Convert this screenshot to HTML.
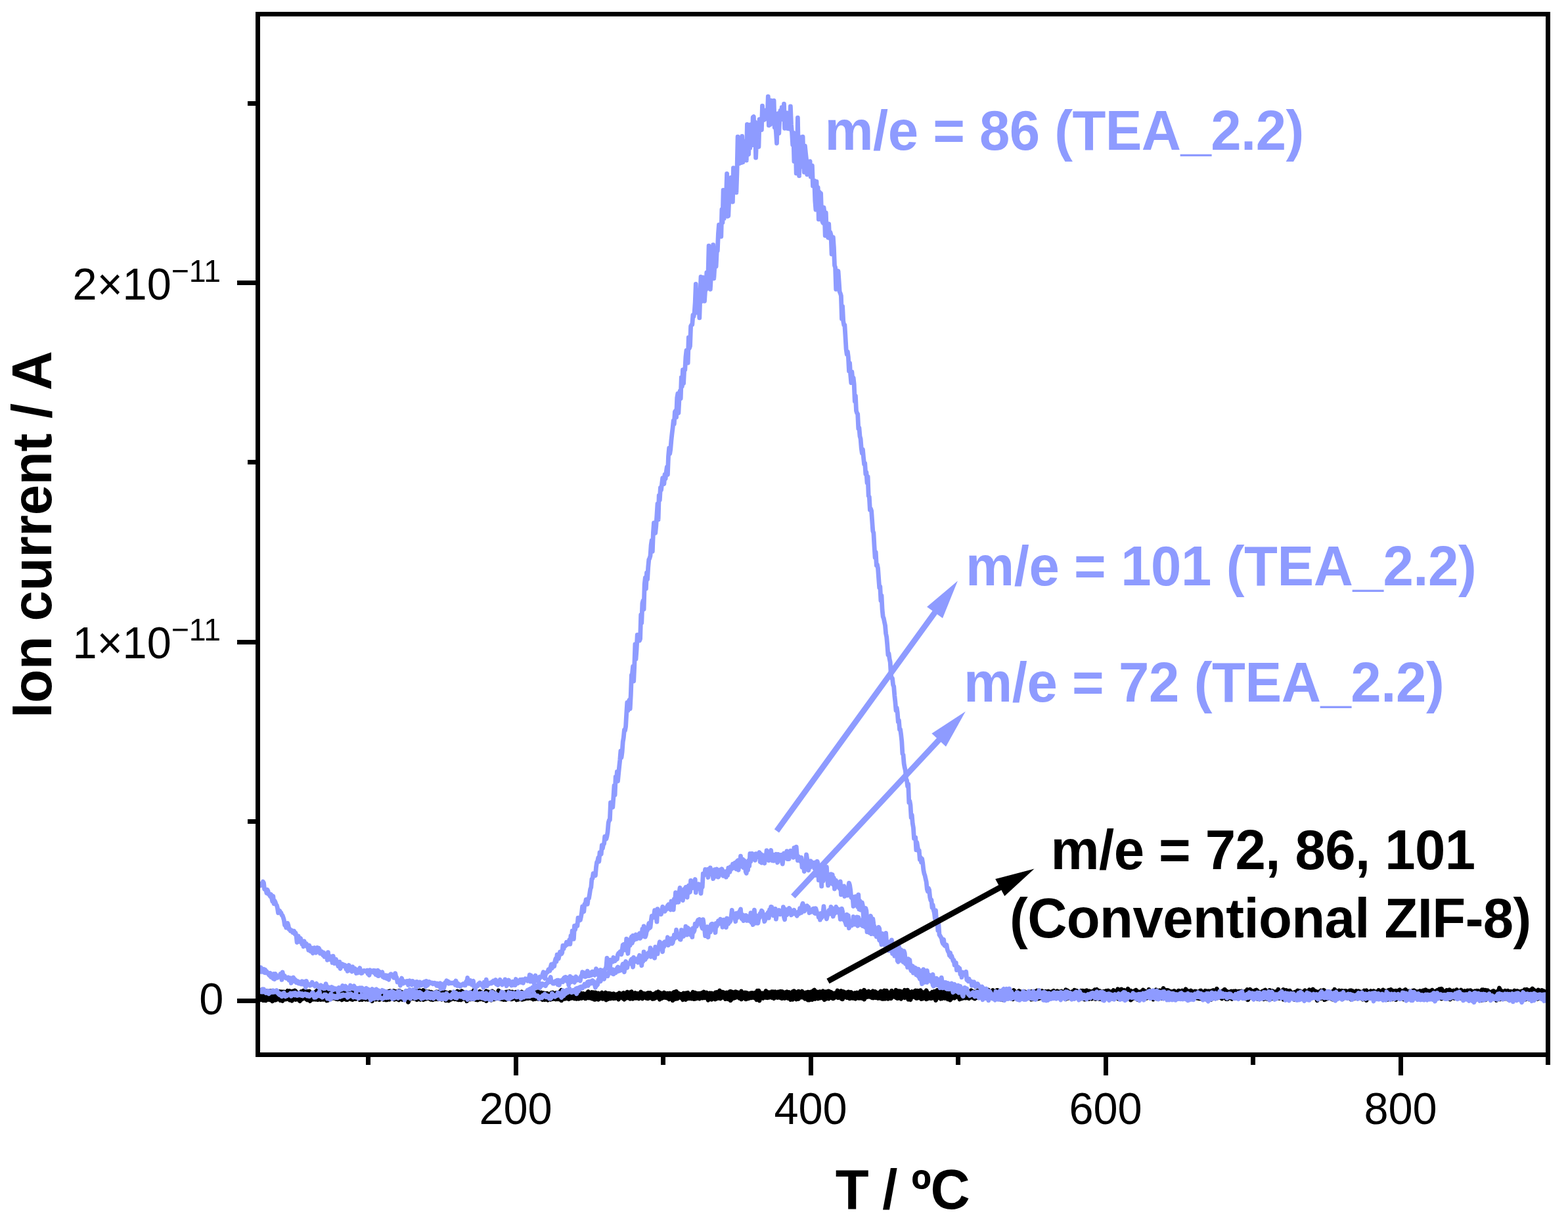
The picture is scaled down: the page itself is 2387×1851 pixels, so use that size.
<!DOCTYPE html><html><head><meta charset="utf-8"><title>Ion current vs T</title>
<style>html,body{margin:0;padding:0;background:#fff}svg{display:block}text{font-family:"Liberation Sans",sans-serif}.b{font-weight:bold;font-size:83.33px}.t{font-size:66.67px}.s{font-size:46.4px}</style></head><body>
<svg width="2387" height="1851" viewBox="0 0 2387 1851">
<rect x="0" y="0" width="2387" height="1851" fill="#fff"/>
<defs><clipPath id="cp"><rect x="396" y="25" width="1957" height="1577"/></clipPath></defs>
<g clip-path="url(#cp)">
<polyline points="396.0,1513.3 397.1,1510.0 398.2,1509.7 399.3,1506.3 400.4,1510.5 401.5,1510.0 402.6,1509.7 403.7,1511.0 404.8,1511.2 405.9,1508.8 407.0,1509.1 408.1,1509.8 409.2,1511.6 410.3,1511.4 411.4,1508.5 412.5,1508.8 413.6,1511.7 414.7,1513.1 415.8,1510.5 416.9,1509.5 418.0,1512.3 419.1,1510.1 420.2,1511.7 421.3,1513.1 422.4,1511.6 423.5,1510.7 424.6,1511.8 425.7,1509.6 426.8,1510.3 427.9,1509.7 429.0,1510.3 430.1,1509.8 431.2,1510.3 432.3,1510.0 433.4,1510.8 434.5,1510.7 435.6,1511.1 436.7,1512.9 437.8,1508.2 438.9,1512.7 440.0,1510.3 441.1,1508.7 442.2,1510.4 443.3,1510.8 444.4,1512.4 445.5,1509.0 446.6,1511.0 447.7,1510.9 448.8,1508.0 449.9,1508.8 451.0,1511.6 452.1,1511.8 453.2,1512.4 454.3,1511.5 455.4,1511.3 456.5,1510.9 457.6,1512.6 458.7,1509.4 459.8,1510.5 460.9,1511.3 462.0,1508.2 463.1,1512.8 464.2,1509.5 465.3,1510.6 466.4,1514.2 467.5,1509.4 468.6,1509.9 469.7,1513.2 470.8,1509.0 471.9,1510.1 473.0,1511.6 474.1,1511.5 475.2,1511.7 476.3,1511.4 477.4,1512.9 478.5,1512.4 479.6,1511.7 480.7,1509.7 481.8,1509.6 482.9,1507.7 484.0,1511.9 485.1,1507.9 486.2,1512.2 487.3,1513.8 488.4,1509.1 489.5,1509.7 490.6,1510.0 491.7,1512.1 492.8,1509.4 493.9,1510.6 495.0,1510.0 496.1,1510.4 497.2,1512.9 498.3,1509.3 499.4,1511.0 500.5,1511.3 501.6,1512.2 502.7,1508.8 503.8,1512.6 504.9,1511.6 506.0,1512.3 507.1,1511.0 508.2,1508.2 509.3,1509.8 510.4,1512.2 511.5,1510.9 512.6,1510.8 513.7,1513.8 514.8,1514.4 515.9,1510.8 517.0,1514.0 518.1,1507.7 519.2,1507.6 520.3,1512.3 521.4,1510.5 522.5,1511.8 523.6,1511.7 524.7,1510.8 525.8,1512.0 526.9,1511.2 528.0,1508.5 529.1,1511.3 530.2,1511.2 531.3,1513.9 532.4,1509.1 533.5,1511.0 534.6,1510.3 535.7,1510.7 536.8,1513.6 537.9,1511.6 539.0,1510.2 540.1,1511.2 541.2,1512.2 542.3,1509.4 543.4,1510.6 544.5,1513.5 545.6,1512.4 546.7,1510.9 547.8,1510.2 548.9,1510.8 550.0,1508.5 551.1,1512.5 552.2,1511.6 553.3,1511.2 554.4,1508.9 555.5,1509.9 556.6,1511.9 557.7,1511.4 558.8,1510.2 559.9,1511.8 561.0,1512.5 562.1,1510.0 563.2,1510.2 564.3,1509.7 565.4,1509.2 566.5,1512.3 567.6,1511.9 568.7,1511.6 569.8,1509.2 570.9,1509.4 572.0,1511.0 573.1,1510.4 574.2,1511.3 575.3,1510.0 576.4,1512.1 577.5,1514.0 578.6,1513.6 579.7,1513.7 580.8,1511.2 581.9,1512.6 583.0,1510.5 584.1,1512.6 585.2,1510.5 586.3,1510.3 587.4,1510.1 588.5,1512.3 589.6,1511.6 590.7,1511.4 591.8,1509.3 592.9,1511.4 594.0,1508.8 595.1,1513.5 596.2,1510.9 597.3,1511.5 598.4,1511.0 599.5,1508.6 600.6,1509.0 601.7,1511.1 602.8,1513.6 603.9,1509.4 605.0,1510.1 606.1,1511.1 607.2,1508.5 608.3,1508.5 609.4,1510.5 610.5,1511.1 611.6,1510.6 612.7,1513.7 613.8,1511.0 614.9,1511.8 616.0,1513.8 617.1,1514.0 618.2,1508.7 619.3,1510.6 620.4,1513.1 621.5,1509.0 622.6,1509.8 623.7,1509.2 624.8,1509.1 625.9,1509.4 627.0,1511.5 628.1,1513.3 629.2,1513.7 630.3,1511.3 631.4,1508.1 632.5,1511.2 633.6,1510.7 634.7,1511.8 635.8,1511.1 636.9,1508.4 638.0,1512.0 639.1,1508.0 640.2,1510.2 641.3,1511.8 642.4,1511.9 643.5,1513.8 644.6,1507.5 645.7,1511.9 646.8,1512.4 647.9,1510.8 649.0,1512.4 650.1,1509.6 651.2,1512.4 652.3,1512.2 653.4,1509.8 654.5,1510.3 655.6,1511.1 656.7,1510.3 657.8,1513.0 658.9,1511.6 660.0,1513.5 661.1,1513.3 662.2,1511.5 663.3,1511.1 664.4,1509.9 665.5,1510.1 666.6,1510.1 667.7,1512.0 668.8,1510.0 669.9,1511.5 671.0,1511.7 672.1,1510.6 673.2,1511.1 674.3,1513.7 675.4,1514.0 676.5,1510.2 677.6,1511.1 678.7,1510.8 679.8,1511.0 680.9,1513.9 682.0,1512.5 683.1,1513.5 684.2,1514.3 685.3,1510.7 686.4,1511.2 687.5,1511.5 688.6,1513.1 689.7,1511.3 690.8,1512.5 691.9,1513.3 693.0,1513.3 694.1,1512.2 695.2,1510.2 696.3,1509.0 697.4,1513.3 698.5,1512.2 699.6,1510.0 700.7,1510.7 701.8,1510.8 702.9,1508.8 704.0,1511.9 705.1,1510.3 706.2,1511.1 707.3,1512.7 708.4,1511.4 709.5,1512.4 710.6,1512.3 711.7,1511.6 712.8,1511.7 713.9,1514.6 715.0,1511.4 716.1,1514.2 717.2,1510.2 718.3,1512.8 719.4,1511.9 720.5,1510.5 721.6,1507.4 722.7,1514.2 723.8,1509.9 724.9,1510.2 726.0,1511.9 727.1,1511.8 728.2,1512.2 729.3,1511.3 730.4,1509.4 731.5,1513.1 732.6,1510.3 733.7,1512.1 734.8,1512.7 735.9,1513.7 737.0,1511.5 738.1,1511.3 739.2,1511.5 740.3,1508.9 741.4,1510.6 742.5,1510.2 743.6,1510.0 744.7,1512.1 745.8,1511.4 746.9,1514.4 748.0,1514.3 749.1,1508.9 750.2,1512.1 751.3,1510.3 752.4,1512.8 753.5,1512.2 754.6,1513.4 755.7,1512.5 756.8,1513.2 757.9,1511.5 759.0,1508.0 760.1,1510.1 761.2,1510.6 762.3,1511.2 763.4,1510.4 764.5,1514.7 765.6,1511.8 766.7,1514.1 767.8,1511.5 768.9,1514.7 770.0,1510.2 771.1,1513.1 772.2,1510.0 773.3,1512.8 774.4,1514.7 775.5,1509.5 776.6,1510.7 777.7,1512.5 778.8,1511.9 779.9,1510.0 781.0,1514.0 782.1,1512.3 783.2,1514.3 784.3,1512.7 785.4,1510.4 786.5,1511.5 787.6,1514.4 788.7,1510.0 789.8,1511.5 790.9,1513.2 792.0,1513.9 793.1,1513.6 794.2,1509.9 795.3,1515.6 796.4,1512.0 797.5,1512.3 798.6,1512.3 799.7,1512.0 800.8,1510.8 801.9,1511.8 803.0,1514.5 804.1,1510.2 805.2,1508.5 806.3,1513.2 807.4,1512.9 808.5,1513.6 809.6,1515.2 810.7,1511.3 811.8,1512.7 812.9,1513.2 814.0,1514.4 815.1,1514.1 816.2,1511.1 817.3,1510.3 818.4,1512.1 819.5,1509.9 820.6,1514.3 821.7,1511.9 822.8,1512.0 823.9,1511.1 825.0,1515.0 826.1,1513.0 827.2,1511.9 828.3,1513.5 829.4,1512.4 830.5,1513.5 831.6,1514.7 832.7,1512.2 833.8,1513.4 834.9,1513.4 836.0,1514.4 837.1,1513.6 838.2,1512.7 839.3,1511.6 840.4,1513.1 841.5,1511.0 842.6,1513.7 843.7,1512.8 844.8,1513.6 845.9,1511.9 847.0,1511.4 848.1,1511.3 849.2,1514.5 850.3,1512.4 851.4,1512.4 852.5,1509.9 853.6,1512.7 854.7,1507.3 855.8,1515.0 856.9,1512.4 858.0,1512.9 859.1,1510.5 860.2,1511.1 861.3,1513.8 862.4,1512.5 863.5,1513.5 864.6,1514.9 865.7,1513.9 866.8,1509.9 867.9,1511.3 869.0,1511.1 870.1,1511.5 871.2,1509.6 872.3,1509.7 873.4,1511.8 874.5,1512.0 875.6,1513.8 876.7,1512.5 877.8,1515.3 878.9,1510.1 880.0,1510.8 881.1,1513.4 882.2,1512.6 883.3,1511.4 884.4,1514.3 885.5,1514.8 886.6,1515.1 887.7,1512.4 888.8,1513.1 889.9,1513.4 891.0,1513.2 892.1,1514.7 893.2,1512.3 894.3,1513.7 895.4,1509.6 896.5,1514.3 897.6,1515.8 898.7,1513.1 899.8,1514.8 900.9,1510.5 902.0,1512.6 903.1,1510.7 904.2,1513.7 905.3,1514.0 906.4,1511.0 907.5,1511.9 908.6,1512.3 909.7,1517.1 910.8,1513.1 911.9,1513.5 913.0,1513.8 914.1,1513.8 915.2,1512.9 916.3,1511.2 917.4,1512.2 918.5,1515.9 919.6,1513.7 920.7,1512.7 921.8,1511.2 922.9,1513.3 924.0,1513.4 925.1,1512.3 926.2,1514.8 927.3,1512.4 928.4,1513.1 929.5,1514.8 930.6,1513.8 931.7,1515.2 932.8,1513.1 933.9,1512.8 935.0,1514.2 936.1,1513.8 937.2,1515.4 938.3,1514.1 939.4,1513.5 940.5,1514.2 941.6,1514.5 942.7,1511.7 943.8,1513.2 944.9,1512.9 946.0,1515.4 947.1,1512.7 948.2,1515.1 949.3,1511.4 950.4,1513.3 951.5,1515.1 952.6,1513.0 953.7,1515.2 954.8,1510.1 955.9,1513.4 957.0,1513.6 958.1,1513.2 959.2,1510.9 960.3,1514.4 961.4,1509.6 962.5,1514.8 963.6,1513.8 964.7,1514.9 965.8,1512.9 966.9,1511.5 968.0,1512.4 969.1,1512.5 970.2,1514.2 971.3,1512.7 972.4,1513.9 973.5,1514.0 974.6,1515.5 975.7,1510.0 976.8,1512.6 977.9,1514.3 979.0,1514.3 980.1,1512.3 981.2,1512.8 982.3,1513.0 983.4,1513.4 984.5,1512.3 985.6,1512.1 986.7,1511.4 987.8,1512.5 988.9,1515.3 990.0,1511.6 991.1,1514.7 992.2,1516.2 993.3,1513.4 994.4,1516.9 995.5,1512.9 996.6,1515.7 997.7,1513.0 998.8,1511.1 999.9,1513.6 1001.0,1516.1 1002.1,1512.1 1003.2,1513.8 1004.3,1511.4 1005.4,1511.6 1006.5,1513.8 1007.6,1512.7 1008.7,1513.9 1009.8,1515.0 1010.9,1511.1 1012.0,1511.9 1013.1,1513.1 1014.2,1516.7 1015.3,1512.4 1016.4,1512.2 1017.5,1513.7 1018.6,1516.3 1019.7,1512.0 1020.8,1512.4 1021.9,1513.0 1023.0,1514.1 1024.1,1516.4 1025.2,1510.9 1026.3,1510.3 1027.4,1513.2 1028.5,1513.8 1029.6,1509.3 1030.7,1511.9 1031.8,1514.4 1032.9,1512.0 1034.0,1513.6 1035.1,1513.1 1036.2,1513.9 1037.3,1513.5 1038.4,1513.3 1039.5,1514.8 1040.6,1511.9 1041.7,1513.0 1042.8,1514.6 1043.9,1511.9 1045.0,1512.2 1046.1,1511.6 1047.2,1511.3 1048.3,1516.0 1049.4,1513.5 1050.5,1515.8 1051.6,1513.9 1052.7,1512.9 1053.8,1512.3 1054.9,1513.2 1056.0,1512.7 1057.1,1514.2 1058.2,1511.3 1059.3,1513.0 1060.4,1513.4 1061.5,1512.3 1062.6,1512.3 1063.7,1513.5 1064.8,1513.6 1065.9,1512.5 1067.0,1512.6 1068.1,1511.7 1069.2,1513.5 1070.3,1512.4 1071.4,1510.1 1072.5,1512.1 1073.6,1513.6 1074.7,1513.0 1075.8,1511.1 1076.9,1513.7 1078.0,1513.5 1079.1,1513.5 1080.2,1514.9 1081.3,1512.0 1082.4,1513.4 1083.5,1512.0 1084.6,1514.0 1085.7,1514.3 1086.8,1513.2 1087.9,1513.6 1089.0,1511.1 1090.1,1513.4 1091.2,1510.5 1092.3,1515.8 1093.4,1514.2 1094.5,1509.9 1095.6,1508.1 1096.7,1514.4 1097.8,1510.9 1098.9,1513.1 1100.0,1510.2 1101.1,1512.4 1102.2,1511.2 1103.3,1513.2 1104.4,1511.7 1105.5,1514.6 1106.6,1511.0 1107.7,1514.2 1108.8,1512.1 1109.9,1513.0 1111.0,1509.6 1112.1,1509.3 1113.2,1513.8 1114.3,1510.1 1115.4,1511.6 1116.5,1511.6 1117.6,1510.6 1118.7,1512.4 1119.8,1509.8 1120.9,1510.1 1122.0,1513.5 1123.1,1510.7 1124.2,1513.2 1125.3,1513.1 1126.4,1514.4 1127.5,1512.7 1128.6,1509.1 1129.7,1511.0 1130.8,1511.3 1131.9,1513.9 1133.0,1512.5 1134.1,1511.2 1135.2,1512.7 1136.3,1511.4 1137.4,1512.8 1138.5,1512.2 1139.6,1513.7 1140.7,1512.5 1141.8,1513.5 1142.9,1511.9 1144.0,1513.1 1145.1,1511.7 1146.2,1512.9 1147.3,1512.3 1148.4,1511.7 1149.5,1511.2 1150.6,1511.5 1151.7,1512.7 1152.8,1508.2 1153.9,1513.9 1155.0,1508.1 1156.1,1511.6 1157.2,1511.4 1158.3,1513.1 1159.4,1512.2 1160.5,1511.8 1161.6,1512.0 1162.7,1513.4 1163.8,1515.6 1164.9,1512.5 1166.0,1508.5 1167.1,1511.2 1168.2,1512.5 1169.3,1517.1 1170.4,1510.6 1171.5,1511.2 1172.6,1512.7 1173.7,1512.3 1174.8,1509.7 1175.9,1513.3 1177.0,1509.7 1178.1,1511.4 1179.2,1513.9 1180.3,1509.7 1181.4,1511.2 1182.5,1514.5 1183.6,1511.4 1184.7,1510.1 1185.8,1510.8 1186.9,1513.1 1188.0,1509.2 1189.1,1510.7 1190.2,1509.4 1191.3,1509.9 1192.4,1513.8 1193.5,1511.6 1194.6,1511.0 1195.7,1512.4 1196.8,1510.6 1197.9,1509.8 1199.0,1513.6 1200.1,1513.1 1201.2,1510.4 1202.3,1512.8 1203.4,1514.0 1204.5,1512.5 1205.6,1512.5 1206.7,1509.7 1207.8,1511.5 1208.9,1508.7 1210.0,1513.5 1211.1,1511.4 1212.2,1513.8 1213.3,1510.4 1214.4,1513.1 1215.5,1509.1 1216.6,1511.0 1217.7,1512.5 1218.8,1512.2 1219.9,1511.5 1221.0,1509.0 1222.1,1513.8 1223.2,1512.7 1224.3,1513.5 1225.4,1513.4 1226.5,1511.0 1227.6,1512.2 1228.7,1515.9 1229.8,1510.2 1230.9,1512.3 1232.0,1510.7 1233.1,1514.4 1234.2,1511.9 1235.3,1509.9 1236.4,1510.6 1237.5,1509.3 1238.6,1507.9 1239.7,1507.2 1240.8,1510.4 1241.9,1509.7 1243.0,1511.8 1244.1,1510.2 1245.2,1511.9 1246.3,1514.4 1247.4,1509.6 1248.5,1509.6 1249.6,1513.1 1250.7,1515.3 1251.8,1510.1 1252.9,1508.8 1254.0,1511.0 1255.1,1510.8 1256.2,1512.6 1257.3,1509.8 1258.4,1511.1 1259.5,1511.0 1260.6,1508.9 1261.7,1508.9 1262.8,1512.2 1263.9,1512.3 1265.0,1510.2 1266.1,1514.0 1267.2,1513.0 1268.3,1512.2 1269.4,1512.4 1270.5,1512.0 1271.6,1512.6 1272.7,1512.8 1273.8,1511.5 1274.9,1508.1 1276.0,1511.2 1277.1,1510.1 1278.2,1509.5 1279.3,1512.4 1280.4,1508.5 1281.5,1512.7 1282.6,1510.3 1283.7,1509.4 1284.8,1510.0 1285.9,1515.2 1287.0,1513.8 1288.1,1510.9 1289.2,1513.1 1290.3,1514.3 1291.4,1509.9 1292.5,1510.9 1293.6,1512.8 1294.7,1512.0 1295.8,1510.7 1296.9,1514.0 1298.0,1512.2 1299.1,1512.6 1300.2,1515.2 1301.3,1512.1 1302.4,1515.6 1303.5,1511.8 1304.6,1511.0 1305.7,1511.5 1306.8,1512.7 1307.9,1512.4 1309.0,1511.9 1310.1,1508.9 1311.2,1509.5 1312.3,1510.8 1313.4,1512.5 1314.5,1513.6 1315.6,1507.3 1316.7,1511.0 1317.8,1510.5 1318.9,1511.1 1320.0,1511.6 1321.1,1509.8 1322.2,1509.1 1323.3,1512.9 1324.4,1512.4 1325.5,1510.5 1326.6,1511.0 1327.7,1510.1 1328.8,1508.9 1329.9,1512.3 1331.0,1510.1 1332.1,1509.4 1333.2,1510.2 1334.3,1513.9 1335.4,1511.9 1336.5,1511.6 1337.6,1511.3 1338.7,1512.6 1339.8,1512.4 1340.9,1509.0 1342.0,1510.7 1343.1,1510.1 1344.2,1511.5 1345.3,1511.0 1346.4,1507.9 1347.5,1513.0 1348.6,1511.5 1349.7,1508.3 1350.8,1513.0 1351.9,1511.3 1353.0,1511.9 1354.1,1511.1 1355.2,1511.3 1356.3,1510.2 1357.4,1508.3 1358.5,1510.0 1359.6,1511.3 1360.7,1511.1 1361.8,1512.1 1362.9,1510.9 1364.0,1507.3 1365.1,1512.2 1366.2,1509.7 1367.3,1508.8 1368.4,1510.5 1369.5,1508.7 1370.6,1511.6 1371.7,1509.4 1372.8,1514.1 1373.9,1510.5 1375.0,1510.0 1376.1,1509.9 1377.2,1507.4 1378.3,1509.5 1379.4,1509.7 1380.5,1510.4 1381.6,1507.3 1382.7,1511.0 1383.8,1513.0 1384.9,1510.2 1386.0,1510.8 1387.1,1511.6 1388.2,1509.6 1389.3,1510.2 1390.4,1512.4 1391.5,1511.2 1392.6,1508.9 1393.7,1508.0 1394.8,1514.6 1395.9,1511.6 1397.0,1508.3 1398.1,1511.1 1399.2,1512.0 1400.3,1511.1 1401.4,1507.8 1402.5,1513.8 1403.6,1511.9 1404.7,1510.6 1405.8,1512.0 1406.9,1510.5 1408.0,1510.3 1409.1,1512.3 1410.2,1507.7 1411.3,1512.5 1412.4,1511.5 1413.5,1512.1 1414.6,1512.4 1415.7,1513.4 1416.8,1513.2 1417.9,1512.3 1419.0,1510.3 1420.1,1512.0 1421.2,1510.1 1422.3,1509.3 1423.4,1511.6 1424.5,1511.5 1425.6,1512.8 1426.7,1507.4 1427.8,1511.9 1428.9,1512.0 1430.0,1511.1 1431.1,1513.3 1432.2,1509.5 1433.3,1511.4 1434.4,1510.3 1435.5,1510.8 1436.6,1509.3 1437.7,1510.6 1438.8,1512.0 1439.9,1511.1 1441.0,1511.4 1442.1,1509.6 1443.2,1513.4 1444.3,1509.7 1445.4,1510.9 1446.5,1511.8 1447.6,1510.5 1448.7,1512.1 1449.8,1511.1 1450.9,1513.6 1452.0,1511.7 1453.1,1511.5 1454.2,1509.5 1455.3,1511.6 1456.4,1512.4 1457.5,1511.5 1458.6,1509.3 1459.7,1509.9 1460.8,1510.4 1461.9,1510.8 1463.0,1508.5 1464.1,1513.8 1465.2,1510.6 1466.3,1510.9 1467.4,1510.0 1468.5,1510.7 1469.6,1513.8 1470.7,1509.2 1471.8,1509.9 1472.9,1509.0 1474.0,1509.8 1475.1,1513.2 1476.2,1509.7 1477.3,1510.0 1478.4,1507.8 1479.5,1510.1 1480.6,1511.0 1481.7,1509.9 1482.8,1510.0 1483.9,1512.0 1485.0,1511.5 1486.1,1510.5 1487.2,1509.4 1488.3,1508.2 1489.4,1513.4 1490.5,1508.1 1491.6,1511.7 1492.7,1510.3 1493.8,1509.4 1494.9,1512.1 1496.0,1509.4 1497.1,1512.6 1498.2,1509.0 1499.3,1511.4 1500.4,1512.7 1501.5,1509.0 1502.6,1514.0 1503.7,1512.0 1504.8,1507.0 1505.9,1512.8 1507.0,1513.7 1508.1,1510.2 1509.2,1510.3 1510.3,1511.2 1511.4,1507.5 1512.5,1510.8 1513.6,1512.1 1514.7,1509.7 1515.8,1512.3 1516.9,1514.1 1518.0,1507.4 1519.1,1507.6 1520.2,1509.4 1521.3,1511.5 1522.4,1511.1 1523.5,1509.0 1524.6,1508.7 1525.7,1509.3 1526.8,1513.2 1527.9,1509.0 1529.0,1509.6 1530.1,1512.0 1531.2,1510.0 1532.3,1508.9 1533.4,1512.8 1534.5,1511.0 1535.6,1509.4 1536.7,1509.9 1537.8,1512.0 1538.9,1509.9 1540.0,1510.9 1541.1,1511.9 1542.2,1512.1 1543.3,1507.5 1544.4,1509.7 1545.5,1509.9 1546.6,1510.6 1547.7,1511.7 1548.8,1512.3 1549.9,1509.7 1551.0,1508.7 1552.1,1510.8 1553.2,1509.5 1554.3,1513.2 1555.4,1511.0 1556.5,1510.5 1557.6,1512.0 1558.7,1509.4 1559.8,1509.9 1560.9,1510.1 1562.0,1511.5 1563.1,1512.5 1564.2,1511.7 1565.3,1511.6 1566.4,1510.0 1567.5,1511.0 1568.6,1510.0 1569.7,1512.3 1570.8,1509.4 1571.9,1510.3 1573.0,1510.8 1574.1,1511.6 1575.2,1509.2 1576.3,1510.0 1577.4,1509.0 1578.5,1508.2 1579.6,1512.1 1580.7,1511.1 1581.8,1507.9 1582.9,1508.8 1584.0,1511.2 1585.1,1509.4 1586.2,1508.6 1587.3,1512.3 1588.4,1509.5 1589.5,1509.7 1590.6,1511.2 1591.7,1509.2 1592.8,1510.3 1593.9,1510.5 1595.0,1511.5 1596.1,1509.1 1597.2,1512.0 1598.3,1510.8 1599.4,1513.1 1600.5,1510.6 1601.6,1509.4 1602.7,1509.4 1603.8,1508.4 1604.9,1510.2 1606.0,1510.1 1607.1,1511.7 1608.2,1510.3 1609.3,1508.8 1610.4,1511.8 1611.5,1509.5 1612.6,1510.6 1613.7,1512.5 1614.8,1512.2 1615.9,1509.0 1617.0,1510.0 1618.1,1512.3 1619.2,1511.7 1620.3,1511.0 1621.4,1511.6 1622.5,1506.7 1623.6,1509.6 1624.7,1507.8 1625.8,1509.1 1626.9,1509.5 1628.0,1510.8 1629.1,1512.0 1630.2,1511.3 1631.3,1510.5 1632.4,1509.5 1633.5,1512.1 1634.6,1510.5 1635.7,1507.2 1636.8,1509.9 1637.9,1510.8 1639.0,1508.4 1640.1,1510.3 1641.2,1512.4 1642.3,1509.5 1643.4,1509.9 1644.5,1509.9 1645.6,1508.4 1646.7,1509.2 1647.8,1508.3 1648.9,1509.4 1650.0,1508.6 1651.1,1511.4 1652.2,1509.7 1653.3,1511.3 1654.4,1507.8 1655.5,1509.8 1656.6,1510.8 1657.7,1511.0 1658.8,1508.9 1659.9,1509.7 1661.0,1510.0 1662.1,1509.3 1663.2,1509.2 1664.3,1510.7 1665.4,1508.0 1666.5,1506.9 1667.6,1509.1 1668.7,1510.3 1669.8,1506.2 1670.9,1512.1 1672.0,1510.0 1673.1,1510.8 1674.2,1508.5 1675.3,1509.8 1676.4,1512.8 1677.5,1512.9 1678.6,1510.9 1679.7,1509.4 1680.8,1509.7 1681.9,1512.0 1683.0,1508.7 1684.1,1508.4 1685.2,1509.7 1686.3,1511.3 1687.4,1508.1 1688.5,1510.4 1689.6,1510.5 1690.7,1510.1 1691.8,1509.6 1692.9,1511.3 1694.0,1510.8 1695.1,1507.5 1696.2,1512.4 1697.3,1510.6 1698.4,1510.3 1699.5,1509.2 1700.6,1509.3 1701.7,1505.7 1702.8,1509.4 1703.9,1510.7 1705.0,1510.8 1706.1,1508.7 1707.2,1506.0 1708.3,1507.9 1709.4,1509.3 1710.5,1511.8 1711.6,1507.2 1712.7,1509.8 1713.8,1510.7 1714.9,1510.8 1716.0,1509.6 1717.1,1505.3 1718.2,1510.7 1719.3,1510.0 1720.4,1510.6 1721.5,1508.2 1722.6,1509.0 1723.7,1512.2 1724.8,1509.6 1725.9,1509.8 1727.0,1508.6 1728.1,1511.8 1729.2,1507.1 1730.3,1509.0 1731.4,1510.5 1732.5,1509.7 1733.6,1511.2 1734.7,1510.5 1735.8,1512.1 1736.9,1509.5 1738.0,1509.6 1739.1,1510.3 1740.2,1507.0 1741.3,1512.1 1742.4,1508.4 1743.5,1511.7 1744.6,1512.2 1745.7,1511.5 1746.8,1510.2 1747.9,1508.8 1749.0,1506.4 1750.1,1510.8 1751.2,1509.5 1752.3,1512.7 1753.4,1509.4 1754.5,1510.9 1755.6,1509.2 1756.7,1510.6 1757.8,1509.3 1758.9,1509.6 1760.0,1506.8 1761.1,1508.7 1762.2,1509.6 1763.3,1511.9 1764.4,1510.3 1765.5,1507.9 1766.6,1512.4 1767.7,1510.4 1768.8,1511.7 1769.9,1508.4 1771.0,1504.5 1772.1,1508.6 1773.2,1508.2 1774.3,1510.3 1775.4,1507.4 1776.5,1508.4 1777.6,1507.6 1778.7,1510.1 1779.8,1508.4 1780.9,1512.1 1782.0,1511.2 1783.1,1511.2 1784.2,1509.5 1785.3,1510.3 1786.4,1511.3 1787.5,1508.5 1788.6,1511.9 1789.7,1509.8 1790.8,1511.9 1791.9,1513.5 1793.0,1512.4 1794.1,1508.1 1795.2,1511.9 1796.3,1509.4 1797.4,1509.2 1798.5,1509.5 1799.6,1508.0 1800.7,1510.3 1801.8,1508.7 1802.9,1511.7 1804.0,1510.4 1805.1,1505.7 1806.2,1508.3 1807.3,1508.2 1808.4,1508.7 1809.5,1508.8 1810.6,1510.2 1811.7,1509.6 1812.8,1508.1 1813.9,1510.6 1815.0,1511.3 1816.1,1509.9 1817.2,1511.8 1818.3,1510.6 1819.4,1509.0 1820.5,1509.2 1821.6,1509.9 1822.7,1510.7 1823.8,1510.1 1824.9,1511.4 1826.0,1511.7 1827.1,1508.2 1828.2,1508.0 1829.3,1509.7 1830.4,1510.6 1831.5,1511.3 1832.6,1510.9 1833.7,1510.9 1834.8,1508.3 1835.9,1510.5 1837.0,1508.8 1838.1,1510.5 1839.2,1511.3 1840.3,1508.8 1841.4,1509.5 1842.5,1513.8 1843.6,1508.6 1844.7,1509.0 1845.8,1508.1 1846.9,1507.5 1848.0,1511.5 1849.1,1508.8 1850.2,1508.8 1851.3,1508.5 1852.4,1505.3 1853.5,1511.0 1854.6,1508.9 1855.7,1509.8 1856.8,1512.0 1857.9,1509.6 1859.0,1510.0 1860.1,1510.1 1861.2,1511.9 1862.3,1507.7 1863.4,1508.9 1864.5,1506.3 1865.6,1509.9 1866.7,1510.9 1867.8,1509.1 1868.9,1513.1 1870.0,1511.4 1871.1,1513.0 1872.2,1510.1 1873.3,1512.8 1874.4,1509.0 1875.5,1510.5 1876.6,1510.1 1877.7,1509.2 1878.8,1512.6 1879.9,1512.0 1881.0,1508.8 1882.1,1511.0 1883.2,1510.1 1884.3,1510.2 1885.4,1510.9 1886.5,1509.1 1887.6,1510.2 1888.7,1510.4 1889.8,1509.0 1890.9,1509.1 1892.0,1511.3 1893.1,1510.0 1894.2,1513.8 1895.3,1513.4 1896.4,1508.7 1897.5,1510.4 1898.6,1506.6 1899.7,1508.8 1900.8,1508.4 1901.9,1508.6 1903.0,1506.4 1904.1,1510.3 1905.2,1510.1 1906.3,1508.5 1907.4,1509.7 1908.5,1511.3 1909.6,1512.4 1910.7,1507.7 1911.8,1512.4 1912.9,1507.0 1914.0,1508.5 1915.1,1509.2 1916.2,1512.3 1917.3,1510.8 1918.4,1510.7 1919.5,1512.3 1920.6,1510.2 1921.7,1509.1 1922.8,1512.2 1923.9,1509.4 1925.0,1507.7 1926.1,1507.0 1927.2,1510.1 1928.3,1512.8 1929.4,1511.0 1930.5,1509.9 1931.6,1511.8 1932.7,1507.4 1933.8,1510.5 1934.9,1508.9 1936.0,1512.0 1937.1,1508.4 1938.2,1511.1 1939.3,1510.1 1940.4,1509.8 1941.5,1510.9 1942.6,1509.6 1943.7,1512.1 1944.8,1509.4 1945.9,1506.3 1947.0,1512.1 1948.1,1511.9 1949.2,1510.6 1950.3,1512.0 1951.4,1510.9 1952.5,1508.4 1953.6,1506.5 1954.7,1508.1 1955.8,1509.3 1956.9,1510.6 1958.0,1507.5 1959.1,1508.3 1960.2,1512.2 1961.3,1508.6 1962.4,1508.6 1963.5,1508.2 1964.6,1512.4 1965.7,1511.0 1966.8,1511.2 1967.9,1512.4 1969.0,1511.3 1970.1,1511.9 1971.2,1510.4 1972.3,1511.2 1973.4,1510.8 1974.5,1510.9 1975.6,1507.9 1976.7,1509.4 1977.8,1509.2 1978.9,1508.7 1980.0,1509.7 1981.1,1512.7 1982.2,1511.3 1983.3,1509.9 1984.4,1510.3 1985.5,1512.0 1986.6,1507.8 1987.7,1510.4 1988.8,1512.4 1989.9,1512.6 1991.0,1511.2 1992.1,1510.6 1993.2,1506.8 1994.3,1508.6 1995.4,1509.7 1996.5,1510.3 1997.6,1510.4 1998.7,1506.0 1999.8,1508.9 2000.9,1510.2 2002.0,1508.5 2003.1,1509.3 2004.2,1510.5 2005.3,1510.2 2006.4,1510.0 2007.5,1510.9 2008.6,1511.5 2009.7,1509.2 2010.8,1508.0 2011.9,1508.6 2013.0,1508.9 2014.1,1509.6 2015.2,1507.3 2016.3,1508.5 2017.4,1509.3 2018.5,1511.9 2019.6,1510.5 2020.7,1509.5 2021.8,1511.1 2022.9,1510.0 2024.0,1510.1 2025.1,1511.4 2026.2,1510.3 2027.3,1510.0 2028.4,1510.9 2029.5,1508.8 2030.6,1509.8 2031.7,1506.3 2032.8,1509.0 2033.9,1512.2 2035.0,1509.1 2036.1,1509.7 2037.2,1509.0 2038.3,1508.1 2039.4,1510.5 2040.5,1509.7 2041.6,1511.5 2042.7,1508.3 2043.8,1509.8 2044.9,1509.2 2046.0,1508.8 2047.1,1511.5 2048.2,1508.5 2049.3,1508.6 2050.4,1513.8 2051.5,1509.6 2052.6,1509.4 2053.7,1510.5 2054.8,1508.1 2055.9,1510.3 2057.0,1507.8 2058.1,1509.0 2059.2,1508.8 2060.3,1511.9 2061.4,1510.7 2062.5,1512.7 2063.6,1512.4 2064.7,1508.6 2065.8,1510.6 2066.9,1509.0 2068.0,1508.7 2069.1,1511.6 2070.2,1512.0 2071.3,1509.9 2072.4,1510.3 2073.5,1510.2 2074.6,1510.2 2075.7,1510.3 2076.8,1508.1 2077.9,1510.7 2079.0,1508.6 2080.1,1507.8 2081.2,1509.5 2082.3,1510.1 2083.4,1511.0 2084.5,1510.3 2085.6,1510.2 2086.7,1508.6 2087.8,1510.3 2088.9,1510.0 2090.0,1510.2 2091.1,1508.5 2092.2,1512.4 2093.3,1510.9 2094.4,1510.8 2095.5,1509.8 2096.6,1509.2 2097.7,1511.2 2098.8,1507.6 2099.9,1508.9 2101.0,1509.2 2102.1,1510.6 2103.2,1509.2 2104.3,1512.0 2105.4,1506.9 2106.5,1512.2 2107.6,1510.2 2108.7,1511.2 2109.8,1508.8 2110.9,1511.3 2112.0,1509.1 2113.1,1510.1 2114.2,1507.3 2115.3,1510.5 2116.4,1509.9 2117.5,1506.6 2118.6,1509.5 2119.7,1509.1 2120.8,1511.0 2121.9,1508.6 2123.0,1510.0 2124.1,1511.7 2125.2,1508.3 2126.3,1512.7 2127.4,1510.0 2128.5,1509.3 2129.6,1507.5 2130.7,1506.8 2131.8,1511.2 2132.9,1508.9 2134.0,1508.6 2135.1,1511.4 2136.2,1510.7 2137.3,1509.8 2138.4,1507.3 2139.5,1506.5 2140.6,1511.2 2141.7,1509.6 2142.8,1509.2 2143.9,1512.7 2145.0,1509.0 2146.1,1510.2 2147.2,1513.1 2148.3,1510.6 2149.4,1508.8 2150.5,1508.3 2151.6,1511.6 2152.7,1507.7 2153.8,1511.0 2154.9,1512.2 2156.0,1509.5 2157.1,1511.0 2158.2,1509.8 2159.3,1511.9 2160.4,1510.1 2161.5,1508.5 2162.6,1510.2 2163.7,1509.9 2164.8,1508.7 2165.9,1509.3 2167.0,1507.7 2168.1,1508.3 2169.2,1510.7 2170.3,1506.7 2171.4,1510.1 2172.5,1509.7 2173.6,1508.7 2174.7,1511.9 2175.8,1510.8 2176.9,1508.7 2178.0,1510.0 2179.1,1511.1 2180.2,1507.1 2181.3,1510.0 2182.4,1509.2 2183.5,1510.3 2184.6,1513.0 2185.7,1508.6 2186.8,1509.1 2187.9,1507.7 2189.0,1510.0 2190.1,1510.6 2191.2,1505.7 2192.3,1512.0 2193.4,1512.2 2194.5,1505.3 2195.6,1507.2 2196.7,1510.4 2197.8,1509.8 2198.9,1511.5 2200.0,1509.2 2201.1,1511.7 2202.2,1507.4 2203.3,1510.3 2204.4,1509.0 2205.5,1508.9 2206.6,1506.8 2207.7,1509.0 2208.8,1511.9 2209.9,1508.6 2211.0,1509.3 2212.1,1509.9 2213.2,1508.1 2214.3,1510.1 2215.4,1510.6 2216.5,1509.3 2217.6,1506.7 2218.7,1512.1 2219.8,1509.7 2220.9,1509.6 2222.0,1509.3 2223.1,1508.7 2224.2,1507.0 2225.3,1509.6 2226.4,1509.9 2227.5,1511.3 2228.6,1512.3 2229.7,1508.5 2230.8,1512.3 2231.9,1509.8 2233.0,1510.6 2234.1,1508.0 2235.2,1510.2 2236.3,1508.2 2237.4,1510.8 2238.5,1507.7 2239.6,1509.7 2240.7,1509.0 2241.8,1510.2 2242.9,1510.1 2244.0,1509.9 2245.1,1508.9 2246.2,1511.1 2247.3,1510.6 2248.4,1508.4 2249.5,1510.9 2250.6,1508.6 2251.7,1509.8 2252.8,1509.5 2253.9,1509.5 2255.0,1511.0 2256.1,1506.8 2257.2,1511.7 2258.3,1506.8 2259.4,1511.7 2260.5,1510.6 2261.6,1507.3 2262.7,1510.3 2263.8,1509.2 2264.9,1507.8 2266.0,1511.7 2267.1,1511.5 2268.2,1510.3 2269.3,1512.4 2270.4,1510.0 2271.5,1509.3 2272.6,1511.9 2273.7,1508.5 2274.8,1511.0 2275.9,1511.5 2277.0,1510.1 2278.1,1509.9 2279.2,1510.5 2280.3,1510.2 2281.4,1508.6 2282.5,1504.0 2283.6,1508.9 2284.7,1507.4 2285.8,1511.3 2286.9,1509.0 2288.0,1510.1 2289.1,1511.0 2290.2,1511.4 2291.3,1508.3 2292.4,1513.3 2293.5,1511.2 2294.6,1510.8 2295.7,1508.3 2296.8,1513.0 2297.9,1510.8 2299.0,1511.6 2300.1,1509.3 2301.2,1512.8 2302.3,1512.1 2303.4,1509.6 2304.5,1513.0 2305.6,1508.0 2306.7,1511.2 2307.8,1510.8 2308.9,1510.9 2310.0,1508.6 2311.1,1509.1 2312.2,1511.3 2313.3,1511.4 2314.4,1509.6 2315.5,1509.3 2316.6,1508.8 2317.7,1511.8 2318.8,1509.4 2319.9,1508.8 2321.0,1506.5 2322.1,1506.7 2323.2,1507.8 2324.3,1506.3 2325.4,1508.9 2326.5,1509.1 2327.6,1507.9 2328.7,1508.9 2329.8,1509.4 2330.9,1506.7 2332.0,1510.7 2333.1,1505.0 2334.2,1512.7 2335.3,1507.1 2336.4,1509.6 2337.5,1508.9 2338.6,1510.1 2339.7,1508.3 2340.8,1510.4 2341.9,1507.0 2343.0,1510.7 2344.1,1509.0 2345.2,1510.1 2346.3,1511.2 2347.4,1507.6 2348.5,1508.5 2349.6,1508.3 2350.7,1509.3 2351.8,1509.8 2352.9,1510.7" fill="none" stroke="#000" stroke-width="6.8" stroke-linejoin="round" stroke-linecap="butt"/>
<polyline points="396.0,1516.8 397.1,1514.9 398.2,1516.4 399.3,1513.3 400.4,1517.2 401.5,1513.5 402.6,1516.0 403.7,1515.8 404.8,1514.7 405.9,1520.6 407.0,1515.0 408.1,1516.8 409.2,1517.8 410.3,1514.1 411.4,1518.1 412.5,1515.8 413.6,1517.6 414.7,1514.5 415.8,1514.4 416.9,1517.9 418.0,1516.8 419.1,1516.2 420.2,1517.0 421.3,1516.8 422.4,1514.2 423.5,1512.5 424.6,1513.3 425.7,1513.1 426.8,1512.5 427.9,1515.0 429.0,1515.2 430.1,1515.9 431.2,1516.3 432.3,1515.4 433.4,1515.6 434.5,1516.1 435.6,1514.4 436.7,1514.9 437.8,1516.1 438.9,1514.9 440.0,1515.1 441.1,1515.8 442.2,1518.1 443.3,1516.5 444.4,1515.5 445.5,1515.1 446.6,1515.8 447.7,1519.6 448.8,1511.0 449.9,1516.9 451.0,1516.4 452.1,1517.4 453.2,1514.2 454.3,1519.4 455.4,1517.6 456.5,1515.9 457.6,1516.3 458.7,1514.9 459.8,1516.1 460.9,1515.8 462.0,1517.5 463.1,1516.6 464.2,1515.9 465.3,1517.1 466.4,1516.9 467.5,1516.4 468.6,1513.6 469.7,1517.6 470.8,1514.1 471.9,1514.4 473.0,1515.8 474.1,1516.8 475.2,1518.3 476.3,1513.3 477.4,1518.4 478.5,1518.6 479.6,1515.3 480.7,1515.7 481.8,1515.1 482.9,1515.0 484.0,1513.9 485.1,1513.3 486.2,1515.7 487.3,1516.4 488.4,1518.9 489.5,1514.4 490.6,1512.7 491.7,1516.2 492.8,1515.3 493.9,1516.6 495.0,1515.4 496.1,1514.0 497.2,1514.9 498.3,1517.3 499.4,1516.4 500.5,1514.4 501.6,1517.4 502.7,1513.7 503.8,1515.1 504.9,1516.3 506.0,1513.8 507.1,1514.1 508.2,1516.0 509.3,1515.9 510.4,1515.6 511.5,1515.1 512.6,1514.2 513.7,1514.7 514.8,1520.9 515.9,1515.0 517.0,1518.4 518.1,1515.1 519.2,1518.2 520.3,1518.0 521.4,1516.7 522.5,1515.0 523.6,1513.8 524.7,1517.5 525.8,1513.9 526.9,1514.0 528.0,1518.4 529.1,1518.3 530.2,1516.1 531.3,1515.6 532.4,1514.9 533.5,1516.6 534.6,1515.2 535.7,1513.6 536.8,1514.8 537.9,1516.4 539.0,1513.5 540.1,1514.4 541.2,1516.2 542.3,1518.7 543.4,1516.3 544.5,1516.1 545.6,1519.1 546.7,1514.3 547.8,1514.8 548.9,1517.3 550.0,1517.7 551.1,1516.7 552.2,1511.8 553.3,1517.2 554.4,1517.1 555.5,1516.1 556.6,1517.1 557.7,1518.3 558.8,1516.1 559.9,1514.5 561.0,1513.1 562.1,1516.1 563.2,1514.9 564.3,1515.1 565.4,1514.2 566.5,1516.4 567.6,1517.2 568.7,1516.7 569.8,1514.2 570.9,1517.4 572.0,1516.5 573.1,1512.0 574.2,1517.0 575.3,1512.7 576.4,1514.2 577.5,1517.7 578.6,1517.0 579.7,1515.0 580.8,1514.6 581.9,1516.6 583.0,1513.1 584.1,1516.7 585.2,1515.5 586.3,1517.2 587.4,1515.8 588.5,1514.3 589.6,1516.3 590.7,1515.4 591.8,1513.7 592.9,1514.1 594.0,1514.4 595.1,1516.1 596.2,1517.2 597.3,1516.0 598.4,1514.1 599.5,1515.4 600.6,1516.9 601.7,1517.7 602.8,1514.5 603.9,1516.5 605.0,1515.4 606.1,1512.6 607.2,1513.9 608.3,1515.1 609.4,1515.2 610.5,1515.4 611.6,1515.0 612.7,1516.6 613.8,1514.5 614.9,1513.4 616.0,1516.8 617.1,1515.0 618.2,1517.3 619.3,1514.7 620.4,1518.1 621.5,1514.0 622.6,1514.1 623.7,1517.1 624.8,1518.8 625.9,1514.7 627.0,1518.5 628.1,1518.4 629.2,1517.3 630.3,1515.7 631.4,1512.5 632.5,1513.5 633.6,1514.7 634.7,1516.8 635.8,1515.7 636.9,1514.9 638.0,1516.1 639.1,1513.3 640.2,1516.6 641.3,1514.5 642.4,1518.0 643.5,1516.2 644.6,1514.8 645.7,1515.1 646.8,1513.4 647.9,1516.3 649.0,1514.4 650.1,1515.8 651.2,1517.8 652.3,1516.5 653.4,1516.8 654.5,1520.2 655.6,1517.1 656.7,1517.8 657.8,1515.6 658.9,1514.1 660.0,1516.4 661.1,1514.1 662.2,1511.2 663.3,1517.0 664.4,1516.5 665.5,1514.3 666.6,1518.1 667.7,1515.9 668.8,1515.2 669.9,1514.5 671.0,1517.8 672.1,1515.3 673.2,1515.2 674.3,1515.2 675.4,1514.7 676.5,1513.3 677.6,1514.8 678.7,1514.6 679.8,1517.1 680.9,1513.9 682.0,1517.1 683.1,1515.2 684.2,1514.7 685.3,1515.7 686.4,1516.1 687.5,1516.2 688.6,1516.9 689.7,1516.3 690.8,1513.5 691.9,1514.9 693.0,1518.6 694.1,1515.8 695.2,1512.2 696.3,1516.3 697.4,1518.7 698.5,1517.9 699.6,1516.1 700.7,1516.3 701.8,1517.0 702.9,1515.7 704.0,1515.2 705.1,1518.6 706.2,1515.4 707.3,1517.6 708.4,1513.5 709.5,1514.7 710.6,1514.1 711.7,1516.7 712.8,1515.0 713.9,1515.0 715.0,1514.5 716.1,1516.2 717.2,1517.6 718.3,1515.0 719.4,1517.0 720.5,1516.0 721.6,1515.0 722.7,1516.6 723.8,1518.1 724.9,1511.8 726.0,1517.1 727.1,1518.8 728.2,1515.7 729.3,1517.2 730.4,1517.6 731.5,1516.8 732.6,1516.4 733.7,1518.1 734.8,1517.8 735.9,1516.3 737.0,1517.1 738.1,1514.6 739.2,1515.7 740.3,1516.2 741.4,1515.9 742.5,1514.9 743.6,1518.0 744.7,1516.6 745.8,1517.2 746.9,1513.9 748.0,1515.2 749.1,1514.9 750.2,1515.7 751.3,1518.7 752.4,1520.1 753.5,1516.3 754.6,1516.6 755.7,1515.7 756.8,1515.1 757.9,1517.4 759.0,1515.4 760.1,1514.3 761.2,1517.0 762.3,1515.7 763.4,1516.5 764.5,1516.5 765.6,1517.6 766.7,1517.0 767.8,1517.5 768.9,1515.9 770.0,1515.9 771.1,1516.7 772.2,1516.4 773.3,1516.8 774.4,1516.6 775.5,1519.5 776.6,1515.7 777.7,1516.8 778.8,1516.3 779.9,1518.2 781.0,1514.8 782.1,1514.1 783.2,1518.0 784.3,1517.2 785.4,1516.3 786.5,1514.8 787.6,1518.1 788.7,1516.7 789.8,1515.1 790.9,1515.3 792.0,1515.0 793.1,1518.3 794.2,1515.7 795.3,1514.4 796.4,1515.1 797.5,1517.8 798.6,1517.0 799.7,1514.9 800.8,1514.1 801.9,1515.1 803.0,1516.4 804.1,1515.3 805.2,1515.1 806.3,1516.0 807.4,1515.1 808.5,1514.2 809.6,1513.7 810.7,1514.5 811.8,1514.8 812.9,1516.4 814.0,1516.1 815.1,1514.7 816.2,1517.8 817.3,1514.1 818.4,1517.5 819.5,1514.1 820.6,1515.5 821.7,1517.3 822.8,1517.4 823.9,1514.6 825.0,1516.1 826.1,1514.2 827.2,1515.7 828.3,1516.7 829.4,1515.1 830.5,1518.4 831.6,1516.8 832.7,1517.1 833.8,1515.1 834.9,1515.8 836.0,1516.5 837.1,1517.4 838.2,1517.1 839.3,1515.4 840.4,1514.7 841.5,1514.1 842.6,1519.4 843.7,1517.8 844.8,1518.3 845.9,1515.8 847.0,1519.2 848.1,1516.8 849.2,1516.4 850.3,1515.2 851.4,1513.7 852.5,1517.1 853.6,1516.1 854.7,1516.0 855.8,1513.8 856.9,1512.8 858.0,1514.2 859.1,1517.4 860.2,1519.0 861.3,1515.0 862.4,1515.5 863.5,1513.5 864.6,1514.4 865.7,1516.5 866.8,1514.8 867.9,1516.2 869.0,1518.0 870.1,1515.7 871.2,1514.1 872.3,1518.7 873.4,1517.0 874.5,1516.3 875.6,1516.5 876.7,1515.7 877.8,1517.1 878.9,1513.8 880.0,1516.0 881.1,1514.1 882.2,1515.9 883.3,1517.0 884.4,1515.7 885.5,1518.8 886.6,1516.0 887.7,1514.9 888.8,1516.5 889.9,1516.4 891.0,1516.5 892.1,1516.1 893.2,1515.9 894.3,1517.5 895.4,1513.4 896.5,1517.2 897.6,1515.1 898.7,1515.8 899.8,1514.6 900.9,1518.0 902.0,1512.7 903.1,1514.0 904.2,1515.3 905.3,1517.1 906.4,1513.9 907.5,1516.8 908.6,1517.7 909.7,1514.6 910.8,1511.9 911.9,1517.2 913.0,1515.7 914.1,1515.9 915.2,1517.7 916.3,1517.2 917.4,1515.1 918.5,1516.2 919.6,1514.6 920.7,1516.7 921.8,1515.9 922.9,1516.8 924.0,1515.0 925.1,1516.4 926.2,1516.5 927.3,1516.9 928.4,1516.1 929.5,1512.8 930.6,1516.8 931.7,1514.1 932.8,1517.6 933.9,1516.0 935.0,1516.0 936.1,1515.0 937.2,1518.8 938.3,1514.8 939.4,1518.2 940.5,1518.6 941.6,1521.1 942.7,1518.2 943.8,1515.9 944.9,1514.5 946.0,1514.8 947.1,1513.6 948.2,1518.2 949.3,1516.6 950.4,1514.2 951.5,1517.2 952.6,1516.2 953.7,1517.7 954.8,1516.6 955.9,1514.3 957.0,1516.3 958.1,1517.5 959.2,1516.2 960.3,1516.2 961.4,1514.0 962.5,1514.9 963.6,1516.1 964.7,1517.2 965.8,1515.0 966.9,1515.4 968.0,1519.4 969.1,1514.4 970.2,1515.5 971.3,1514.4 972.4,1515.9 973.5,1517.2 974.6,1517.2 975.7,1516.5 976.8,1517.9 977.9,1515.8 979.0,1516.9 980.1,1514.2 981.2,1517.5 982.3,1514.8 983.4,1517.9 984.5,1514.1 985.6,1516.3 986.7,1516.3 987.8,1516.3 988.9,1515.5 990.0,1518.3 991.1,1516.4 992.2,1513.9 993.3,1514.9 994.4,1517.7 995.5,1514.3 996.6,1518.7 997.7,1515.1 998.8,1512.8 999.9,1517.1 1001.0,1514.2 1002.1,1509.7 1003.2,1515.7 1004.3,1513.6 1005.4,1515.9 1006.5,1516.8 1007.6,1516.9 1008.7,1515.3 1009.8,1513.1 1010.9,1517.7 1012.0,1515.8 1013.1,1515.7 1014.2,1513.1 1015.3,1514.4 1016.4,1515.8 1017.5,1515.2 1018.6,1515.8 1019.7,1513.9 1020.8,1512.8 1021.9,1516.1 1023.0,1515.3 1024.1,1517.3 1025.2,1517.7 1026.3,1515.3 1027.4,1514.9 1028.5,1517.6 1029.6,1517.0 1030.7,1514.1 1031.8,1518.5 1032.9,1515.9 1034.0,1515.2 1035.1,1513.4 1036.2,1514.9 1037.3,1516.4 1038.4,1516.1 1039.5,1517.7 1040.6,1517.0 1041.7,1513.9 1042.8,1515.1 1043.9,1514.9 1045.0,1514.3 1046.1,1514.3 1047.2,1513.9 1048.3,1513.9 1049.4,1515.2 1050.5,1515.9 1051.6,1517.3 1052.7,1514.0 1053.8,1514.5 1054.9,1510.3 1056.0,1515.1 1057.1,1515.6 1058.2,1514.5 1059.3,1515.4 1060.4,1514.0 1061.5,1514.1 1062.6,1513.0 1063.7,1513.5 1064.8,1512.3 1065.9,1517.2 1067.0,1516.6 1068.1,1515.4 1069.2,1515.1 1070.3,1517.7 1071.4,1516.1 1072.5,1514.1 1073.6,1515.4 1074.7,1515.8 1075.8,1515.7 1076.9,1515.8 1078.0,1512.6 1079.1,1514.0 1080.2,1512.0 1081.3,1515.7 1082.4,1514.6 1083.5,1513.2 1084.6,1518.7 1085.7,1517.3 1086.8,1514.4 1087.9,1516.5 1089.0,1514.2 1090.1,1516.7 1091.2,1516.5 1092.3,1514.4 1093.4,1516.1 1094.5,1518.1 1095.6,1516.8 1096.7,1513.3 1097.8,1515.9 1098.9,1516.5 1100.0,1515.6 1101.1,1517.1 1102.2,1514.2 1103.3,1511.5 1104.4,1517.7 1105.5,1513.5 1106.6,1515.1 1107.7,1512.8 1108.8,1516.6 1109.9,1513.6 1111.0,1515.5 1112.1,1515.3 1113.2,1517.6 1114.3,1518.3 1115.4,1516.5 1116.5,1516.9 1117.6,1515.6 1118.7,1515.6 1119.8,1513.8 1120.9,1516.1 1122.0,1511.9 1123.1,1516.5 1124.2,1515.3 1125.3,1515.1 1126.4,1517.0 1127.5,1512.1 1128.6,1513.5 1129.7,1516.0 1130.8,1514.5 1131.9,1516.0 1133.0,1514.7 1134.1,1513.2 1135.2,1515.7 1136.3,1515.4 1137.4,1515.9 1138.5,1515.9 1139.6,1518.3 1140.7,1513.5 1141.8,1514.1 1142.9,1517.3 1144.0,1513.7 1145.1,1515.2 1146.2,1516.8 1147.3,1515.6 1148.4,1515.8 1149.5,1514.9 1150.6,1512.1 1151.7,1516.2 1152.8,1516.4 1153.9,1515.7 1155.0,1514.3 1156.1,1515.3 1157.2,1516.2 1158.3,1514.4 1159.4,1514.2 1160.5,1513.2 1161.6,1515.7 1162.7,1513.0 1163.8,1514.2 1164.9,1517.1 1166.0,1511.7 1167.1,1513.7 1168.2,1516.4 1169.3,1514.5 1170.4,1516.8 1171.5,1513.0 1172.6,1513.5 1173.7,1516.8 1174.8,1513.3 1175.9,1515.0 1177.0,1514.5 1178.1,1517.1 1179.2,1513.1 1180.3,1515.1 1181.4,1516.3 1182.5,1517.0 1183.6,1515.2 1184.7,1516.3 1185.8,1513.9 1186.9,1518.1 1188.0,1515.8 1189.1,1516.3 1190.2,1517.9 1191.3,1515.5 1192.4,1515.1 1193.5,1516.3 1194.6,1517.2 1195.7,1512.8 1196.8,1512.3 1197.9,1516.0 1199.0,1514.7 1200.1,1515.1 1201.2,1518.3 1202.3,1514.7 1203.4,1514.8 1204.5,1517.0 1205.6,1513.6 1206.7,1515.2 1207.8,1514.6 1208.9,1515.2 1210.0,1515.3 1211.1,1513.0 1212.2,1514.2 1213.3,1513.9 1214.4,1512.7 1215.5,1515.5 1216.6,1513.8 1217.7,1512.9 1218.8,1512.2 1219.9,1514.0 1221.0,1512.9 1222.1,1515.4 1223.2,1516.3 1224.3,1514.0 1225.4,1513.6 1226.5,1514.1 1227.6,1515.9 1228.7,1513.6 1229.8,1515.7 1230.9,1513.7 1232.0,1510.9 1233.1,1517.4 1234.2,1516.1 1235.3,1514.4 1236.4,1515.0 1237.5,1515.1 1238.6,1517.5 1239.7,1514.2 1240.8,1515.2 1241.9,1514.4 1243.0,1513.8 1244.1,1515.6 1245.2,1515.6 1246.3,1514.0 1247.4,1518.7 1248.5,1510.2 1249.6,1517.2 1250.7,1513.0 1251.8,1513.6 1252.9,1515.8 1254.0,1516.3 1255.1,1517.0 1256.2,1512.6 1257.3,1518.2 1258.4,1513.2 1259.5,1515.4 1260.6,1517.0 1261.7,1515.0 1262.8,1514.8 1263.9,1516.3 1265.0,1514.9 1266.1,1513.1 1267.2,1516.7 1268.3,1516.7 1269.4,1516.0 1270.5,1515.6 1271.6,1516.9 1272.7,1516.6 1273.8,1517.0 1274.9,1515.7 1276.0,1511.9 1277.1,1516.2 1278.2,1516.1 1279.3,1516.5 1280.4,1517.5 1281.5,1512.8 1282.6,1510.2 1283.7,1516.6 1284.8,1516.1 1285.9,1515.0 1287.0,1513.0 1288.1,1517.8 1289.2,1514.4 1290.3,1518.4 1291.4,1515.5 1292.5,1516.8 1293.6,1510.7 1294.7,1515.8 1295.8,1513.7 1296.9,1512.7 1298.0,1514.3 1299.1,1519.4 1300.2,1513.9 1301.3,1511.9 1302.4,1516.7 1303.5,1513.4 1304.6,1514.7 1305.7,1517.5 1306.8,1516.5 1307.9,1515.9 1309.0,1516.6 1310.1,1514.7 1311.2,1512.8 1312.3,1514.6 1313.4,1514.0 1314.5,1514.7 1315.6,1514.6 1316.7,1515.5 1317.8,1516.3 1318.9,1513.8 1320.0,1514.2 1321.1,1515.2 1322.2,1516.7 1323.3,1514.1 1324.4,1511.5 1325.5,1516.3 1326.6,1512.6 1327.7,1514.0 1328.8,1513.9 1329.9,1515.7 1331.0,1511.7 1332.1,1516.9 1333.2,1514.0 1334.3,1516.7 1335.4,1514.3 1336.5,1519.5 1337.6,1515.0 1338.7,1514.3 1339.8,1513.6 1340.9,1510.8 1342.0,1517.5 1343.1,1512.4 1344.2,1515.1 1345.3,1516.2 1346.4,1516.0 1347.5,1514.7 1348.6,1513.6 1349.7,1515.7 1350.8,1514.6 1351.9,1512.1 1353.0,1513.1 1354.1,1515.7 1355.2,1516.2 1356.3,1510.7 1357.4,1515.2 1358.5,1514.3 1359.6,1516.2 1360.7,1514.8 1361.8,1514.3 1362.9,1516.2 1364.0,1516.5 1365.1,1516.6 1366.2,1514.7 1367.3,1515.5 1368.4,1517.6 1369.5,1514.5 1370.6,1513.5 1371.7,1515.5 1372.8,1513.2 1373.9,1516.3 1375.0,1513.4 1376.1,1514.2 1377.2,1516.6 1378.3,1513.3 1379.4,1514.2 1380.5,1515.4 1381.6,1515.3 1382.7,1512.4 1383.8,1516.3 1384.9,1514.5 1386.0,1515.0 1387.1,1515.9 1388.2,1516.0 1389.3,1515.1 1390.4,1516.2 1391.5,1515.1 1392.6,1512.6 1393.7,1512.5 1394.8,1513.2 1395.9,1513.0 1397.0,1514.0 1398.1,1510.9 1399.2,1514.7 1400.3,1515.7 1401.4,1515.7 1402.5,1514.5 1403.6,1512.7 1404.7,1518.0 1405.8,1513.3 1406.9,1513.7 1408.0,1514.6 1409.1,1512.0 1410.2,1512.3 1411.3,1514.5 1412.4,1516.3 1413.5,1513.8 1414.6,1515.2 1415.7,1515.4 1416.8,1514.9 1417.9,1513.0 1419.0,1516.2 1420.1,1514.1 1421.2,1512.8 1422.3,1512.7 1423.4,1516.1 1424.5,1514.7 1425.6,1513.4 1426.7,1516.1 1427.8,1515.7 1428.9,1514.5 1430.0,1512.5 1431.1,1514.3 1432.2,1515.0 1433.3,1512.9 1434.4,1518.6 1435.5,1514.3 1436.6,1512.7 1437.7,1511.9 1438.8,1516.2 1439.9,1514.3 1441.0,1514.4 1442.1,1513.3 1443.2,1515.6 1444.3,1515.0 1445.4,1512.7 1446.5,1513.7 1447.6,1512.3 1448.7,1515.1 1449.8,1514.4 1450.9,1515.9 1452.0,1515.3 1453.1,1515.7 1454.2,1511.5 1455.3,1513.2 1456.4,1512.5 1457.5,1512.0 1458.6,1513.0 1459.7,1516.0 1460.8,1515.7 1461.9,1516.8 1463.0,1515.3 1464.1,1515.2 1465.2,1513.8 1466.3,1513.9 1467.4,1513.8 1468.5,1513.0 1469.6,1512.2 1470.7,1514.5 1471.8,1516.5 1472.9,1512.7 1474.0,1512.3 1475.1,1516.0 1476.2,1514.1 1477.3,1511.6 1478.4,1514.0 1479.5,1510.4 1480.6,1514.7 1481.7,1513.6 1482.8,1512.2 1483.9,1514.6 1485.0,1513.5 1486.1,1516.6 1487.2,1513.2 1488.3,1515.1 1489.4,1512.7 1490.5,1514.9 1491.6,1515.5 1492.7,1515.7 1493.8,1515.9 1494.9,1512.3 1496.0,1517.3 1497.1,1517.1 1498.2,1514.2 1499.3,1514.7 1500.4,1515.9 1501.5,1511.6 1502.6,1514.0 1503.7,1515.0 1504.8,1515.2 1505.9,1515.1 1507.0,1512.4 1508.1,1515.8 1509.2,1515.8 1510.3,1515.0 1511.4,1513.3 1512.5,1512.6 1513.6,1514.0 1514.7,1514.9 1515.8,1512.4 1516.9,1513.5 1518.0,1515.0 1519.1,1514.9 1520.2,1512.8 1521.3,1510.9 1522.4,1513.7 1523.5,1511.3 1524.6,1511.6 1525.7,1515.3 1526.8,1514.6 1527.9,1512.2 1529.0,1513.7 1530.1,1514.0 1531.2,1514.8 1532.3,1515.9 1533.4,1514.8 1534.5,1510.4 1535.6,1514.7 1536.7,1513.6 1537.8,1513.9 1538.9,1514.0 1540.0,1513.7 1541.1,1513.4 1542.2,1515.8 1543.3,1515.8 1544.4,1516.5 1545.5,1515.6 1546.6,1515.5 1547.7,1514.8 1548.8,1512.2 1549.9,1515.9 1551.0,1513.7 1552.1,1514.0 1553.2,1511.7 1554.3,1513.3 1555.4,1519.1 1556.5,1513.6 1557.6,1515.5 1558.7,1516.1 1559.8,1515.0 1560.9,1513.3 1562.0,1514.0 1563.1,1514.9 1564.2,1513.6 1565.3,1512.1 1566.4,1512.5 1567.5,1516.7 1568.6,1515.4 1569.7,1515.3 1570.8,1515.7 1571.9,1514.7 1573.0,1512.6 1574.1,1517.8 1575.2,1513.6 1576.3,1514.7 1577.4,1514.5 1578.5,1516.3 1579.6,1513.9 1580.7,1511.8 1581.8,1511.8 1582.9,1512.6 1584.0,1515.6 1585.1,1516.3 1586.2,1513.9 1587.3,1513.6 1588.4,1515.4 1589.5,1514.4 1590.6,1513.1 1591.7,1512.6 1592.8,1514.4 1593.9,1515.9 1595.0,1516.0 1596.1,1515.5 1597.2,1513.4 1598.3,1516.2 1599.4,1510.9 1600.5,1514.5 1601.6,1515.4 1602.7,1512.7 1603.8,1512.0 1604.9,1516.7 1606.0,1513.7 1607.1,1513.8 1608.2,1516.5 1609.3,1515.1 1610.4,1512.4 1611.5,1514.5 1612.6,1514.1 1613.7,1516.0 1614.8,1516.5 1615.9,1511.6 1617.0,1513.1 1618.1,1516.8 1619.2,1514.3 1620.3,1514.2 1621.4,1513.2 1622.5,1515.0 1623.6,1513.2 1624.7,1514.3 1625.8,1514.2 1626.9,1513.2 1628.0,1512.0 1629.1,1511.7 1630.2,1513.0 1631.3,1513.1 1632.4,1514.8 1633.5,1514.1 1634.6,1514.3 1635.7,1512.5 1636.8,1513.2 1637.9,1513.0 1639.0,1512.2 1640.1,1511.9 1641.2,1517.0 1642.3,1514.2 1643.4,1515.6 1644.5,1514.2 1645.6,1512.5 1646.7,1516.2 1647.8,1514.8 1648.9,1513.9 1650.0,1512.1 1651.1,1514.0 1652.2,1515.2 1653.3,1515.8 1654.4,1514.3 1655.5,1513.6 1656.6,1513.3 1657.7,1514.7 1658.8,1512.5 1659.9,1514.0 1661.0,1510.5 1662.1,1516.3 1663.2,1515.4 1664.3,1513.5 1665.4,1513.0 1666.5,1514.9 1667.6,1513.6 1668.7,1512.9 1669.8,1513.1 1670.9,1513.2 1672.0,1512.0 1673.1,1515.4 1674.2,1510.8 1675.3,1513.9 1676.4,1513.5 1677.5,1511.0 1678.6,1514.7 1679.7,1510.6 1680.8,1512.7 1681.9,1512.4 1683.0,1513.3 1684.1,1513.1 1685.2,1515.4 1686.3,1513.7 1687.4,1513.6 1688.5,1513.8 1689.6,1514.2 1690.7,1512.7 1691.8,1514.9 1692.9,1514.1 1694.0,1514.5 1695.1,1513.8 1696.2,1513.8 1697.3,1513.8 1698.4,1512.8 1699.5,1514.2 1700.6,1515.3 1701.7,1513.0 1702.8,1513.8 1703.9,1514.9 1705.0,1513.5 1706.1,1513.3 1707.2,1514.1 1708.3,1514.2 1709.4,1516.3 1710.5,1514.1 1711.6,1515.4 1712.7,1513.8 1713.8,1515.6 1714.9,1515.9 1716.0,1516.0 1717.1,1511.8 1718.2,1513.9 1719.3,1512.1 1720.4,1514.0 1721.5,1513.9 1722.6,1512.2 1723.7,1512.0 1724.8,1512.7 1725.9,1513.7 1727.0,1514.4 1728.1,1515.9 1729.2,1516.8 1730.3,1512.3 1731.4,1514.2 1732.5,1513.5 1733.6,1513.5 1734.7,1511.5 1735.8,1514.6 1736.9,1514.3 1738.0,1512.6 1739.1,1514.0 1740.2,1512.3 1741.3,1509.4 1742.4,1512.4 1743.5,1513.1 1744.6,1511.9 1745.7,1513.8 1746.8,1516.8 1747.9,1513.9 1749.0,1513.4 1750.1,1511.7 1751.2,1513.6 1752.3,1513.6 1753.4,1515.5 1754.5,1512.9 1755.6,1512.5 1756.7,1512.7 1757.8,1516.2 1758.9,1515.8 1760.0,1513.0 1761.1,1518.8 1762.2,1512.3 1763.3,1512.5 1764.4,1515.0 1765.5,1513.2 1766.6,1512.2 1767.7,1511.8 1768.8,1513.6 1769.9,1513.5 1771.0,1513.5 1772.1,1511.9 1773.2,1515.4 1774.3,1512.3 1775.4,1514.8 1776.5,1516.5 1777.6,1511.6 1778.7,1512.9 1779.8,1513.6 1780.9,1514.3 1782.0,1513.4 1783.1,1511.8 1784.2,1514.3 1785.3,1513.3 1786.4,1515.5 1787.5,1512.8 1788.6,1511.9 1789.7,1512.2 1790.8,1512.7 1791.9,1514.2 1793.0,1514.9 1794.1,1511.7 1795.2,1514.2 1796.3,1511.4 1797.4,1518.7 1798.5,1514.1 1799.6,1513.7 1800.7,1512.8 1801.8,1515.2 1802.9,1516.2 1804.0,1513.3 1805.1,1514.0 1806.2,1513.9 1807.3,1514.7 1808.4,1512.6 1809.5,1514.5 1810.6,1513.5 1811.7,1516.6 1812.8,1512.0 1813.9,1513.8 1815.0,1514.6 1816.1,1515.6 1817.2,1514.9 1818.3,1513.5 1819.4,1514.2 1820.5,1515.4 1821.6,1511.5 1822.7,1515.5 1823.8,1512.9 1824.9,1515.6 1826.0,1517.0 1827.1,1513.0 1828.2,1513.4 1829.3,1514.2 1830.4,1513.6 1831.5,1516.0 1832.6,1515.9 1833.7,1512.2 1834.8,1512.1 1835.9,1513.8 1837.0,1512.9 1838.1,1515.2 1839.2,1516.1 1840.3,1513.6 1841.4,1512.1 1842.5,1512.9 1843.6,1514.4 1844.7,1514.1 1845.8,1513.7 1846.9,1513.2 1848.0,1515.3 1849.1,1513.9 1850.2,1514.7 1851.3,1516.1 1852.4,1511.6 1853.5,1514.3 1854.6,1513.4 1855.7,1513.1 1856.8,1514.4 1857.9,1512.6 1859.0,1512.6 1860.1,1518.4 1861.2,1516.9 1862.3,1515.6 1863.4,1512.3 1864.5,1513.0 1865.6,1512.4 1866.7,1513.4 1867.8,1514.2 1868.9,1514.9 1870.0,1511.7 1871.1,1515.5 1872.2,1514.2 1873.3,1515.5 1874.4,1513.7 1875.5,1515.0 1876.6,1511.5 1877.7,1514.8 1878.8,1512.7 1879.9,1512.8 1881.0,1513.9 1882.1,1513.4 1883.2,1509.6 1884.3,1516.1 1885.4,1512.9 1886.5,1513.6 1887.6,1513.5 1888.7,1512.9 1889.8,1513.5 1890.9,1514.0 1892.0,1513.3 1893.1,1511.8 1894.2,1512.7 1895.3,1515.8 1896.4,1514.0 1897.5,1513.3 1898.6,1515.9 1899.7,1512.8 1900.8,1516.7 1901.9,1514.6 1903.0,1513.6 1904.1,1512.4 1905.2,1512.6 1906.3,1512.6 1907.4,1515.8 1908.5,1517.0 1909.6,1515.3 1910.7,1513.4 1911.8,1514.3 1912.9,1510.7 1914.0,1512.2 1915.1,1513.3 1916.2,1516.9 1917.3,1514.4 1918.4,1515.6 1919.5,1515.0 1920.6,1512.5 1921.7,1514.0 1922.8,1512.7 1923.9,1511.6 1925.0,1514.2 1926.1,1514.2 1927.2,1514.6 1928.3,1514.8 1929.4,1512.5 1930.5,1512.1 1931.6,1513.4 1932.7,1513.5 1933.8,1515.8 1934.9,1514.1 1936.0,1512.7 1937.1,1514.6 1938.2,1514.3 1939.3,1512.6 1940.4,1515.9 1941.5,1511.0 1942.6,1513.7 1943.7,1515.2 1944.8,1513.5 1945.9,1514.1 1947.0,1510.6 1948.1,1513.8 1949.2,1514.4 1950.3,1512.3 1951.4,1514.0 1952.5,1513.3 1953.6,1513.7 1954.7,1514.4 1955.8,1513.6 1956.9,1514.7 1958.0,1513.3 1959.1,1516.2 1960.2,1514.5 1961.3,1511.9 1962.4,1512.6 1963.5,1514.9 1964.6,1516.2 1965.7,1513.1 1966.8,1514.1 1967.9,1512.7 1969.0,1516.4 1970.1,1514.4 1971.2,1513.5 1972.3,1516.0 1973.4,1509.8 1974.5,1514.5 1975.6,1511.8 1976.7,1514.3 1977.8,1513.0 1978.9,1512.1 1980.0,1513.6 1981.1,1513.2 1982.2,1517.6 1983.3,1513.4 1984.4,1517.2 1985.5,1515.5 1986.6,1513.5 1987.7,1511.3 1988.8,1515.0 1989.9,1514.5 1991.0,1511.4 1992.1,1517.5 1993.2,1514.5 1994.3,1513.8 1995.4,1516.0 1996.5,1515.5 1997.6,1514.8 1998.7,1514.2 1999.8,1514.7 2000.9,1510.8 2002.0,1513.1 2003.1,1513.4 2004.2,1518.4 2005.3,1514.9 2006.4,1513.8 2007.5,1514.4 2008.6,1513.2 2009.7,1515.0 2010.8,1513.4 2011.9,1514.7 2013.0,1514.6 2014.1,1513.8 2015.2,1513.4 2016.3,1512.7 2017.4,1511.7 2018.5,1513.5 2019.6,1513.2 2020.7,1513.4 2021.8,1513.8 2022.9,1514.3 2024.0,1514.0 2025.1,1513.7 2026.2,1515.9 2027.3,1516.5 2028.4,1512.8 2029.5,1514.3 2030.6,1514.4 2031.7,1512.4 2032.8,1514.8 2033.9,1513.3 2035.0,1516.4 2036.1,1512.4 2037.2,1514.6 2038.3,1512.2 2039.4,1511.9 2040.5,1514.9 2041.6,1514.0 2042.7,1515.8 2043.8,1515.2 2044.9,1511.1 2046.0,1515.9 2047.1,1511.9 2048.2,1513.3 2049.3,1512.5 2050.4,1514.5 2051.5,1514.2 2052.6,1513.9 2053.7,1517.5 2054.8,1512.9 2055.9,1513.1 2057.0,1512.1 2058.1,1516.7 2059.2,1512.3 2060.3,1513.8 2061.4,1513.2 2062.5,1513.5 2063.6,1514.2 2064.7,1511.7 2065.8,1513.1 2066.9,1515.0 2068.0,1511.6 2069.1,1515.0 2070.2,1512.8 2071.3,1515.4 2072.4,1513.6 2073.5,1512.7 2074.6,1512.2 2075.7,1516.9 2076.8,1515.2 2077.9,1512.7 2079.0,1518.3 2080.1,1512.7 2081.2,1512.2 2082.3,1515.9 2083.4,1513.4 2084.5,1515.9 2085.6,1513.0 2086.7,1515.5 2087.8,1514.3 2088.9,1514.4 2090.0,1515.1 2091.1,1512.6 2092.2,1513.0 2093.3,1513.8 2094.4,1513.4 2095.5,1514.0 2096.6,1514.9 2097.7,1513.2 2098.8,1512.8 2099.9,1515.5 2101.0,1518.6 2102.1,1515.2 2103.2,1515.3 2104.3,1513.3 2105.4,1512.7 2106.5,1515.2 2107.6,1516.8 2108.7,1514.0 2109.8,1515.2 2110.9,1513.5 2112.0,1512.3 2113.1,1513.0 2114.2,1511.9 2115.3,1514.3 2116.4,1513.2 2117.5,1516.6 2118.6,1516.2 2119.7,1513.7 2120.8,1514.6 2121.9,1513.6 2123.0,1516.1 2124.1,1517.8 2125.2,1514.4 2126.3,1512.7 2127.4,1512.5 2128.5,1513.6 2129.6,1514.3 2130.7,1513.8 2131.8,1513.5 2132.9,1514.1 2134.0,1514.3 2135.1,1513.6 2136.2,1512.1 2137.3,1513.4 2138.4,1511.6 2139.5,1513.6 2140.6,1513.3 2141.7,1514.9 2142.8,1513.9 2143.9,1512.2 2145.0,1512.4 2146.1,1516.2 2147.2,1512.3 2148.3,1514.7 2149.4,1513.9 2150.5,1513.9 2151.6,1515.0 2152.7,1513.2 2153.8,1514.5 2154.9,1513.5 2156.0,1514.9 2157.1,1513.6 2158.2,1512.6 2159.3,1514.2 2160.4,1514.0 2161.5,1513.5 2162.6,1511.9 2163.7,1515.0 2164.8,1511.7 2165.9,1513.7 2167.0,1513.2 2168.1,1515.3 2169.2,1514.8 2170.3,1515.8 2171.4,1511.0 2172.5,1513.8 2173.6,1511.7 2174.7,1514.8 2175.8,1517.5 2176.9,1512.9 2178.0,1515.2 2179.1,1510.1 2180.2,1513.5 2181.3,1515.4 2182.4,1513.0 2183.5,1513.5 2184.6,1513.6 2185.7,1515.2 2186.8,1513.4 2187.9,1513.3 2189.0,1512.8 2190.1,1514.4 2191.2,1515.0 2192.3,1513.2 2193.4,1514.7 2194.5,1514.2 2195.6,1515.3 2196.7,1517.2 2197.8,1514.8 2198.9,1514.4 2200.0,1513.5 2201.1,1512.8 2202.2,1512.1 2203.3,1513.7 2204.4,1513.2 2205.5,1515.1 2206.6,1513.6 2207.7,1515.9 2208.8,1514.4 2209.9,1513.0 2211.0,1513.2 2212.1,1509.9 2213.2,1516.1 2214.3,1513.4 2215.4,1511.2 2216.5,1514.1 2217.6,1512.0 2218.7,1512.2 2219.8,1513.2 2220.9,1512.1 2222.0,1514.9 2223.1,1512.9 2224.2,1512.0 2225.3,1514.2 2226.4,1512.2 2227.5,1512.9 2228.6,1515.4 2229.7,1517.1 2230.8,1510.8 2231.9,1511.4 2233.0,1512.5 2234.1,1514.9 2235.2,1512.7 2236.3,1514.6 2237.4,1512.1 2238.5,1514.0 2239.6,1512.2 2240.7,1510.9 2241.8,1512.3 2242.9,1514.4 2244.0,1513.6 2245.1,1514.7 2246.2,1513.7 2247.3,1511.3 2248.4,1513.6 2249.5,1514.1 2250.6,1515.9 2251.7,1515.4 2252.8,1514.2 2253.9,1513.1 2255.0,1515.6 2256.1,1511.4 2257.2,1512.2 2258.3,1511.8 2259.4,1513.5 2260.5,1515.3 2261.6,1512.1 2262.7,1517.4 2263.8,1512.4 2264.9,1516.8 2266.0,1512.9 2267.1,1514.8 2268.2,1512.1 2269.3,1513.7 2270.4,1512.8 2271.5,1515.9 2272.6,1512.2 2273.7,1515.1 2274.8,1516.8 2275.9,1513.7 2277.0,1513.2 2278.1,1514.7 2279.2,1509.7 2280.3,1513.8 2281.4,1514.5 2282.5,1513.8 2283.6,1511.9 2284.7,1514.2 2285.8,1515.0 2286.9,1515.2 2288.0,1513.1 2289.1,1513.5 2290.2,1513.2 2291.3,1511.8 2292.4,1512.6 2293.5,1512.2 2294.6,1513.6 2295.7,1514.0 2296.8,1517.7 2297.9,1515.2 2299.0,1514.7 2300.1,1513.0 2301.2,1516.7 2302.3,1516.4 2303.4,1513.7 2304.5,1513.0 2305.6,1513.6 2306.7,1513.6 2307.8,1511.4 2308.9,1513.6 2310.0,1513.3 2311.1,1515.3 2312.2,1514.2 2313.3,1513.4 2314.4,1515.7 2315.5,1514.9 2316.6,1514.0 2317.7,1512.9 2318.8,1512.4 2319.9,1515.0 2321.0,1514.5 2322.1,1513.6 2323.2,1514.4 2324.3,1511.8 2325.4,1515.8 2326.5,1514.6 2327.6,1516.2 2328.7,1512.3 2329.8,1514.3 2330.9,1513.0 2332.0,1515.9 2333.1,1517.9 2334.2,1513.9 2335.3,1514.5 2336.4,1516.2 2337.5,1512.3 2338.6,1514.1 2339.7,1513.3 2340.8,1514.0 2341.9,1512.1 2343.0,1511.6 2344.1,1511.9 2345.2,1514.3 2346.3,1514.1 2347.4,1515.2 2348.5,1514.8 2349.6,1515.3 2350.7,1514.6 2351.8,1514.2 2352.9,1514.9" fill="none" stroke="#000" stroke-width="6.8" stroke-linejoin="round" stroke-linecap="butt"/>
<polyline points="396.0,1519.4 397.1,1521.7 398.2,1520.4 399.3,1521.2 400.4,1522.6 401.5,1521.3 402.6,1522.6 403.7,1521.9 404.8,1522.8 405.9,1518.8 407.0,1519.2 408.1,1518.4 409.2,1521.4 410.3,1520.1 411.4,1521.9 412.5,1521.0 413.6,1520.7 414.7,1523.9 415.8,1521.4 416.9,1520.4 418.0,1518.9 419.1,1522.3 420.2,1522.0 421.3,1518.7 422.4,1520.2 423.5,1520.8 424.6,1517.8 425.7,1520.0 426.8,1522.7 427.9,1517.8 429.0,1521.2 430.1,1523.4 431.2,1519.4 432.3,1519.7 433.4,1520.7 434.5,1521.2 435.6,1521.0 436.7,1518.0 437.8,1519.2 438.9,1520.5 440.0,1519.9 441.1,1522.2 442.2,1519.9 443.3,1519.8 444.4,1523.3 445.5,1520.2 446.6,1518.8 447.7,1520.4 448.8,1520.0 449.9,1521.5 451.0,1521.1 452.1,1519.8 453.2,1519.7 454.3,1519.5 455.4,1522.5 456.5,1523.6 457.6,1520.2 458.7,1521.2 459.8,1520.9 460.9,1519.5 462.0,1519.5 463.1,1519.5 464.2,1517.2 465.3,1519.1 466.4,1521.0 467.5,1521.8 468.6,1520.0 469.7,1519.7 470.8,1521.3 471.9,1523.6 473.0,1518.8 474.1,1519.0 475.2,1519.6 476.3,1521.2 477.4,1518.9 478.5,1521.0 479.6,1519.1 480.7,1521.2 481.8,1519.8 482.9,1519.6 484.0,1521.6 485.1,1518.4 486.2,1519.0 487.3,1521.4 488.4,1521.5 489.5,1520.6 490.6,1516.7 491.7,1521.4 492.8,1520.8 493.9,1519.7 495.0,1517.1 496.1,1521.6 497.2,1523.0 498.3,1521.0 499.4,1522.3 500.5,1519.2 501.6,1520.5 502.7,1519.2 503.8,1518.4 504.9,1519.6 506.0,1518.7 507.1,1519.0 508.2,1519.0 509.3,1519.5 510.4,1519.7 511.5,1520.4 512.6,1518.2 513.7,1520.7 514.8,1517.3 515.9,1520.3 517.0,1520.3 518.1,1516.5 519.2,1519.6 520.3,1521.9 521.4,1520.9 522.5,1519.4 523.6,1519.3 524.7,1520.6 525.8,1520.4 526.9,1521.4 528.0,1520.4 529.1,1521.6 530.2,1520.8 531.3,1518.9 532.4,1518.5 533.5,1519.3 534.6,1520.8 535.7,1518.7 536.8,1521.5 537.9,1517.6 539.0,1519.7 540.1,1518.6 541.2,1520.6 542.3,1520.3 543.4,1519.9 544.5,1518.1 545.6,1518.7 546.7,1519.0 547.8,1521.7 548.9,1519.0 550.0,1520.9 551.1,1521.5 552.2,1518.7 553.3,1519.2 554.4,1516.5 555.5,1519.4 556.6,1521.2 557.7,1518.5 558.8,1520.6 559.9,1521.3 561.0,1520.6 562.1,1519.3 563.2,1520.4 564.3,1519.0 565.4,1519.4 566.5,1523.8 567.6,1519.2 568.7,1518.9 569.8,1520.3 570.9,1520.5 572.0,1521.2 573.1,1518.8 574.2,1518.3 575.3,1518.4 576.4,1521.2 577.5,1521.7 578.6,1518.8 579.7,1519.2 580.8,1519.9 581.9,1518.5 583.0,1519.2 584.1,1521.5 585.2,1518.0 586.3,1520.6 587.4,1521.9 588.5,1518.2 589.6,1521.7 590.7,1520.0 591.8,1519.1 592.9,1521.3 594.0,1520.1 595.1,1519.6 596.2,1519.0 597.3,1518.6 598.4,1519.1 599.5,1519.6 600.6,1521.2 601.7,1519.5 602.8,1520.4 603.9,1519.3 605.0,1520.7 606.1,1519.8 607.2,1521.9 608.3,1520.3 609.4,1517.2 610.5,1519.7 611.6,1519.2 612.7,1521.4 613.8,1519.9 614.9,1521.3 616.0,1521.1 617.1,1518.8 618.2,1519.4 619.3,1520.0 620.4,1518.2 621.5,1525.3 622.6,1520.7 623.7,1517.8 624.8,1517.6 625.9,1520.1 627.0,1519.2 628.1,1517.4 629.2,1517.1 630.3,1519.9 631.4,1519.1 632.5,1520.5 633.6,1519.7 634.7,1521.6 635.8,1516.9 636.9,1520.8 638.0,1518.5 639.1,1518.3 640.2,1521.4 641.3,1516.7 642.4,1519.7 643.5,1519.2 644.6,1521.7 645.7,1517.5 646.8,1520.4 647.9,1520.6 649.0,1519.8 650.1,1520.0 651.2,1519.5 652.3,1517.5 653.4,1518.9 654.5,1516.7 655.6,1521.3 656.7,1521.3 657.8,1517.5 658.9,1521.7 660.0,1519.5 661.1,1517.3 662.2,1518.6 663.3,1520.7 664.4,1519.6 665.5,1518.0 666.6,1520.8 667.7,1519.4 668.8,1518.9 669.9,1517.7 671.0,1520.5 672.1,1521.1 673.2,1518.0 674.3,1519.2 675.4,1519.3 676.5,1520.0 677.6,1518.0 678.7,1522.9 679.8,1520.1 680.9,1521.1 682.0,1519.2 683.1,1523.1 684.2,1520.4 685.3,1516.8 686.4,1521.3 687.5,1519.6 688.6,1518.0 689.7,1519.6 690.8,1518.2 691.9,1520.8 693.0,1520.7 694.1,1517.4 695.2,1520.7 696.3,1521.3 697.4,1515.7 698.5,1521.8 699.6,1520.7 700.7,1521.0 701.8,1521.9 702.9,1519.6 704.0,1518.3 705.1,1520.2 706.2,1519.4 707.3,1520.4 708.4,1515.9 709.5,1519.0 710.6,1523.8 711.7,1520.2 712.8,1521.2 713.9,1520.2 715.0,1519.1 716.1,1521.0 717.2,1520.8 718.3,1519.0 719.4,1519.3 720.5,1520.7 721.6,1518.3 722.7,1518.2 723.8,1521.5 724.9,1521.4 726.0,1519.3 727.1,1522.1 728.2,1521.0 729.3,1520.2 730.4,1518.8 731.5,1520.8 732.6,1518.7 733.7,1519.5 734.8,1518.6 735.9,1521.5 737.0,1519.8 738.1,1519.6 739.2,1520.6 740.3,1523.5 741.4,1521.2 742.5,1517.1 743.6,1519.6 744.7,1519.7 745.8,1518.6 746.9,1518.0 748.0,1522.3 749.1,1520.8 750.2,1521.0 751.3,1520.1 752.4,1520.9 753.5,1520.4 754.6,1519.8 755.7,1519.2 756.8,1518.0 757.9,1518.4 759.0,1519.5 760.1,1518.1 761.2,1520.1 762.3,1518.1 763.4,1520.8 764.5,1517.3 765.6,1520.0 766.7,1521.5 767.8,1520.9 768.9,1518.6 770.0,1521.6 771.1,1519.5 772.2,1520.0 773.3,1519.4 774.4,1516.7 775.5,1520.4 776.6,1520.1 777.7,1520.7 778.8,1517.9 779.9,1520.7 781.0,1518.4 782.1,1517.6 783.2,1517.8 784.3,1519.8 785.4,1518.8 786.5,1521.9 787.6,1520.7 788.7,1521.3 789.8,1519.2 790.9,1517.7 792.0,1516.8 793.1,1519.0 794.2,1521.4 795.3,1521.4 796.4,1516.8 797.5,1519.8 798.6,1520.5 799.7,1517.8 800.8,1519.4 801.9,1518.2 803.0,1519.6 804.1,1519.7 805.2,1518.9 806.3,1519.2 807.4,1518.3 808.5,1519.5 809.6,1514.2 810.7,1520.1 811.8,1521.0 812.9,1517.2 814.0,1519.0 815.1,1520.3 816.2,1518.2 817.3,1518.2 818.4,1519.2 819.5,1520.5 820.6,1517.1 821.7,1519.7 822.8,1520.2 823.9,1517.1 825.0,1519.6 826.1,1521.6 827.2,1519.3 828.3,1519.1 829.4,1521.6 830.5,1518.4 831.6,1519.0 832.7,1521.4 833.8,1522.1 834.9,1517.6 836.0,1519.0 837.1,1520.1 838.2,1521.3 839.3,1520.0 840.4,1518.3 841.5,1520.5 842.6,1515.7 843.7,1519.5 844.8,1520.4 845.9,1521.0 847.0,1520.0 848.1,1517.0 849.2,1520.8 850.3,1518.4 851.4,1518.5 852.5,1521.1 853.6,1516.1 854.7,1522.8 855.8,1520.7 856.9,1520.7 858.0,1519.0 859.1,1520.4 860.2,1520.2 861.3,1519.6 862.4,1516.8 863.5,1519.9 864.6,1519.6 865.7,1520.7 866.8,1519.9 867.9,1519.6 869.0,1519.5 870.1,1516.8 871.2,1516.2 872.3,1519.0 873.4,1518.1 874.5,1519.9 875.6,1517.2 876.7,1518.3 877.8,1520.3 878.9,1519.2 880.0,1517.8 881.1,1520.1 882.2,1519.6 883.3,1517.5 884.4,1518.1 885.5,1519.5 886.6,1518.8 887.7,1518.7 888.8,1518.3 889.9,1514.8 891.0,1519.9 892.1,1519.6 893.2,1518.9 894.3,1516.2 895.4,1518.5 896.5,1519.1 897.6,1518.7 898.7,1518.9 899.8,1515.5 900.9,1520.0 902.0,1520.0 903.1,1520.1 904.2,1521.1 905.3,1519.4 906.4,1521.2 907.5,1517.1 908.6,1520.1 909.7,1518.7 910.8,1521.3 911.9,1518.2 913.0,1518.2 914.1,1518.0 915.2,1519.8 916.3,1517.7 917.4,1520.3 918.5,1520.1 919.6,1519.1 920.7,1519.2 921.8,1518.0 922.9,1522.0 924.0,1520.3 925.1,1517.1 926.2,1520.5 927.3,1517.2 928.4,1519.4 929.5,1519.9 930.6,1518.4 931.7,1518.0 932.8,1519.4 933.9,1519.8 935.0,1519.2 936.1,1519.5 937.2,1516.7 938.3,1518.8 939.4,1517.3 940.5,1519.0 941.6,1517.1 942.7,1517.5 943.8,1517.3 944.9,1518.1 946.0,1518.3 947.1,1518.5 948.2,1519.6 949.3,1517.2 950.4,1521.2 951.5,1518.1 952.6,1517.4 953.7,1519.1 954.8,1517.9 955.9,1517.8 957.0,1518.9 958.1,1516.6 959.2,1520.2 960.3,1516.4 961.4,1517.5 962.5,1520.2 963.6,1520.3 964.7,1519.1 965.8,1516.3 966.9,1517.9 968.0,1517.6 969.1,1517.5 970.2,1518.0 971.3,1519.1 972.4,1519.9 973.5,1518.9 974.6,1517.1 975.7,1518.5 976.8,1518.9 977.9,1519.9 979.0,1517.5 980.1,1517.7 981.2,1517.5 982.3,1516.7 983.4,1519.1 984.5,1517.6 985.6,1519.9 986.7,1519.8 987.8,1518.5 988.9,1518.9 990.0,1517.9 991.1,1518.8 992.2,1518.7 993.3,1520.3 994.4,1517.8 995.5,1520.2 996.6,1519.5 997.7,1519.1 998.8,1516.7 999.9,1516.9 1001.0,1518.5 1002.1,1518.7 1003.2,1516.5 1004.3,1521.2 1005.4,1518.8 1006.5,1518.3 1007.6,1519.4 1008.7,1517.3 1009.8,1515.2 1010.9,1518.3 1012.0,1517.4 1013.1,1518.5 1014.2,1518.8 1015.3,1516.0 1016.4,1517.2 1017.5,1519.9 1018.6,1520.8 1019.7,1518.4 1020.8,1518.7 1021.9,1519.1 1023.0,1519.0 1024.1,1522.7 1025.2,1521.2 1026.3,1517.6 1027.4,1518.1 1028.5,1520.4 1029.6,1519.5 1030.7,1520.1 1031.8,1519.6 1032.9,1517.2 1034.0,1516.6 1035.1,1516.2 1036.2,1517.4 1037.3,1519.2 1038.4,1517.7 1039.5,1521.7 1040.6,1516.0 1041.7,1518.1 1042.8,1520.2 1043.9,1521.5 1045.0,1517.0 1046.1,1518.9 1047.2,1519.6 1048.3,1515.3 1049.4,1519.7 1050.5,1518.7 1051.6,1517.8 1052.7,1520.0 1053.8,1518.5 1054.9,1517.2 1056.0,1520.5 1057.1,1517.4 1058.2,1520.4 1059.3,1514.6 1060.4,1519.8 1061.5,1517.9 1062.6,1518.8 1063.7,1518.6 1064.8,1520.0 1065.9,1517.0 1067.0,1518.0 1068.1,1517.8 1069.2,1519.1 1070.3,1518.3 1071.4,1518.8 1072.5,1518.9 1073.6,1515.6 1074.7,1518.0 1075.8,1518.5 1076.9,1518.7 1078.0,1522.3 1079.1,1519.6 1080.2,1520.4 1081.3,1517.6 1082.4,1519.6 1083.5,1521.2 1084.6,1517.6 1085.7,1517.3 1086.8,1515.9 1087.9,1516.2 1089.0,1521.0 1090.1,1515.9 1091.2,1518.1 1092.3,1519.5 1093.4,1518.5 1094.5,1518.7 1095.6,1518.1 1096.7,1519.8 1097.8,1516.0 1098.9,1517.6 1100.0,1518.1 1101.1,1515.2 1102.2,1517.0 1103.3,1517.9 1104.4,1520.6 1105.5,1517.2 1106.6,1520.0 1107.7,1517.0 1108.8,1520.8 1109.9,1517.5 1111.0,1519.8 1112.1,1522.8 1113.2,1519.7 1114.3,1520.4 1115.4,1516.4 1116.5,1519.0 1117.6,1519.3 1118.7,1517.8 1119.8,1518.5 1120.9,1516.3 1122.0,1517.3 1123.1,1516.1 1124.2,1515.6 1125.3,1519.2 1126.4,1516.7 1127.5,1518.5 1128.6,1521.0 1129.7,1519.8 1130.8,1517.0 1131.9,1517.6 1133.0,1517.0 1134.1,1518.0 1135.2,1520.8 1136.3,1520.6 1137.4,1517.2 1138.5,1515.8 1139.6,1519.7 1140.7,1514.4 1141.8,1518.9 1142.9,1514.4 1144.0,1518.7 1145.1,1518.4 1146.2,1517.3 1147.3,1516.2 1148.4,1518.9 1149.5,1518.7 1150.6,1518.3 1151.7,1521.8 1152.8,1517.6 1153.9,1517.2 1155.0,1520.3 1156.1,1523.0 1157.2,1517.0 1158.3,1517.7 1159.4,1517.3 1160.5,1518.5 1161.6,1519.3 1162.7,1516.9 1163.8,1517.7 1164.9,1516.5 1166.0,1518.4 1167.1,1517.6 1168.2,1518.7 1169.3,1517.7 1170.4,1518.3 1171.5,1515.4 1172.6,1517.0 1173.7,1517.4 1174.8,1518.3 1175.9,1516.3 1177.0,1517.2 1178.1,1519.6 1179.2,1518.7 1180.3,1517.0 1181.4,1518.0 1182.5,1517.5 1183.6,1518.4 1184.7,1517.6 1185.8,1516.5 1186.9,1518.2 1188.0,1515.6 1189.1,1519.1 1190.2,1519.6 1191.3,1519.4 1192.4,1515.8 1193.5,1517.8 1194.6,1519.4 1195.7,1518.4 1196.8,1518.5 1197.9,1518.3 1199.0,1519.3 1200.1,1517.8 1201.2,1515.5 1202.3,1518.5 1203.4,1521.5 1204.5,1519.2 1205.6,1519.1 1206.7,1521.2 1207.8,1516.9 1208.9,1516.5 1210.0,1517.4 1211.1,1518.8 1212.2,1521.0 1213.3,1519.8 1214.4,1518.0 1215.5,1520.4 1216.6,1518.6 1217.7,1518.6 1218.8,1517.8 1219.9,1516.7 1221.0,1517.8 1222.1,1516.5 1223.2,1514.8 1224.3,1516.8 1225.4,1520.2 1226.5,1517.7 1227.6,1515.8 1228.7,1518.3 1229.8,1521.9 1230.9,1517.9 1232.0,1522.1 1233.1,1519.0 1234.2,1514.8 1235.3,1518.6 1236.4,1521.5 1237.5,1518.9 1238.6,1516.2 1239.7,1518.8 1240.8,1520.3 1241.9,1515.7 1243.0,1518.4 1244.1,1518.7 1245.2,1519.9 1246.3,1517.5 1247.4,1516.8 1248.5,1519.2 1249.6,1518.7 1250.7,1518.1 1251.8,1517.4 1252.9,1519.5 1254.0,1517.3 1255.1,1521.7 1256.2,1517.6 1257.3,1520.2 1258.4,1519.9 1259.5,1518.8 1260.6,1517.9 1261.7,1519.9 1262.8,1518.3 1263.9,1516.7 1265.0,1518.3 1266.1,1518.8 1267.2,1515.3 1268.3,1519.9 1269.4,1515.1 1270.5,1518.5 1271.6,1517.9 1272.7,1515.3 1273.8,1517.7 1274.9,1516.4 1276.0,1518.7 1277.1,1517.0 1278.2,1518.4 1279.3,1518.6 1280.4,1519.8 1281.5,1516.6 1282.6,1520.8 1283.7,1514.7 1284.8,1516.2 1285.9,1517.3 1287.0,1515.3 1288.1,1515.2 1289.2,1518.5 1290.3,1515.2 1291.4,1516.7 1292.5,1519.3 1293.6,1519.8 1294.7,1517.4 1295.8,1519.1 1296.9,1519.2 1298.0,1518.9 1299.1,1517.5 1300.2,1516.4 1301.3,1515.7 1302.4,1520.2 1303.5,1518.8 1304.6,1517.7 1305.7,1517.9 1306.8,1519.2 1307.9,1519.4 1309.0,1517.9 1310.1,1516.2 1311.2,1519.2 1312.3,1517.3 1313.4,1515.6 1314.5,1520.1 1315.6,1521.0 1316.7,1518.5 1317.8,1517.9 1318.9,1517.8 1320.0,1517.4 1321.1,1517.2 1322.2,1516.6 1323.3,1516.6 1324.4,1517.0 1325.5,1517.7 1326.6,1518.1 1327.7,1518.7 1328.8,1516.3 1329.9,1518.9 1331.0,1516.4 1332.1,1516.3 1333.2,1518.6 1334.3,1515.1 1335.4,1517.7 1336.5,1514.7 1337.6,1517.1 1338.7,1518.9 1339.8,1519.2 1340.9,1516.1 1342.0,1516.2 1343.1,1520.4 1344.2,1518.6 1345.3,1520.2 1346.4,1515.4 1347.5,1520.2 1348.6,1518.5 1349.7,1516.0 1350.8,1518.1 1351.9,1520.3 1353.0,1518.9 1354.1,1516.0 1355.2,1515.4 1356.3,1519.8 1357.4,1517.5 1358.5,1516.6 1359.6,1517.1 1360.7,1516.8 1361.8,1515.6 1362.9,1517.6 1364.0,1518.4 1365.1,1515.6 1366.2,1519.6 1367.3,1516.6 1368.4,1518.4 1369.5,1519.3 1370.6,1519.3 1371.7,1520.3 1372.8,1515.1 1373.9,1514.7 1375.0,1515.4 1376.1,1516.9 1377.2,1518.6 1378.3,1516.0 1379.4,1516.2 1380.5,1517.1 1381.6,1516.9 1382.7,1521.3 1383.8,1516.2 1384.9,1520.7 1386.0,1521.6 1387.1,1517.7 1388.2,1517.6 1389.3,1517.7 1390.4,1516.8 1391.5,1516.9 1392.6,1515.8 1393.7,1518.5 1394.8,1519.3 1395.9,1516.6 1397.0,1519.2 1398.1,1517.1 1399.2,1516.7 1400.3,1518.1 1401.4,1517.3 1402.5,1520.6 1403.6,1520.1 1404.7,1520.1 1405.8,1519.2 1406.9,1515.8 1408.0,1517.0 1409.1,1517.7 1410.2,1520.8 1411.3,1516.6 1412.4,1519.9 1413.5,1514.8 1414.6,1517.2 1415.7,1517.4 1416.8,1519.7 1417.9,1519.6 1419.0,1518.2 1420.1,1518.7 1421.2,1515.8 1422.3,1515.1 1423.4,1519.8 1424.5,1522.5 1425.6,1519.7 1426.7,1517.3 1427.8,1518.9 1428.9,1515.0 1430.0,1517.7 1431.1,1517.5 1432.2,1520.2 1433.3,1518.5 1434.4,1519.6 1435.5,1515.8 1436.6,1517.6 1437.7,1516.7 1438.8,1519.4 1439.9,1518.5 1441.0,1518.3 1442.1,1514.7 1443.2,1520.9 1444.3,1517.5 1445.4,1518.1 1446.5,1522.1 1447.6,1520.5 1448.7,1518.3 1449.8,1519.2 1450.9,1515.9 1452.0,1516.8 1453.1,1519.2 1454.2,1517.2 1455.3,1517.6 1456.4,1515.7 1457.5,1516.9 1458.6,1516.9 1459.7,1517.1 1460.8,1520.9 1461.9,1517.8 1463.0,1518.1 1464.1,1519.8 1465.2,1517.5 1466.3,1519.1 1467.4,1515.0 1468.5,1517.4 1469.6,1518.9 1470.7,1516.8 1471.8,1518.8 1472.9,1517.4 1474.0,1519.0 1475.1,1519.7 1476.2,1517.6 1477.3,1516.2 1478.4,1516.4 1479.5,1518.1 1480.6,1517.9 1481.7,1515.4 1482.8,1519.6 1483.9,1520.0 1485.0,1518.0 1486.1,1518.5 1487.2,1518.5 1488.3,1516.5 1489.4,1517.9 1490.5,1518.5 1491.6,1517.7 1492.7,1515.9 1493.8,1515.6 1494.9,1516.9 1496.0,1516.8 1497.1,1516.7 1498.2,1514.4 1499.3,1517.4 1500.4,1517.0 1501.5,1517.6 1502.6,1515.7 1503.7,1518.7 1504.8,1517.9 1505.9,1519.3 1507.0,1516.6 1508.1,1519.0 1509.2,1518.3 1510.3,1517.2 1511.4,1518.1 1512.5,1516.5 1513.6,1517.7 1514.7,1517.8 1515.8,1517.7 1516.9,1518.2 1518.0,1518.9 1519.1,1516.1 1520.2,1518.5 1521.3,1514.2 1522.4,1516.1 1523.5,1521.2 1524.6,1519.0 1525.7,1517.8 1526.8,1521.9 1527.9,1516.3 1529.0,1517.5 1530.1,1516.0 1531.2,1518.5 1532.3,1516.6 1533.4,1514.6 1534.5,1515.6 1535.6,1516.7 1536.7,1518.9 1537.8,1518.5 1538.9,1519.0 1540.0,1518.3 1541.1,1516.8 1542.2,1520.7 1543.3,1516.8 1544.4,1518.5 1545.5,1516.8 1546.6,1517.1 1547.7,1517.4 1548.8,1516.3 1549.9,1519.2 1551.0,1517.7 1552.1,1519.4 1553.2,1519.9 1554.3,1518.9 1555.4,1518.2 1556.5,1518.7 1557.6,1516.9 1558.7,1518.5 1559.8,1514.5 1560.9,1516.4 1562.0,1519.0 1563.1,1515.2 1564.2,1518.2 1565.3,1519.0 1566.4,1517.8 1567.5,1516.4 1568.6,1519.3 1569.7,1521.1 1570.8,1520.1 1571.9,1515.4 1573.0,1520.7 1574.1,1516.9 1575.2,1520.3 1576.3,1517.9 1577.4,1518.9 1578.5,1520.2 1579.6,1516.3 1580.7,1520.1 1581.8,1518.0 1582.9,1519.1 1584.0,1517.8 1585.1,1517.6 1586.2,1515.7 1587.3,1517.5 1588.4,1519.3 1589.5,1516.4 1590.6,1520.1 1591.7,1519.0 1592.8,1515.6 1593.9,1517.9 1595.0,1518.6 1596.1,1517.7 1597.2,1518.5 1598.3,1519.5 1599.4,1517.3 1600.5,1518.7 1601.6,1517.6 1602.7,1516.3 1603.8,1518.7 1604.9,1517.1 1606.0,1517.5 1607.1,1519.2 1608.2,1514.6 1609.3,1518.8 1610.4,1518.5 1611.5,1518.1 1612.6,1518.8 1613.7,1518.4 1614.8,1518.6 1615.9,1515.4 1617.0,1517.2 1618.1,1518.3 1619.2,1517.6 1620.3,1518.1 1621.4,1516.5 1622.5,1520.7 1623.6,1518.0 1624.7,1519.1 1625.8,1519.3 1626.9,1517.1 1628.0,1517.1 1629.1,1516.2 1630.2,1518.6 1631.3,1520.1 1632.4,1519.1 1633.5,1515.7 1634.6,1519.6 1635.7,1519.8 1636.8,1518.4 1637.9,1515.3 1639.0,1514.8 1640.1,1516.8 1641.2,1515.5 1642.3,1518.5 1643.4,1520.0 1644.5,1520.2 1645.6,1519.5 1646.7,1519.7 1647.8,1519.8 1648.9,1518.3 1650.0,1516.7 1651.1,1521.1 1652.2,1521.0 1653.3,1514.7 1654.4,1520.1 1655.5,1518.5 1656.6,1517.1 1657.7,1520.5 1658.8,1516.7 1659.9,1517.7 1661.0,1518.1 1662.1,1520.1 1663.2,1517.1 1664.3,1518.5 1665.4,1517.3 1666.5,1518.7 1667.6,1520.5 1668.7,1520.1 1669.8,1518.3 1670.9,1518.3 1672.0,1516.0 1673.1,1520.4 1674.2,1518.6 1675.3,1520.5 1676.4,1518.8 1677.5,1518.5 1678.6,1518.2 1679.7,1515.8 1680.8,1519.6 1681.9,1519.6 1683.0,1517.3 1684.1,1519.1 1685.2,1518.5 1686.3,1517.4 1687.4,1517.0 1688.5,1516.1 1689.6,1516.7 1690.7,1520.0 1691.8,1519.6 1692.9,1518.4 1694.0,1520.0 1695.1,1518.5 1696.2,1517.6 1697.3,1519.1 1698.4,1517.9 1699.5,1517.8 1700.6,1519.1 1701.7,1516.5 1702.8,1520.4 1703.9,1518.9 1705.0,1517.3 1706.1,1519.4 1707.2,1516.3 1708.3,1515.9 1709.4,1517.7 1710.5,1518.7 1711.6,1517.2 1712.7,1516.4 1713.8,1521.5 1714.9,1518.8 1716.0,1516.6 1717.1,1517.8 1718.2,1519.7 1719.3,1518.2 1720.4,1516.3 1721.5,1522.1 1722.6,1520.8 1723.7,1515.9 1724.8,1519.6 1725.9,1519.4 1727.0,1517.0 1728.1,1517.8 1729.2,1517.2 1730.3,1519.1 1731.4,1521.2 1732.5,1518.6 1733.6,1517.8 1734.7,1520.8 1735.8,1518.3 1736.9,1517.0 1738.0,1517.3 1739.1,1517.6 1740.2,1519.4 1741.3,1519.8 1742.4,1520.0 1743.5,1519.8 1744.6,1515.7 1745.7,1519.3 1746.8,1516.4 1747.9,1518.7 1749.0,1518.6 1750.1,1517.3 1751.2,1517.6 1752.3,1517.6 1753.4,1518.9 1754.5,1518.7 1755.6,1521.2 1756.7,1518.8 1757.8,1519.2 1758.9,1519.0 1760.0,1518.2 1761.1,1519.8 1762.2,1517.2 1763.3,1518.8 1764.4,1517.3 1765.5,1517.9 1766.6,1515.5 1767.7,1516.1 1768.8,1519.6 1769.9,1518.7 1771.0,1519.4 1772.1,1517.9 1773.2,1516.9 1774.3,1519.2 1775.4,1520.0 1776.5,1516.7 1777.6,1514.7 1778.7,1517.4 1779.8,1518.1 1780.9,1515.6 1782.0,1516.1 1783.1,1519.1 1784.2,1520.2 1785.3,1520.8 1786.4,1517.7 1787.5,1519.0 1788.6,1518.0 1789.7,1516.6 1790.8,1517.3 1791.9,1519.3 1793.0,1516.5 1794.1,1517.1 1795.2,1518.1 1796.3,1517.0 1797.4,1516.4 1798.5,1517.6 1799.6,1520.2 1800.7,1518.6 1801.8,1516.7 1802.9,1518.6 1804.0,1517.4 1805.1,1518.9 1806.2,1518.2 1807.3,1516.2 1808.4,1517.2 1809.5,1518.5 1810.6,1518.5 1811.7,1517.6 1812.8,1518.8 1813.9,1516.6 1815.0,1517.2 1816.1,1517.6 1817.2,1514.5 1818.3,1518.9 1819.4,1516.9 1820.5,1518.0 1821.6,1516.4 1822.7,1519.3 1823.8,1517.7 1824.9,1517.2 1826.0,1519.9 1827.1,1517.2 1828.2,1515.5 1829.3,1520.3 1830.4,1517.4 1831.5,1516.5 1832.6,1517.6 1833.7,1520.2 1834.8,1518.8 1835.9,1516.8 1837.0,1518.3 1838.1,1522.1 1839.2,1519.6 1840.3,1520.1 1841.4,1517.5 1842.5,1517.9 1843.6,1521.5 1844.7,1517.6 1845.8,1518.9 1846.9,1519.6 1848.0,1519.4 1849.1,1518.0 1850.2,1519.7 1851.3,1517.5 1852.4,1516.5 1853.5,1518.9 1854.6,1518.3 1855.7,1517.4 1856.8,1518.2 1857.9,1516.2 1859.0,1518.8 1860.1,1520.0 1861.2,1515.3 1862.3,1516.7 1863.4,1517.3 1864.5,1516.3 1865.6,1518.6 1866.7,1520.5 1867.8,1518.4 1868.9,1520.4 1870.0,1518.4 1871.1,1518.9 1872.2,1517.5 1873.3,1518.8 1874.4,1516.7 1875.5,1520.4 1876.6,1516.5 1877.7,1516.7 1878.8,1518.6 1879.9,1516.9 1881.0,1519.1 1882.1,1519.1 1883.2,1518.5 1884.3,1515.4 1885.4,1518.0 1886.5,1518.4 1887.6,1518.2 1888.7,1518.0 1889.8,1517.1 1890.9,1517.5 1892.0,1518.8 1893.1,1518.8 1894.2,1517.3 1895.3,1519.1 1896.4,1519.9 1897.5,1520.1 1898.6,1518.0 1899.7,1521.8 1900.8,1515.8 1901.9,1519.1 1903.0,1518.5 1904.1,1518.1 1905.2,1518.1 1906.3,1517.2 1907.4,1518.5 1908.5,1517.8 1909.6,1517.6 1910.7,1517.8 1911.8,1517.5 1912.9,1519.3 1914.0,1520.3 1915.1,1518.1 1916.2,1518.8 1917.3,1520.8 1918.4,1516.7 1919.5,1519.2 1920.6,1517.5 1921.7,1518.9 1922.8,1519.4 1923.9,1520.6 1925.0,1517.2 1926.1,1519.6 1927.2,1517.9 1928.3,1520.1 1929.4,1516.4 1930.5,1520.1 1931.6,1521.0 1932.7,1521.5 1933.8,1520.2 1934.9,1518.4 1936.0,1517.3 1937.1,1519.7 1938.2,1519.1 1939.3,1515.8 1940.4,1516.4 1941.5,1519.2 1942.6,1518.2 1943.7,1515.9 1944.8,1516.6 1945.9,1517.3 1947.0,1519.4 1948.1,1519.5 1949.2,1519.3 1950.3,1518.3 1951.4,1518.4 1952.5,1518.1 1953.6,1521.2 1954.7,1516.2 1955.8,1519.6 1956.9,1519.9 1958.0,1518.9 1959.1,1514.8 1960.2,1518.3 1961.3,1518.2 1962.4,1517.0 1963.5,1517.3 1964.6,1517.7 1965.7,1519.1 1966.8,1517.2 1967.9,1518.9 1969.0,1516.5 1970.1,1521.4 1971.2,1515.8 1972.3,1518.0 1973.4,1516.4 1974.5,1516.5 1975.6,1518.8 1976.7,1520.2 1977.8,1517.0 1978.9,1518.8 1980.0,1517.4 1981.1,1519.4 1982.2,1514.1 1983.3,1519.0 1984.4,1517.6 1985.5,1517.8 1986.6,1517.6 1987.7,1515.5 1988.8,1519.5 1989.9,1518.8 1991.0,1516.8 1992.1,1517.5 1993.2,1517.6 1994.3,1515.0 1995.4,1518.2 1996.5,1519.1 1997.6,1518.2 1998.7,1518.0 1999.8,1515.5 2000.9,1517.0 2002.0,1515.6 2003.1,1517.1 2004.2,1518.5 2005.3,1522.8 2006.4,1517.8 2007.5,1518.1 2008.6,1517.4 2009.7,1517.6 2010.8,1519.8 2011.9,1517.2 2013.0,1518.2 2014.1,1519.2 2015.2,1516.7 2016.3,1521.8 2017.4,1517.5 2018.5,1518.5 2019.6,1520.4 2020.7,1517.5 2021.8,1513.6 2022.9,1518.6 2024.0,1519.5 2025.1,1518.3 2026.2,1519.8 2027.3,1518.5 2028.4,1521.2 2029.5,1521.1 2030.6,1518.7 2031.7,1520.4 2032.8,1517.7 2033.9,1519.3 2035.0,1519.9 2036.1,1516.7 2037.2,1518.9 2038.3,1515.1 2039.4,1516.5 2040.5,1516.1 2041.6,1519.6 2042.7,1516.8 2043.8,1520.8 2044.9,1516.8 2046.0,1517.3 2047.1,1516.2 2048.2,1518.4 2049.3,1517.5 2050.4,1518.1 2051.5,1519.0 2052.6,1518.2 2053.7,1517.1 2054.8,1516.4 2055.9,1518.5 2057.0,1521.1 2058.1,1520.3 2059.2,1518.6 2060.3,1517.4 2061.4,1519.8 2062.5,1518.7 2063.6,1517.4 2064.7,1517.6 2065.8,1517.3 2066.9,1516.7 2068.0,1518.1 2069.1,1517.5 2070.2,1518.5 2071.3,1517.7 2072.4,1515.9 2073.5,1518.7 2074.6,1521.2 2075.7,1516.3 2076.8,1518.9 2077.9,1517.1 2079.0,1518.8 2080.1,1522.6 2081.2,1520.2 2082.3,1517.5 2083.4,1517.2 2084.5,1517.5 2085.6,1519.2 2086.7,1517.8 2087.8,1516.6 2088.9,1518.8 2090.0,1514.9 2091.1,1517.2 2092.2,1520.6 2093.3,1517.6 2094.4,1518.1 2095.5,1516.7 2096.6,1516.8 2097.7,1516.2 2098.8,1516.7 2099.9,1516.0 2101.0,1513.6 2102.1,1518.1 2103.2,1516.6 2104.3,1519.9 2105.4,1519.3 2106.5,1519.3 2107.6,1520.2 2108.7,1520.4 2109.8,1517.7 2110.9,1520.5 2112.0,1521.5 2113.1,1519.4 2114.2,1516.3 2115.3,1518.0 2116.4,1518.5 2117.5,1517.3 2118.6,1516.9 2119.7,1520.7 2120.8,1518.0 2121.9,1517.9 2123.0,1519.5 2124.1,1517.0 2125.2,1521.6 2126.3,1518.7 2127.4,1519.0 2128.5,1516.1 2129.6,1517.5 2130.7,1519.8 2131.8,1518.6 2132.9,1518.2 2134.0,1517.9 2135.1,1519.1 2136.2,1515.5 2137.3,1521.0 2138.4,1520.0 2139.5,1520.0 2140.6,1515.6 2141.7,1518.9 2142.8,1521.0 2143.9,1518.0 2145.0,1517.0 2146.1,1515.7 2147.2,1517.4 2148.3,1519.3 2149.4,1515.5 2150.5,1516.3 2151.6,1519.6 2152.7,1516.5 2153.8,1518.4 2154.9,1518.3 2156.0,1519.7 2157.1,1517.0 2158.2,1518.3 2159.3,1516.9 2160.4,1520.5 2161.5,1517.9 2162.6,1521.2 2163.7,1517.2 2164.8,1518.2 2165.9,1520.7 2167.0,1519.0 2168.1,1519.4 2169.2,1517.9 2170.3,1518.2 2171.4,1517.6 2172.5,1518.6 2173.6,1519.9 2174.7,1520.3 2175.8,1519.5 2176.9,1515.6 2178.0,1520.1 2179.1,1519.7 2180.2,1518.2 2181.3,1518.0 2182.4,1514.8 2183.5,1516.9 2184.6,1519.7 2185.7,1521.0 2186.8,1518.5 2187.9,1517.0 2189.0,1518.0 2190.1,1518.9 2191.2,1516.6 2192.3,1518.3 2193.4,1519.1 2194.5,1520.0 2195.6,1517.6 2196.7,1516.6 2197.8,1518.3 2198.9,1517.6 2200.0,1517.9 2201.1,1517.5 2202.2,1518.5 2203.3,1517.4 2204.4,1519.2 2205.5,1518.1 2206.6,1517.3 2207.7,1521.0 2208.8,1519.2 2209.9,1518.5 2211.0,1517.5 2212.1,1515.2 2213.2,1519.2 2214.3,1519.5 2215.4,1517.3 2216.5,1518.9 2217.6,1517.3 2218.7,1518.6 2219.8,1518.8 2220.9,1517.3 2222.0,1517.6 2223.1,1519.3 2224.2,1517.3 2225.3,1515.9 2226.4,1515.4 2227.5,1518.1 2228.6,1521.1 2229.7,1518.7 2230.8,1519.4 2231.9,1519.9 2233.0,1518.6 2234.1,1520.7 2235.2,1515.6 2236.3,1518.3 2237.4,1520.7 2238.5,1519.0 2239.6,1520.4 2240.7,1520.6 2241.8,1518.7 2242.9,1516.1 2244.0,1517.0 2245.1,1519.1 2246.2,1522.1 2247.3,1518.9 2248.4,1515.0 2249.5,1518.3 2250.6,1518.4 2251.7,1518.6 2252.8,1519.3 2253.9,1512.9 2255.0,1522.7 2256.1,1520.2 2257.2,1519.7 2258.3,1519.2 2259.4,1516.9 2260.5,1518.2 2261.6,1521.8 2262.7,1519.7 2263.8,1519.7 2264.9,1518.5 2266.0,1518.2 2267.1,1518.9 2268.2,1520.5 2269.3,1520.6 2270.4,1520.2 2271.5,1516.8 2272.6,1518.2 2273.7,1518.5 2274.8,1517.1 2275.9,1519.7 2277.0,1517.2 2278.1,1522.5 2279.2,1519.2 2280.3,1518.6 2281.4,1517.1 2282.5,1518.2 2283.6,1520.9 2284.7,1515.9 2285.8,1517.7 2286.9,1520.4 2288.0,1514.0 2289.1,1518.4 2290.2,1516.8 2291.3,1520.0 2292.4,1516.7 2293.5,1516.0 2294.6,1518.0 2295.7,1521.1 2296.8,1517.7 2297.9,1518.7 2299.0,1518.8 2300.1,1517.1 2301.2,1518.0 2302.3,1518.2 2303.4,1519.3 2304.5,1518.5 2305.6,1518.1 2306.7,1515.7 2307.8,1521.7 2308.9,1518.2 2310.0,1518.1 2311.1,1519.7 2312.2,1521.1 2313.3,1518.8 2314.4,1519.1 2315.5,1516.9 2316.6,1518.7 2317.7,1519.2 2318.8,1517.5 2319.9,1519.5 2321.0,1516.6 2322.1,1521.2 2323.2,1516.3 2324.3,1520.1 2325.4,1517.1 2326.5,1519.5 2327.6,1520.8 2328.7,1515.8 2329.8,1518.3 2330.9,1518.5 2332.0,1516.4 2333.1,1517.6 2334.2,1520.5 2335.3,1516.6 2336.4,1517.8 2337.5,1516.1 2338.6,1516.6 2339.7,1519.1 2340.8,1520.3 2341.9,1516.3 2343.0,1519.5 2344.1,1519.3 2345.2,1515.3 2346.3,1519.1 2347.4,1516.4 2348.5,1516.3 2349.6,1516.4 2350.7,1516.8 2351.8,1518.2 2352.9,1519.2" fill="none" stroke="#000" stroke-width="6.8" stroke-linejoin="round" stroke-linecap="butt"/>
<polyline points="396.0,1507.3 397.1,1507.5 398.2,1509.9 399.3,1506.1 400.4,1510.0 401.5,1505.8 402.6,1508.7 403.7,1508.8 404.8,1511.4 405.9,1509.4 407.0,1508.4 408.1,1512.1 409.2,1512.7 410.3,1508.6 411.4,1511.2 412.5,1509.2 413.6,1510.3 414.7,1510.5 415.8,1507.8 416.9,1510.3 418.0,1508.5 419.1,1508.8 420.2,1510.1 421.3,1507.6 422.4,1508.9 423.5,1512.4 424.6,1513.6 425.7,1514.4 426.8,1512.4 427.9,1514.8 429.0,1516.7 430.1,1516.3 431.2,1511.8 432.3,1511.3 433.4,1515.3 434.5,1516.8 435.6,1514.4 436.7,1516.0 437.8,1514.5 438.9,1514.1 440.0,1514.0 441.1,1513.6 442.2,1512.2 443.3,1516.3 444.4,1514.6 445.5,1512.1 446.6,1512.9 447.7,1511.8 448.8,1514.9 449.9,1511.6 451.0,1513.7 452.1,1515.6 453.2,1515.2 454.3,1514.9 455.4,1511.5 456.5,1514.7 457.6,1512.9 458.7,1515.4 459.8,1512.4 460.9,1516.0 462.0,1513.8 463.1,1514.6 464.2,1512.7 465.3,1512.9 466.4,1513.2 467.5,1516.0 468.6,1513.5 469.7,1514.2 470.8,1516.6 471.9,1515.4 473.0,1513.8 474.1,1514.6 475.2,1511.3 476.3,1510.8 477.4,1514.2 478.5,1518.4 479.6,1517.0 480.7,1518.0 481.8,1514.6 482.9,1512.8 484.0,1516.0 485.1,1512.0 486.2,1509.2 487.3,1515.5 488.4,1516.8 489.5,1516.4 490.6,1518.2 491.7,1516.9 492.8,1516.4 493.9,1514.0 495.0,1515.9 496.1,1514.2 497.2,1515.8 498.3,1520.1 499.4,1517.0 500.5,1517.3 501.6,1515.4 502.7,1521.5 503.8,1513.0 504.9,1515.1 506.0,1518.7 507.1,1515.7 508.2,1515.8 509.3,1518.3 510.4,1518.8 511.5,1518.8 512.6,1515.9 513.7,1518.9 514.8,1515.1 515.9,1515.5 517.0,1515.1 518.1,1517.4 519.2,1515.8 520.3,1514.5 521.4,1516.1 522.5,1514.1 523.6,1515.0 524.7,1515.5 525.8,1515.1 526.9,1514.4 528.0,1514.1 529.1,1518.5 530.2,1512.6 531.3,1517.0 532.4,1514.9 533.5,1515.0 534.6,1512.9 535.7,1516.1 536.8,1515.1 537.9,1518.1 539.0,1515.1 540.1,1514.1 541.2,1514.0 542.3,1518.1 543.4,1517.4 544.5,1515.9 545.6,1519.8 546.7,1517.4 547.8,1516.5 548.9,1518.2 550.0,1515.3 551.1,1517.6 552.2,1515.2 553.3,1518.3 554.4,1518.3 555.5,1516.7 556.6,1518.7 557.7,1515.2 558.8,1517.3 559.9,1516.0 561.0,1514.0 562.1,1517.5 563.2,1519.5 564.3,1522.3 565.4,1516.8 566.5,1517.7 567.6,1520.2 568.7,1515.1 569.8,1520.1 570.9,1514.3 572.0,1515.3 573.1,1517.2 574.2,1517.1 575.3,1519.8 576.4,1516.1 577.5,1518.1 578.6,1517.8 579.7,1518.9 580.8,1519.8 581.9,1520.5 583.0,1519.3 584.1,1519.4 585.2,1518.7 586.3,1515.5 587.4,1514.9 588.5,1518.9 589.6,1515.5 590.7,1516.5 591.8,1518.4 592.9,1517.2 594.0,1516.3 595.1,1516.0 596.2,1517.8 597.3,1520.5 598.4,1514.5 599.5,1517.2 600.6,1519.5 601.7,1518.1 602.8,1516.4 603.9,1517.6 605.0,1518.2 606.1,1519.3 607.2,1514.3 608.3,1515.7 609.4,1517.8 610.5,1518.1 611.6,1517.7 612.7,1518.0 613.8,1519.0 614.9,1518.2 616.0,1522.3 617.1,1516.3 618.2,1516.9 619.3,1514.8 620.4,1518.6 621.5,1517.8 622.6,1516.7 623.7,1514.5 624.8,1520.1 625.9,1516.9 627.0,1517.4 628.1,1513.1 629.2,1516.3 630.3,1516.8 631.4,1519.3 632.5,1517.5 633.6,1518.7 634.7,1514.0 635.8,1516.9 636.9,1517.7 638.0,1517.5 639.1,1517.2 640.2,1517.2 641.3,1520.2 642.4,1516.9 643.5,1519.0 644.6,1518.8 645.7,1516.8 646.8,1517.6 647.9,1512.7 649.0,1516.0 650.1,1519.1 651.2,1515.7 652.3,1512.8 653.4,1518.5 654.5,1514.1 655.6,1519.2 656.7,1516.5 657.8,1514.2 658.9,1515.5 660.0,1520.0 661.1,1517.5 662.2,1517.1 663.3,1517.6 664.4,1517.1 665.5,1516.2 666.6,1518.6 667.7,1520.2 668.8,1517.5 669.9,1520.4 671.0,1519.5 672.1,1514.6 673.2,1519.1 674.3,1520.5 675.4,1514.3 676.5,1517.3 677.6,1519.4 678.7,1516.9 679.8,1518.6 680.9,1517.8 682.0,1516.5 683.1,1517.8 684.2,1517.0 685.3,1517.5 686.4,1517.3 687.5,1515.8 688.6,1515.3 689.7,1515.5 690.8,1517.4 691.9,1514.3 693.0,1518.7 694.1,1514.2 695.2,1519.4 696.3,1515.2 697.4,1514.8 698.5,1514.7 699.6,1516.7 700.7,1516.2 701.8,1514.3 702.9,1516.5 704.0,1517.3 705.1,1516.9 706.2,1519.3 707.3,1512.1 708.4,1516.7 709.5,1516.1 710.6,1518.4 711.7,1521.5 712.8,1515.3 713.9,1516.5 715.0,1517.8 716.1,1520.2 717.2,1520.5 718.3,1517.1 719.4,1520.2 720.5,1518.4 721.6,1520.4 722.7,1518.5 723.8,1519.3 724.9,1518.2 726.0,1516.3 727.1,1516.1 728.2,1518.8 729.3,1516.3 730.4,1515.7 731.5,1517.3 732.6,1518.7 733.7,1519.2 734.8,1516.8 735.9,1518.1 737.0,1519.8 738.1,1517.7 739.2,1520.9 740.3,1519.4 741.4,1517.1 742.5,1520.1 743.6,1518.1 744.7,1521.4 745.8,1517.8 746.9,1520.7 748.0,1521.9 749.1,1518.3 750.2,1517.9 751.3,1515.9 752.4,1516.7 753.5,1517.9 754.6,1520.2 755.7,1518.7 756.8,1514.7 757.9,1518.9 759.0,1515.1 760.1,1520.2 761.2,1519.2 762.3,1518.1 763.4,1514.9 764.5,1518.8 765.6,1516.5 766.7,1516.6 767.8,1518.0 768.9,1515.2 770.0,1518.6 771.1,1519.2 772.2,1520.1 773.3,1517.1 774.4,1517.1 775.5,1520.4 776.6,1519.8 777.7,1513.6 778.8,1517.5 779.9,1517.9 781.0,1514.1 782.1,1517.0 783.2,1514.4 784.3,1514.1 785.4,1512.5 786.5,1517.9 787.6,1513.6 788.7,1509.5 789.8,1513.4 790.9,1515.2 792.0,1514.3 793.1,1520.0 794.2,1515.2 795.3,1516.1 796.4,1517.1 797.5,1518.0 798.6,1513.7 799.7,1512.7 800.8,1514.0 801.9,1516.8 803.0,1514.8 804.1,1516.3 805.2,1513.4 806.3,1516.7 807.4,1515.2 808.5,1514.7 809.6,1515.6 810.7,1515.2 811.8,1515.1 812.9,1511.8 814.0,1515.6 815.1,1515.1 816.2,1516.6 817.3,1516.7 818.4,1515.8 819.5,1517.9 820.6,1520.3 821.7,1518.5 822.8,1517.5 823.9,1517.5 825.0,1519.0 826.1,1515.3 827.2,1516.4 828.3,1515.3 829.4,1513.0 830.5,1517.3 831.6,1517.7 832.7,1515.4 833.8,1515.9 834.9,1517.5 836.0,1519.9 837.1,1516.2 838.2,1520.1 839.3,1518.8 840.4,1512.2 841.5,1515.5 842.6,1516.5 843.7,1514.9 844.8,1517.3 845.9,1515.8 847.0,1516.0 848.1,1514.3 849.2,1511.0 850.3,1515.0 851.4,1511.8 852.5,1515.2 853.6,1513.6 854.7,1518.6 855.8,1512.9 856.9,1507.7 858.0,1515.8 859.1,1511.5 860.2,1512.5 861.3,1512.7 862.4,1507.2 863.5,1506.8 864.6,1510.8 865.7,1506.5 866.8,1504.7 867.9,1507.4 869.0,1508.6 870.1,1510.7 871.2,1508.0 872.3,1507.4 873.4,1509.9 874.5,1509.0 875.6,1510.3 876.7,1504.9 877.8,1512.8 878.9,1504.1 880.0,1509.3 881.1,1508.2 882.2,1503.0 883.3,1504.0 884.4,1502.0 885.5,1504.4 886.6,1504.4 887.7,1501.2 888.8,1501.2 889.9,1498.1 891.0,1501.5 892.1,1500.8 893.2,1497.8 894.3,1495.0 895.4,1500.3 896.5,1494.2 897.6,1495.0 898.7,1494.1 899.8,1497.1 900.9,1496.1 902.0,1492.4 903.1,1494.9 904.2,1494.5 905.3,1499.0 906.4,1503.2 907.5,1500.6 908.6,1500.0 909.7,1498.8 910.8,1491.4 911.9,1490.9 913.0,1487.4 914.1,1493.8 915.2,1490.6 916.3,1486.1 917.4,1490.2 918.5,1487.7 919.6,1490.3 920.7,1485.6 921.8,1483.4 922.9,1484.6 924.0,1483.4 925.1,1485.8 926.2,1480.8 927.3,1479.5 928.4,1480.8 929.5,1475.4 930.6,1477.5 931.7,1481.7 932.8,1475.6 933.9,1482.8 935.0,1476.7 936.1,1478.0 937.2,1480.8 938.3,1479.2 939.4,1473.8 940.5,1472.0 941.6,1478.3 942.7,1473.0 943.8,1474.6 944.9,1477.2 946.0,1473.0 947.1,1470.6 948.2,1467.4 949.3,1471.5 950.4,1479.6 951.5,1466.0 952.6,1463.5 953.7,1467.2 954.8,1473.2 955.9,1466.7 957.0,1466.9 958.1,1466.5 959.2,1466.9 960.3,1461.9 961.4,1460.1 962.5,1464.7 963.6,1472.1 964.7,1457.3 965.8,1462.8 966.9,1462.5 968.0,1461.5 969.1,1463.5 970.2,1459.6 971.3,1465.2 972.4,1457.7 973.5,1454.2 974.6,1458.5 975.7,1461.0 976.8,1469.9 977.9,1456.0 979.0,1463.3 980.1,1448.9 981.2,1458.9 982.3,1460.7 983.4,1453.8 984.5,1457.6 985.6,1451.9 986.7,1450.6 987.8,1451.4 988.9,1454.6 990.0,1442.8 991.1,1456.4 992.2,1448.4 993.3,1446.1 994.4,1453.1 995.5,1448.3 996.6,1458.4 997.7,1441.4 998.8,1445.3 999.9,1443.9 1001.0,1452.0 1002.1,1442.3 1003.2,1439.0 1004.3,1433.8 1005.4,1437.8 1006.5,1444.6 1007.6,1440.2 1008.7,1448.8 1009.8,1435.3 1010.9,1440.9 1012.0,1433.7 1013.1,1438.3 1014.2,1434.4 1015.3,1434.5 1016.4,1426.8 1017.5,1438.9 1018.6,1430.4 1019.7,1430.4 1020.8,1429.2 1021.9,1428.7 1023.0,1436.4 1024.1,1434.9 1025.2,1430.0 1026.3,1423.3 1027.4,1428.4 1028.5,1424.8 1029.6,1415.4 1030.7,1422.9 1031.8,1426.5 1032.9,1422.0 1034.0,1423.7 1035.1,1429.9 1036.2,1430.2 1037.3,1415.6 1038.4,1426.2 1039.5,1424.4 1040.6,1425.0 1041.7,1419.7 1042.8,1422.6 1043.9,1410.2 1045.0,1418.3 1046.1,1423.0 1047.2,1412.5 1048.3,1415.9 1049.4,1414.4 1050.5,1418.8 1051.6,1423.2 1052.7,1414.8 1053.8,1426.4 1054.9,1412.8 1056.0,1418.8 1057.1,1416.1 1058.2,1406.1 1059.3,1406.1 1060.4,1409.9 1061.5,1403.1 1062.6,1400.6 1063.7,1406.0 1064.8,1399.4 1065.9,1406.3 1067.0,1404.7 1068.1,1410.1 1069.2,1413.2 1070.3,1399.7 1071.4,1407.5 1072.5,1414.2 1073.6,1424.7 1074.7,1412.5 1075.8,1414.2 1076.9,1410.7 1078.0,1426.6 1079.1,1412.6 1080.2,1417.3 1081.3,1419.0 1082.4,1407.4 1083.5,1406.5 1084.6,1406.4 1085.7,1412.3 1086.8,1415.5 1087.9,1406.8 1089.0,1419.6 1090.1,1405.5 1091.2,1410.0 1092.3,1406.7 1093.4,1401.6 1094.5,1404.8 1095.6,1406.0 1096.7,1399.2 1097.8,1405.9 1098.9,1401.1 1100.0,1411.3 1101.1,1400.4 1102.2,1400.1 1103.3,1400.9 1104.4,1407.3 1105.5,1411.7 1106.6,1397.8 1107.7,1406.6 1108.8,1406.2 1109.9,1399.2 1111.0,1403.5 1112.1,1401.6 1113.2,1394.6 1114.3,1385.3 1115.4,1395.3 1116.5,1391.7 1117.6,1393.7 1118.7,1395.2 1119.8,1402.7 1120.9,1390.1 1122.0,1397.2 1123.1,1393.4 1124.2,1389.9 1125.3,1388.2 1126.4,1386.6 1127.5,1384.0 1128.6,1397.7 1129.7,1399.0 1130.8,1392.7 1131.9,1401.6 1133.0,1398.2 1134.1,1397.5 1135.2,1393.4 1136.3,1393.9 1137.4,1401.4 1138.5,1399.8 1139.6,1395.9 1140.7,1401.6 1141.8,1399.1 1142.9,1389.7 1144.0,1404.2 1145.1,1396.2 1146.2,1407.6 1147.3,1392.4 1148.4,1385.1 1149.5,1399.5 1150.6,1405.1 1151.7,1393.7 1152.8,1395.4 1153.9,1405.3 1155.0,1398.8 1156.1,1397.1 1157.2,1390.4 1158.3,1389.5 1159.4,1386.2 1160.5,1387.5 1161.6,1392.5 1162.7,1395.6 1163.8,1402.6 1164.9,1400.2 1166.0,1392.7 1167.1,1391.6 1168.2,1392.4 1169.3,1388.7 1170.4,1397.4 1171.5,1385.0 1172.6,1386.7 1173.7,1380.4 1174.8,1380.6 1175.9,1390.3 1177.0,1393.6 1178.1,1393.1 1179.2,1393.6 1180.3,1383.4 1181.4,1399.1 1182.5,1392.3 1183.6,1387.8 1184.7,1390.0 1185.8,1385.5 1186.9,1386.3 1188.0,1391.8 1189.1,1388.2 1190.2,1391.0 1191.3,1390.8 1192.4,1380.6 1193.5,1396.0 1194.6,1399.7 1195.7,1384.2 1196.8,1390.1 1197.9,1392.6 1199.0,1386.9 1200.1,1387.6 1201.2,1382.4 1202.3,1383.3 1203.4,1387.4 1204.5,1392.8 1205.6,1386.6 1206.7,1391.4 1207.8,1387.7 1208.9,1385.4 1210.0,1390.6 1211.1,1388.9 1212.2,1392.4 1213.3,1394.1 1214.4,1388.4 1215.5,1388.2 1216.6,1390.8 1217.7,1382.7 1218.8,1383.6 1219.9,1389.4 1221.0,1378.2 1222.1,1375.2 1223.2,1379.1 1224.3,1387.2 1225.4,1385.1 1226.5,1383.3 1227.6,1383.7 1228.7,1378.7 1229.8,1384.1 1230.9,1381.0 1232.0,1389.6 1233.1,1384.7 1234.2,1388.6 1235.3,1387.8 1236.4,1384.9 1237.5,1383.6 1238.6,1383.0 1239.7,1389.7 1240.8,1390.4 1241.9,1382.8 1243.0,1386.7 1244.1,1390.9 1245.2,1390.7 1246.3,1396.4 1247.4,1393.2 1248.5,1400.1 1249.6,1390.5 1250.7,1397.2 1251.8,1393.3 1252.9,1390.3 1254.0,1379.7 1255.1,1393.1 1256.2,1394.4 1257.3,1395.7 1258.4,1398.8 1259.5,1393.7 1260.6,1389.7 1261.7,1385.7 1262.8,1387.3 1263.9,1390.9 1265.0,1380.4 1266.1,1382.0 1267.2,1387.7 1268.3,1395.0 1269.4,1387.9 1270.5,1390.9 1271.6,1385.1 1272.7,1380.4 1273.8,1383.2 1274.9,1388.9 1276.0,1383.8 1277.1,1387.2 1278.2,1389.3 1279.3,1399.3 1280.4,1397.8 1281.5,1383.1 1282.6,1387.5 1283.7,1399.4 1284.8,1397.1 1285.9,1401.5 1287.0,1404.1 1288.1,1407.8 1289.2,1392.1 1290.3,1399.2 1291.4,1393.7 1292.5,1412.8 1293.6,1406.1 1294.7,1403.6 1295.8,1405.4 1296.9,1408.7 1298.0,1404.8 1299.1,1395.4 1300.2,1404.7 1301.3,1407.2 1302.4,1398.9 1303.5,1401.9 1304.6,1395.9 1305.7,1409.3 1306.8,1396.3 1307.9,1400.6 1309.0,1404.1 1310.1,1405.7 1311.2,1407.9 1312.3,1400.8 1313.4,1409.6 1314.5,1405.0 1315.6,1408.7 1316.7,1411.2 1317.8,1406.8 1318.9,1398.1 1320.0,1418.5 1321.1,1411.6 1322.2,1409.1 1323.3,1419.7 1324.4,1420.1 1325.5,1414.9 1326.6,1421.6 1327.7,1417.2 1328.8,1413.9 1329.9,1414.8 1331.0,1422.1 1332.1,1418.4 1333.2,1415.7 1334.3,1421.5 1335.4,1423.9 1336.5,1421.7 1337.6,1425.9 1338.7,1431.2 1339.8,1426.7 1340.9,1433.1 1342.0,1429.6 1343.1,1433.4 1344.2,1430.9 1345.3,1432.4 1346.4,1428.1 1347.5,1436.4 1348.6,1420.5 1349.7,1434.8 1350.8,1436.6 1351.9,1438.0 1353.0,1447.1 1354.1,1438.6 1355.2,1444.4 1356.3,1446.3 1357.4,1448.6 1358.5,1447.9 1359.6,1447.8 1360.7,1448.9 1361.8,1455.1 1362.9,1443.6 1364.0,1444.1 1365.1,1452.0 1366.2,1453.9 1367.3,1458.4 1368.4,1456.4 1369.5,1461.8 1370.6,1451.0 1371.7,1457.3 1372.8,1462.6 1373.9,1459.9 1375.0,1464.5 1376.1,1461.1 1377.2,1461.6 1378.3,1467.2 1379.4,1467.7 1380.5,1465.2 1381.6,1472.4 1382.7,1466.6 1383.8,1470.5 1384.9,1461.2 1386.0,1474.4 1387.1,1477.8 1388.2,1475.5 1389.3,1471.5 1390.4,1478.3 1391.5,1475.9 1392.6,1473.0 1393.7,1473.4 1394.8,1479.3 1395.9,1476.1 1397.0,1478.1 1398.1,1486.1 1399.2,1487.0 1400.3,1490.1 1401.4,1486.1 1402.5,1490.9 1403.6,1497.6 1404.7,1490.8 1405.8,1490.4 1406.9,1495.3 1408.0,1495.1 1409.1,1488.4 1410.2,1494.4 1411.3,1495.2 1412.4,1487.3 1413.5,1485.7 1414.6,1489.2 1415.7,1491.9 1416.8,1492.3 1417.9,1494.5 1419.0,1490.1 1420.1,1499.4 1421.2,1501.2 1422.3,1497.7 1423.4,1495.4 1424.5,1495.8 1425.6,1499.1 1426.7,1498.8 1427.8,1499.4 1428.9,1497.1 1430.0,1499.6 1431.1,1497.9 1432.2,1496.9 1433.3,1497.1 1434.4,1496.4 1435.5,1503.9 1436.6,1497.1 1437.7,1500.9 1438.8,1502.6 1439.9,1504.2 1441.0,1501.6 1442.1,1505.4 1443.2,1502.1 1444.3,1502.4 1445.4,1501.8 1446.5,1500.3 1447.6,1502.3 1448.7,1503.6 1449.8,1504.7 1450.9,1509.7 1452.0,1500.0 1453.1,1503.6 1454.2,1502.9 1455.3,1508.0 1456.4,1509.1 1457.5,1505.8 1458.6,1505.1 1459.7,1510.4 1460.8,1508.4 1461.9,1503.6 1463.0,1506.7 1464.1,1509.2 1465.2,1506.4 1466.3,1516.7 1467.4,1506.5 1468.5,1508.8 1469.6,1510.0 1470.7,1510.4 1471.8,1507.5 1472.9,1509.2 1474.0,1512.0 1475.1,1513.6 1476.2,1514.2 1477.3,1513.1 1478.4,1512.7 1479.5,1514.2 1480.6,1513.0 1481.7,1510.6 1482.8,1511.2 1483.9,1515.8 1485.0,1512.9 1486.1,1513.5 1487.2,1516.5 1488.3,1513.9 1489.4,1513.9 1490.5,1519.0 1491.6,1514.9 1492.7,1512.5 1493.8,1515.5 1494.9,1517.7 1496.0,1521.8 1497.1,1518.1 1498.2,1519.6 1499.3,1514.5 1500.4,1519.5 1501.5,1512.3 1502.6,1519.8 1503.7,1518.9 1504.8,1522.9 1505.9,1517.9 1507.0,1519.1 1508.1,1517.0 1509.2,1515.7 1510.3,1518.1 1511.4,1520.3 1512.5,1514.6 1513.6,1519.2 1514.7,1522.2 1515.8,1514.7 1516.9,1513.8 1518.0,1515.8 1519.1,1513.7 1520.2,1521.4 1521.3,1518.4 1522.4,1517.0 1523.5,1515.1 1524.6,1521.4 1525.7,1518.2 1526.8,1519.3 1527.9,1519.6 1529.0,1522.8 1530.1,1516.9 1531.2,1520.7 1532.3,1520.3 1533.4,1517.6 1534.5,1520.5 1535.6,1513.6 1536.7,1517.1 1537.8,1519.6 1538.9,1520.3 1540.0,1519.0 1541.1,1519.5 1542.2,1513.3 1543.3,1518.0 1544.4,1518.2 1545.5,1516.8 1546.6,1514.7 1547.7,1516.5 1548.8,1521.6 1549.9,1517.2 1551.0,1516.5 1552.1,1522.4 1553.2,1520.3 1554.3,1518.3 1555.4,1519.8 1556.5,1514.9 1557.6,1516.7 1558.7,1521.5 1559.8,1516.3 1560.9,1517.8 1562.0,1521.3 1563.1,1519.5 1564.2,1517.0 1565.3,1516.5 1566.4,1517.3 1567.5,1519.8 1568.6,1515.8 1569.7,1518.9 1570.8,1520.0 1571.9,1519.4 1573.0,1518.5 1574.1,1514.9 1575.2,1519.9 1576.3,1521.4 1577.4,1520.5 1578.5,1518.1 1579.6,1516.7 1580.7,1516.4 1581.8,1517.2 1582.9,1515.5 1584.0,1514.0 1585.1,1513.2 1586.2,1515.8 1587.3,1517.9 1588.4,1519.8 1589.5,1522.3 1590.6,1519.9 1591.7,1520.0 1592.8,1523.1 1593.9,1518.2 1595.0,1522.6 1596.1,1521.7 1597.2,1518.7 1598.3,1519.8 1599.4,1518.9 1600.5,1518.3 1601.6,1520.0 1602.7,1518.4 1603.8,1519.1 1604.9,1518.4 1606.0,1517.9 1607.1,1516.2 1608.2,1520.3 1609.3,1519.1 1610.4,1519.3 1611.5,1516.0 1612.6,1519.5 1613.7,1519.3 1614.8,1522.0 1615.9,1518.4 1617.0,1515.4 1618.1,1519.0 1619.2,1514.6 1620.3,1518.6 1621.4,1520.9 1622.5,1518.2 1623.6,1515.2 1624.7,1518.9 1625.8,1516.3 1626.9,1517.2 1628.0,1515.5 1629.1,1518.4 1630.2,1519.7 1631.3,1521.2 1632.4,1520.8 1633.5,1519.1 1634.6,1519.9 1635.7,1520.4 1636.8,1517.8 1637.9,1516.8 1639.0,1517.0 1640.1,1514.8 1641.2,1518.3 1642.3,1520.8 1643.4,1515.8 1644.5,1518.0 1645.6,1517.9 1646.7,1515.1 1647.8,1520.1 1648.9,1517.8 1650.0,1519.3 1651.1,1517.8 1652.2,1518.0 1653.3,1517.4 1654.4,1521.0 1655.5,1518.0 1656.6,1516.3 1657.7,1517.3 1658.8,1517.1 1659.9,1517.1 1661.0,1515.5 1662.1,1515.3 1663.2,1512.6 1664.3,1513.8 1665.4,1512.2 1666.5,1515.6 1667.6,1517.3 1668.7,1519.3 1669.8,1514.0 1670.9,1515.4 1672.0,1519.9 1673.1,1516.5 1674.2,1518.2 1675.3,1518.2 1676.4,1515.9 1677.5,1518.1 1678.6,1522.2 1679.7,1520.8 1680.8,1523.2 1681.9,1520.2 1683.0,1517.9 1684.1,1520.2 1685.2,1518.7 1686.3,1519.3 1687.4,1521.0 1688.5,1522.7 1689.6,1518.4 1690.7,1516.5 1691.8,1518.4 1692.9,1517.7 1694.0,1516.8 1695.1,1516.0 1696.2,1516.1 1697.3,1516.2 1698.4,1514.7 1699.5,1518.7 1700.6,1518.5 1701.7,1518.4 1702.8,1514.3 1703.9,1518.4 1705.0,1521.6 1706.1,1520.7 1707.2,1517.9 1708.3,1519.2 1709.4,1520.8 1710.5,1518.6 1711.6,1520.3 1712.7,1515.7 1713.8,1518.9 1714.9,1519.7 1716.0,1514.5 1717.1,1519.1 1718.2,1516.2 1719.3,1516.4 1720.4,1516.2 1721.5,1516.9 1722.6,1518.4 1723.7,1516.6 1724.8,1515.9 1725.9,1517.9 1727.0,1518.1 1728.1,1518.3 1729.2,1513.7 1730.3,1520.7 1731.4,1520.1 1732.5,1518.6 1733.6,1519.9 1734.7,1523.0 1735.8,1518.1 1736.9,1519.1 1738.0,1520.7 1739.1,1517.7 1740.2,1520.1 1741.3,1516.5 1742.4,1519.2 1743.5,1516.1 1744.6,1513.9 1745.7,1516.0 1746.8,1516.0 1747.9,1514.7 1749.0,1517.1 1750.1,1515.5 1751.2,1519.8 1752.3,1515.8 1753.4,1517.2 1754.5,1517.4 1755.6,1515.0 1756.7,1518.6 1757.8,1519.6 1758.9,1518.1 1760.0,1520.0 1761.1,1519.5 1762.2,1515.8 1763.3,1521.1 1764.4,1514.3 1765.5,1520.1 1766.6,1517.9 1767.7,1516.4 1768.8,1518.4 1769.9,1517.0 1771.0,1520.2 1772.1,1518.8 1773.2,1516.1 1774.3,1515.8 1775.4,1517.4 1776.5,1522.1 1777.6,1518.8 1778.7,1521.0 1779.8,1522.0 1780.9,1520.5 1782.0,1519.6 1783.1,1521.2 1784.2,1522.0 1785.3,1521.8 1786.4,1516.8 1787.5,1517.9 1788.6,1518.4 1789.7,1522.4 1790.8,1520.3 1791.9,1517.1 1793.0,1519.3 1794.1,1520.5 1795.2,1519.8 1796.3,1520.2 1797.4,1519.6 1798.5,1519.9 1799.6,1517.0 1800.7,1520.9 1801.8,1519.7 1802.9,1520.2 1804.0,1520.5 1805.1,1521.0 1806.2,1521.5 1807.3,1514.3 1808.4,1523.0 1809.5,1514.8 1810.6,1517.2 1811.7,1521.8 1812.8,1519.9 1813.9,1521.0 1815.0,1521.5 1816.1,1517.8 1817.2,1521.7 1818.3,1517.7 1819.4,1517.3 1820.5,1517.7 1821.6,1516.4 1822.7,1517.0 1823.8,1515.9 1824.9,1517.5 1826.0,1516.0 1827.1,1515.6 1828.2,1519.1 1829.3,1517.9 1830.4,1515.3 1831.5,1522.2 1832.6,1516.7 1833.7,1518.7 1834.8,1521.1 1835.9,1517.2 1837.0,1513.3 1838.1,1521.2 1839.2,1524.2 1840.3,1520.3 1841.4,1515.8 1842.5,1521.4 1843.6,1519.7 1844.7,1520.7 1845.8,1518.4 1846.9,1517.0 1848.0,1518.7 1849.1,1519.1 1850.2,1520.4 1851.3,1516.4 1852.4,1516.1 1853.5,1518.0 1854.6,1518.9 1855.7,1518.2 1856.8,1515.6 1857.9,1516.3 1859.0,1516.7 1860.1,1515.4 1861.2,1512.0 1862.3,1516.0 1863.4,1515.8 1864.5,1515.3 1865.6,1516.4 1866.7,1516.0 1867.8,1515.6 1868.9,1517.9 1870.0,1513.6 1871.1,1515.9 1872.2,1514.1 1873.3,1513.2 1874.4,1517.9 1875.5,1516.8 1876.6,1517.5 1877.7,1519.2 1878.8,1519.5 1879.9,1516.5 1881.0,1513.3 1882.1,1517.7 1883.2,1516.4 1884.3,1516.4 1885.4,1520.8 1886.5,1516.3 1887.6,1516.0 1888.7,1517.9 1889.8,1516.1 1890.9,1514.4 1892.0,1519.9 1893.1,1513.7 1894.2,1517.1 1895.3,1517.0 1896.4,1519.4 1897.5,1514.8 1898.6,1517.3 1899.7,1516.7 1900.8,1514.5 1901.9,1517.3 1903.0,1516.8 1904.1,1518.2 1905.2,1516.7 1906.3,1516.9 1907.4,1520.0 1908.5,1521.4 1909.6,1519.5 1910.7,1518.8 1911.8,1515.5 1912.9,1516.8 1914.0,1520.3 1915.1,1520.3 1916.2,1518.8 1917.3,1521.2 1918.4,1517.1 1919.5,1516.9 1920.6,1516.6 1921.7,1520.0 1922.8,1518.3 1923.9,1518.4 1925.0,1519.1 1926.1,1518.9 1927.2,1514.3 1928.3,1517.9 1929.4,1519.9 1930.5,1517.8 1931.6,1517.8 1932.7,1522.3 1933.8,1515.9 1934.9,1517.5 1936.0,1517.0 1937.1,1518.3 1938.2,1516.3 1939.3,1517.5 1940.4,1516.7 1941.5,1519.4 1942.6,1518.7 1943.7,1520.1 1944.8,1518.2 1945.9,1515.7 1947.0,1517.0 1948.1,1517.0 1949.2,1515.9 1950.3,1519.6 1951.4,1515.7 1952.5,1517.1 1953.6,1517.6 1954.7,1513.9 1955.8,1518.6 1956.9,1522.5 1958.0,1520.7 1959.1,1518.9 1960.2,1516.6 1961.3,1519.0 1962.4,1523.1 1963.5,1519.1 1964.6,1518.4 1965.7,1517.0 1966.8,1519.4 1967.9,1518.7 1969.0,1521.1 1970.1,1518.6 1971.2,1520.7 1972.3,1517.6 1973.4,1522.3 1974.5,1522.5 1975.6,1517.7 1976.7,1519.1 1977.8,1522.1 1978.9,1520.0 1980.0,1521.1 1981.1,1519.5 1982.2,1516.9 1983.3,1519.0 1984.4,1521.3 1985.5,1523.6 1986.6,1522.0 1987.7,1519.9 1988.8,1520.8 1989.9,1520.8 1991.0,1521.9 1992.1,1520.0 1993.2,1522.5 1994.3,1518.9 1995.4,1519.7 1996.5,1519.6 1997.6,1517.6 1998.7,1518.2 1999.8,1518.4 2000.9,1519.0 2002.0,1516.7 2003.1,1518.1 2004.2,1517.0 2005.3,1516.0 2006.4,1521.2 2007.5,1516.4 2008.6,1519.5 2009.7,1516.5 2010.8,1517.4 2011.9,1516.0 2013.0,1516.0 2014.1,1516.7 2015.2,1518.2 2016.3,1514.6 2017.4,1518.8 2018.5,1517.2 2019.6,1515.6 2020.7,1515.6 2021.8,1516.3 2022.9,1518.6 2024.0,1519.4 2025.1,1517.9 2026.2,1515.9 2027.3,1517.3 2028.4,1520.6 2029.5,1517.4 2030.6,1517.0 2031.7,1516.9 2032.8,1523.3 2033.9,1520.0 2035.0,1517.8 2036.1,1520.8 2037.2,1516.5 2038.3,1519.7 2039.4,1517.3 2040.5,1513.6 2041.6,1518.5 2042.7,1514.8 2043.8,1521.1 2044.9,1519.3 2046.0,1518.4 2047.1,1517.1 2048.2,1517.9 2049.3,1518.1 2050.4,1518.3 2051.5,1519.9 2052.6,1519.7 2053.7,1518.4 2054.8,1516.6 2055.9,1515.0 2057.0,1515.3 2058.1,1521.7 2059.2,1519.0 2060.3,1520.1 2061.4,1516.4 2062.5,1518.1 2063.6,1518.2 2064.7,1519.0 2065.8,1516.0 2066.9,1518.2 2068.0,1514.4 2069.1,1517.4 2070.2,1519.4 2071.3,1517.7 2072.4,1518.0 2073.5,1517.5 2074.6,1520.7 2075.7,1519.0 2076.8,1516.2 2077.9,1518.5 2079.0,1520.4 2080.1,1519.0 2081.2,1517.7 2082.3,1516.7 2083.4,1519.4 2084.5,1518.4 2085.6,1519.7 2086.7,1518.7 2087.8,1518.5 2088.9,1517.7 2090.0,1519.9 2091.1,1524.0 2092.2,1519.5 2093.3,1518.1 2094.4,1520.0 2095.5,1520.6 2096.6,1517.2 2097.7,1521.0 2098.8,1521.2 2099.9,1516.7 2101.0,1520.5 2102.1,1517.5 2103.2,1516.6 2104.3,1520.4 2105.4,1522.4 2106.5,1519.4 2107.6,1516.6 2108.7,1520.5 2109.8,1518.8 2110.9,1519.1 2112.0,1519.4 2113.1,1514.6 2114.2,1518.3 2115.3,1517.4 2116.4,1515.1 2117.5,1514.6 2118.6,1513.2 2119.7,1515.5 2120.8,1516.2 2121.9,1517.0 2123.0,1520.5 2124.1,1516.9 2125.2,1519.0 2126.3,1517.2 2127.4,1517.8 2128.5,1517.2 2129.6,1519.8 2130.7,1520.7 2131.8,1519.5 2132.9,1520.4 2134.0,1516.9 2135.1,1519.6 2136.2,1519.5 2137.3,1515.2 2138.4,1518.7 2139.5,1521.5 2140.6,1523.3 2141.7,1518.8 2142.8,1516.8 2143.9,1521.4 2145.0,1519.9 2146.1,1520.3 2147.2,1519.1 2148.3,1522.7 2149.4,1519.9 2150.5,1522.8 2151.6,1516.7 2152.7,1517.5 2153.8,1519.8 2154.9,1519.3 2156.0,1518.1 2157.1,1516.9 2158.2,1521.7 2159.3,1519.6 2160.4,1520.1 2161.5,1517.9 2162.6,1517.3 2163.7,1515.6 2164.8,1520.7 2165.9,1519.6 2167.0,1520.4 2168.1,1522.2 2169.2,1519.7 2170.3,1519.9 2171.4,1520.2 2172.5,1522.2 2173.6,1517.9 2174.7,1518.8 2175.8,1519.1 2176.9,1521.3 2178.0,1514.3 2179.1,1517.8 2180.2,1517.4 2181.3,1518.6 2182.4,1516.7 2183.5,1519.0 2184.6,1517.3 2185.7,1516.3 2186.8,1519.4 2187.9,1520.2 2189.0,1518.5 2190.1,1518.3 2191.2,1516.1 2192.3,1516.7 2193.4,1517.8 2194.5,1516.1 2195.6,1518.8 2196.7,1517.3 2197.8,1518.7 2198.9,1517.7 2200.0,1520.7 2201.1,1520.6 2202.2,1520.4 2203.3,1518.2 2204.4,1519.7 2205.5,1518.5 2206.6,1516.9 2207.7,1519.6 2208.8,1518.2 2209.9,1517.4 2211.0,1516.2 2212.1,1515.2 2213.2,1515.1 2214.3,1516.6 2215.4,1517.2 2216.5,1519.7 2217.6,1518.3 2218.7,1520.8 2219.8,1520.0 2220.9,1520.1 2222.0,1517.7 2223.1,1518.8 2224.2,1517.6 2225.3,1519.3 2226.4,1517.5 2227.5,1523.0 2228.6,1520.0 2229.7,1521.4 2230.8,1521.1 2231.9,1516.4 2233.0,1521.4 2234.1,1519.9 2235.2,1521.6 2236.3,1518.4 2237.4,1520.6 2238.5,1521.8 2239.6,1518.6 2240.7,1518.3 2241.8,1523.8 2242.9,1519.5 2244.0,1525.7 2245.1,1519.1 2246.2,1518.2 2247.3,1521.9 2248.4,1520.6 2249.5,1519.3 2250.6,1521.4 2251.7,1516.6 2252.8,1523.5 2253.9,1518.7 2255.0,1517.0 2256.1,1516.1 2257.2,1519.3 2258.3,1522.5 2259.4,1518.2 2260.5,1519.3 2261.6,1521.2 2262.7,1517.5 2263.8,1520.5 2264.9,1516.1 2266.0,1517.6 2267.1,1517.2 2268.2,1515.2 2269.3,1523.0 2270.4,1518.0 2271.5,1518.4 2272.6,1517.7 2273.7,1519.1 2274.8,1520.4 2275.9,1520.6 2277.0,1520.2 2278.1,1520.0 2279.2,1521.3 2280.3,1516.0 2281.4,1519.1 2282.5,1520.4 2283.6,1516.4 2284.7,1517.4 2285.8,1513.6 2286.9,1520.3 2288.0,1517.4 2289.1,1518.1 2290.2,1519.7 2291.3,1516.1 2292.4,1519.5 2293.5,1518.9 2294.6,1519.1 2295.7,1521.0 2296.8,1519.2 2297.9,1522.9 2299.0,1520.3 2300.1,1521.4 2301.2,1520.9 2302.3,1515.5 2303.4,1524.9 2304.5,1519.4 2305.6,1519.4 2306.7,1520.0 2307.8,1520.5 2308.9,1522.9 2310.0,1519.5 2311.1,1522.0 2312.2,1516.0 2313.3,1519.8 2314.4,1520.3 2315.5,1523.2 2316.6,1525.8 2317.7,1520.2 2318.8,1518.2 2319.9,1522.3 2321.0,1520.0 2322.1,1518.0 2323.2,1517.4 2324.3,1518.0 2325.4,1520.4 2326.5,1520.7 2327.6,1520.6 2328.7,1519.9 2329.8,1519.9 2330.9,1518.3 2332.0,1523.7 2333.1,1521.2 2334.2,1521.3 2335.3,1522.9 2336.4,1520.3 2337.5,1517.8 2338.6,1519.6 2339.7,1519.6 2340.8,1519.1 2341.9,1517.0 2343.0,1514.2 2344.1,1518.5 2345.2,1518.8 2346.3,1517.7 2347.4,1521.0 2348.5,1516.9 2349.6,1519.4 2350.7,1523.7 2351.8,1521.0 2352.9,1517.3" fill="none" stroke="#8e9bff" stroke-width="6.8" stroke-linejoin="round" stroke-linecap="butt"/>
<polyline points="396.0,1475.9 397.1,1472.8 398.2,1479.4 399.3,1476.4 400.4,1476.2 401.5,1475.3 402.6,1480.6 403.7,1476.1 404.8,1480.9 405.9,1478.6 407.0,1480.8 408.1,1480.9 409.2,1483.7 410.3,1484.9 411.4,1481.2 412.5,1487.0 413.6,1486.8 414.7,1488.0 415.8,1489.5 416.9,1482.5 418.0,1490.6 419.1,1482.3 420.2,1484.5 421.3,1486.7 422.4,1488.2 423.5,1486.9 424.6,1486.1 425.7,1486.4 426.8,1482.5 427.9,1485.2 429.0,1491.3 430.1,1480.0 431.2,1485.8 432.3,1486.8 433.4,1485.6 434.5,1488.0 435.6,1489.1 436.7,1488.9 437.8,1489.7 438.9,1487.9 440.0,1492.1 441.1,1489.6 442.2,1488.8 443.3,1496.4 444.4,1490.6 445.5,1491.0 446.6,1488.0 447.7,1493.6 448.8,1490.7 449.9,1491.9 451.0,1495.7 452.1,1495.8 453.2,1493.5 454.3,1497.0 455.4,1497.2 456.5,1496.3 457.6,1494.8 458.7,1498.1 459.8,1493.7 460.9,1498.0 462.0,1497.2 463.1,1494.6 464.2,1495.1 465.3,1503.0 466.4,1493.3 467.5,1498.1 468.6,1497.3 469.7,1499.1 470.8,1498.9 471.9,1500.2 473.0,1499.7 474.1,1498.1 475.2,1495.2 476.3,1497.6 477.4,1499.4 478.5,1499.6 479.6,1501.2 480.7,1498.8 481.8,1497.2 482.9,1499.0 484.0,1501.2 485.1,1503.1 486.2,1503.6 487.3,1503.5 488.4,1499.7 489.5,1501.7 490.6,1503.9 491.7,1503.6 492.8,1504.8 493.9,1500.6 495.0,1504.4 496.1,1497.6 497.2,1502.3 498.3,1503.5 499.4,1502.7 500.5,1505.3 501.6,1503.2 502.7,1503.9 503.8,1505.4 504.9,1502.4 506.0,1507.5 507.1,1503.5 508.2,1506.3 509.3,1505.8 510.4,1504.8 511.5,1506.0 512.6,1506.5 513.7,1504.9 514.8,1510.1 515.9,1503.4 517.0,1505.0 518.1,1506.9 519.2,1505.2 520.3,1506.0 521.4,1500.4 522.5,1502.7 523.6,1503.0 524.7,1505.3 525.8,1501.0 526.9,1502.5 528.0,1506.4 529.1,1503.5 530.2,1503.8 531.3,1503.0 532.4,1505.8 533.5,1500.0 534.6,1502.5 535.7,1503.3 536.8,1504.9 537.9,1504.9 539.0,1500.8 540.1,1505.3 541.2,1503.5 542.3,1510.9 543.4,1504.7 544.5,1507.4 545.6,1504.2 546.7,1504.9 547.8,1503.9 548.9,1507.5 550.0,1508.7 551.1,1503.7 552.2,1507.4 553.3,1508.1 554.4,1509.4 555.5,1505.6 556.6,1509.7 557.7,1504.3 558.8,1507.1 559.9,1505.7 561.0,1506.1 562.1,1509.0 563.2,1507.9 564.3,1512.7 565.4,1506.8 566.5,1505.6 567.6,1509.7 568.7,1508.1 569.8,1507.0 570.9,1510.8 572.0,1511.4 573.1,1505.8 574.2,1508.2 575.3,1511.5 576.4,1507.7 577.5,1512.7 578.6,1509.0 579.7,1510.2 580.8,1509.8 581.9,1507.4 583.0,1509.3 584.1,1508.3 585.2,1508.9 586.3,1512.0 587.4,1511.3 588.5,1509.6 589.6,1510.8 590.7,1513.5 591.8,1510.7 592.9,1510.2 594.0,1512.8 595.1,1510.4 596.2,1509.2 597.3,1515.6 598.4,1509.6 599.5,1512.1 600.6,1512.6 601.7,1511.1 602.8,1515.5 603.9,1515.7 605.0,1512.8 606.1,1509.0 607.2,1513.1 608.3,1508.9 609.4,1513.8 610.5,1514.5 611.6,1513.4 612.7,1515.4 613.8,1513.2 614.9,1511.0 616.0,1512.0 617.1,1515.1 618.2,1508.3 619.3,1513.1 620.4,1509.7 621.5,1516.6 622.6,1508.4 623.7,1506.3 624.8,1512.3 625.9,1511.7 627.0,1508.1 628.1,1509.0 629.2,1506.5 630.3,1509.0 631.4,1511.4 632.5,1510.7 633.6,1510.4 634.7,1509.8 635.8,1513.9 636.9,1515.9 638.0,1515.6 639.1,1510.3 640.2,1513.8 641.3,1511.9 642.4,1513.0 643.5,1514.5 644.6,1519.2 645.7,1514.1 646.8,1513.4 647.9,1512.3 649.0,1514.5 650.1,1510.0 651.2,1514.9 652.3,1515.3 653.4,1511.6 654.5,1516.9 655.6,1518.3 656.7,1511.9 657.8,1515.1 658.9,1512.3 660.0,1511.7 661.1,1514.8 662.2,1513.8 663.3,1510.5 664.4,1510.3 665.5,1514.2 666.6,1511.2 667.7,1511.9 668.8,1514.5 669.9,1514.6 671.0,1516.8 672.1,1520.5 673.2,1514.0 674.3,1519.9 675.4,1513.9 676.5,1516.8 677.6,1518.7 678.7,1521.1 679.8,1512.2 680.9,1518.9 682.0,1514.7 683.1,1514.9 684.2,1515.5 685.3,1518.1 686.4,1519.1 687.5,1514.9 688.6,1512.9 689.7,1512.6 690.8,1509.8 691.9,1511.4 693.0,1517.1 694.1,1511.4 695.2,1512.6 696.3,1514.0 697.4,1513.8 698.5,1513.3 699.6,1512.8 700.7,1513.3 701.8,1517.2 702.9,1515.3 704.0,1513.8 705.1,1511.7 706.2,1513.2 707.3,1513.4 708.4,1510.9 709.5,1510.3 710.6,1513.2 711.7,1511.1 712.8,1511.1 713.9,1512.6 715.0,1512.5 716.1,1510.6 717.2,1516.0 718.3,1513.2 719.4,1512.2 720.5,1514.1 721.6,1515.4 722.7,1512.5 723.8,1507.1 724.9,1509.8 726.0,1512.2 727.1,1512.7 728.2,1515.4 729.3,1513.8 730.4,1512.4 731.5,1515.0 732.6,1512.3 733.7,1516.0 734.8,1511.1 735.9,1517.8 737.0,1514.4 738.1,1516.7 739.2,1514.4 740.3,1511.9 741.4,1514.2 742.5,1514.5 743.6,1514.6 744.7,1514.1 745.8,1514.5 746.9,1512.3 748.0,1509.9 749.1,1512.4 750.2,1510.4 751.3,1512.9 752.4,1512.7 753.5,1513.5 754.6,1512.4 755.7,1514.9 756.8,1514.9 757.9,1515.3 759.0,1514.7 760.1,1515.6 761.2,1516.1 762.3,1514.5 763.4,1510.0 764.5,1513.4 765.6,1518.3 766.7,1510.7 767.8,1515.6 768.9,1514.2 770.0,1518.3 771.1,1515.8 772.2,1514.1 773.3,1514.3 774.4,1510.5 775.5,1517.7 776.6,1514.8 777.7,1511.3 778.8,1512.0 779.9,1514.3 781.0,1511.8 782.1,1511.6 783.2,1515.3 784.3,1513.4 785.4,1514.7 786.5,1515.9 787.6,1512.4 788.7,1517.3 789.8,1516.0 790.9,1511.9 792.0,1511.3 793.1,1514.0 794.2,1514.1 795.3,1511.6 796.4,1512.1 797.5,1511.7 798.6,1510.9 799.7,1511.8 800.8,1513.6 801.9,1513.7 803.0,1507.4 804.1,1508.2 805.2,1506.2 806.3,1506.6 807.4,1505.1 808.5,1508.3 809.6,1506.8 810.7,1502.9 811.8,1506.8 812.9,1501.9 814.0,1503.4 815.1,1504.0 816.2,1501.4 817.3,1500.0 818.4,1502.0 819.5,1502.6 820.6,1499.9 821.7,1503.9 822.8,1500.9 823.9,1497.6 825.0,1500.3 826.1,1497.5 827.2,1499.0 828.3,1499.2 829.4,1498.5 830.5,1500.8 831.6,1496.9 832.7,1497.3 833.8,1494.8 834.9,1491.3 836.0,1493.3 837.1,1494.7 838.2,1487.4 839.3,1494.8 840.4,1495.0 841.5,1496.9 842.6,1495.0 843.7,1497.1 844.8,1494.3 845.9,1493.3 847.0,1496.2 848.1,1492.1 849.2,1498.8 850.3,1492.1 851.4,1499.5 852.5,1493.9 853.6,1494.0 854.7,1492.2 855.8,1494.3 856.9,1494.7 858.0,1489.5 859.1,1488.0 860.2,1492.3 861.3,1487.3 862.4,1492.9 863.5,1493.9 864.6,1488.4 865.7,1499.3 866.8,1489.4 867.9,1486.2 869.0,1495.2 870.1,1491.1 871.2,1488.2 872.3,1489.8 873.4,1494.5 874.5,1495.3 875.6,1490.2 876.7,1486.8 877.8,1488.3 878.9,1492.0 880.0,1489.5 881.1,1489.9 882.2,1489.5 883.3,1493.0 884.4,1486.2 885.5,1486.5 886.6,1479.7 887.7,1486.1 888.8,1480.7 889.9,1484.0 891.0,1486.8 892.1,1484.4 893.2,1485.8 894.3,1478.1 895.4,1483.9 896.5,1485.4 897.6,1484.2 898.7,1484.9 899.8,1480.2 900.9,1484.3 902.0,1479.0 903.1,1479.2 904.2,1483.1 905.3,1484.3 906.4,1481.8 907.5,1474.6 908.6,1477.7 909.7,1477.6 910.8,1480.2 911.9,1486.5 913.0,1485.2 914.1,1476.4 915.2,1482.3 916.3,1481.6 917.4,1477.3 918.5,1477.5 919.6,1482.4 920.7,1475.9 921.8,1474.4 922.9,1471.8 924.0,1458.4 925.1,1471.0 926.2,1472.7 927.3,1476.0 928.4,1476.1 929.5,1461.2 930.6,1464.4 931.7,1461.4 932.8,1464.1 933.9,1457.5 935.0,1462.3 936.1,1462.7 937.2,1461.4 938.3,1458.9 939.4,1460.1 940.5,1453.2 941.6,1450.9 942.7,1451.1 943.8,1448.9 944.9,1450.8 946.0,1452.7 947.1,1446.5 948.2,1438.3 949.3,1437.6 950.4,1446.1 951.5,1446.0 952.6,1444.7 953.7,1429.1 954.8,1443.7 955.9,1451.5 957.0,1437.1 958.1,1434.5 959.2,1439.2 960.3,1428.9 961.4,1425.9 962.5,1435.5 963.6,1424.2 964.7,1431.4 965.8,1425.1 966.9,1425.9 968.0,1422.7 969.1,1429.3 970.2,1426.1 971.3,1424.9 972.4,1422.6 973.5,1420.9 974.6,1428.4 975.7,1426.0 976.8,1425.8 977.9,1414.1 979.0,1421.5 980.1,1409.9 981.2,1425.8 982.3,1426.1 983.4,1423.0 984.5,1417.0 985.6,1416.1 986.7,1410.7 987.8,1405.5 988.9,1412.7 990.0,1411.6 991.1,1401.8 992.2,1394.5 993.3,1397.3 994.4,1396.3 995.5,1393.4 996.6,1385.7 997.7,1386.6 998.8,1394.0 999.9,1403.2 1001.0,1383.6 1002.1,1391.4 1003.2,1387.3 1004.3,1389.7 1005.4,1387.0 1006.5,1391.8 1007.6,1384.9 1008.7,1380.2 1009.8,1384.7 1010.9,1383.7 1012.0,1387.3 1013.1,1385.2 1014.2,1384.6 1015.3,1380.5 1016.4,1378.4 1017.5,1376.9 1018.6,1378.8 1019.7,1383.8 1020.8,1384.8 1021.9,1372.0 1023.0,1373.9 1024.1,1374.4 1025.2,1384.8 1026.3,1368.6 1027.4,1373.6 1028.5,1358.6 1029.6,1373.6 1030.7,1364.9 1031.8,1369.2 1032.9,1373.3 1034.0,1358.4 1035.1,1351.4 1036.2,1366.4 1037.3,1359.2 1038.4,1365.3 1039.5,1370.6 1040.6,1355.5 1041.7,1353.4 1042.8,1355.9 1043.9,1350.4 1045.0,1355.4 1046.1,1366.0 1047.2,1353.4 1048.3,1348.0 1049.4,1358.3 1050.5,1357.8 1051.6,1340.3 1052.7,1352.3 1053.8,1347.2 1054.9,1351.4 1056.0,1342.8 1057.1,1343.7 1058.2,1338.5 1059.3,1358.6 1060.4,1348.1 1061.5,1349.2 1062.6,1349.3 1063.7,1345.7 1064.8,1353.1 1065.9,1347.9 1067.0,1360.0 1068.1,1347.8 1069.2,1350.5 1070.3,1329.8 1071.4,1332.7 1072.5,1331.5 1073.6,1323.4 1074.7,1328.3 1075.8,1327.9 1076.9,1323.4 1078.0,1335.7 1079.1,1326.8 1080.2,1331.3 1081.3,1320.8 1082.4,1329.2 1083.5,1325.8 1084.6,1326.0 1085.7,1337.7 1086.8,1333.3 1087.9,1323.7 1089.0,1323.7 1090.1,1334.0 1091.2,1323.0 1092.3,1325.7 1093.4,1335.1 1094.5,1333.4 1095.6,1324.7 1096.7,1323.8 1097.8,1325.5 1098.9,1322.8 1100.0,1324.8 1101.1,1333.4 1102.2,1328.9 1103.3,1328.9 1104.4,1327.1 1105.5,1335.2 1106.6,1326.2 1107.7,1332.4 1108.8,1321.2 1109.9,1325.0 1111.0,1327.5 1112.1,1319.5 1113.2,1323.3 1114.3,1320.4 1115.4,1315.1 1116.5,1321.4 1117.6,1318.2 1118.7,1313.5 1119.8,1317.6 1120.9,1322.7 1122.0,1310.9 1123.1,1309.9 1124.2,1324.3 1125.3,1311.9 1126.4,1314.5 1127.5,1303.2 1128.6,1315.9 1129.7,1319.2 1130.8,1308.2 1131.9,1320.6 1133.0,1310.0 1134.1,1316.2 1135.2,1326.8 1136.3,1329.3 1137.4,1316.7 1138.5,1324.7 1139.6,1309.8 1140.7,1318.4 1141.8,1299.4 1142.9,1311.5 1144.0,1305.3 1145.1,1299.3 1146.2,1304.2 1147.3,1303.1 1148.4,1304.2 1149.5,1309.5 1150.6,1299.6 1151.7,1299.7 1152.8,1304.5 1153.9,1301.2 1155.0,1304.9 1156.1,1297.5 1157.2,1311.8 1158.3,1300.2 1159.4,1313.3 1160.5,1312.9 1161.6,1301.9 1162.7,1310.5 1163.8,1314.1 1164.9,1301.8 1166.0,1305.1 1167.1,1294.7 1168.2,1307.3 1169.3,1300.7 1170.4,1309.8 1171.5,1305.7 1172.6,1299.6 1173.7,1294.3 1174.8,1307.4 1175.9,1310.1 1177.0,1301.0 1178.1,1310.4 1179.2,1307.4 1180.3,1303.1 1181.4,1300.2 1182.5,1305.2 1183.6,1313.0 1184.7,1300.3 1185.8,1306.4 1186.9,1306.8 1188.0,1302.9 1189.1,1301.3 1190.2,1310.8 1191.3,1315.1 1192.4,1305.6 1193.5,1298.9 1194.6,1306.3 1195.7,1303.0 1196.8,1306.1 1197.9,1295.7 1199.0,1307.6 1200.1,1297.5 1201.2,1307.6 1202.3,1298.7 1203.4,1294.9 1204.5,1296.3 1205.6,1301.4 1206.7,1301.5 1207.8,1305.3 1208.9,1290.6 1210.0,1296.0 1211.1,1300.5 1212.2,1289.1 1213.3,1302.2 1214.4,1309.8 1215.5,1303.5 1216.6,1309.2 1217.7,1306.7 1218.8,1311.3 1219.9,1305.4 1221.0,1320.1 1222.1,1319.4 1223.2,1315.8 1224.3,1326.5 1225.4,1317.7 1226.5,1313.6 1227.6,1300.9 1228.7,1307.5 1229.8,1318.7 1230.9,1324.7 1232.0,1311.2 1233.1,1320.6 1234.2,1310.7 1235.3,1314.2 1236.4,1312.7 1237.5,1315.3 1238.6,1315.5 1239.7,1321.6 1240.8,1312.9 1241.9,1332.3 1243.0,1327.0 1244.1,1311.1 1245.2,1314.7 1246.3,1339.8 1247.4,1319.5 1248.5,1331.1 1249.6,1321.8 1250.7,1349.0 1251.8,1319.6 1252.9,1341.3 1254.0,1333.7 1255.1,1328.8 1256.2,1329.6 1257.3,1326.3 1258.4,1319.7 1259.5,1337.8 1260.6,1347.9 1261.7,1334.9 1262.8,1340.9 1263.9,1344.7 1265.0,1330.6 1266.1,1337.5 1267.2,1331.3 1268.3,1346.2 1269.4,1336.4 1270.5,1353.1 1271.6,1350.7 1272.7,1340.1 1273.8,1349.8 1274.9,1349.4 1276.0,1345.7 1277.1,1349.7 1278.2,1352.6 1279.3,1341.9 1280.4,1361.8 1281.5,1351.2 1282.6,1350.5 1283.7,1359.4 1284.8,1348.9 1285.9,1364.4 1287.0,1360.7 1288.1,1353.3 1289.2,1361.7 1290.3,1363.0 1291.4,1351.8 1292.5,1344.1 1293.6,1347.6 1294.7,1354.8 1295.8,1366.1 1296.9,1367.2 1298.0,1365.1 1299.1,1379.5 1300.2,1367.8 1301.3,1374.6 1302.4,1364.7 1303.5,1368.6 1304.6,1373.8 1305.7,1380.5 1306.8,1361.8 1307.9,1384.2 1309.0,1371.4 1310.1,1385.0 1311.2,1379.3 1312.3,1373.9 1313.4,1378.5 1314.5,1397.1 1315.6,1386.2 1316.7,1386.3 1317.8,1382.4 1318.9,1386.5 1320.0,1401.5 1321.1,1404.3 1322.2,1408.2 1323.3,1401.0 1324.4,1396.8 1325.5,1394.3 1326.6,1409.9 1327.7,1401.3 1328.8,1398.7 1329.9,1406.8 1331.0,1410.7 1332.1,1420.0 1333.2,1415.5 1334.3,1425.9 1335.4,1425.1 1336.5,1423.3 1337.6,1411.4 1338.7,1413.4 1339.8,1426.6 1340.9,1431.2 1342.0,1437.9 1343.1,1421.1 1344.2,1434.8 1345.3,1435.3 1346.4,1438.2 1347.5,1434.8 1348.6,1433.5 1349.7,1434.9 1350.8,1437.9 1351.9,1442.7 1353.0,1433.9 1354.1,1436.8 1355.2,1436.7 1356.3,1442.4 1357.4,1430.8 1358.5,1451.6 1359.6,1446.4 1360.7,1441.7 1361.8,1446.5 1362.9,1446.7 1364.0,1446.1 1365.1,1449.1 1366.2,1462.5 1367.3,1464.2 1368.4,1441.0 1369.5,1451.5 1370.6,1452.3 1371.7,1445.6 1372.8,1450.3 1373.9,1451.1 1375.0,1453.4 1376.1,1447.6 1377.2,1450.9 1378.3,1461.9 1379.4,1462.4 1380.5,1464.4 1381.6,1465.8 1382.7,1459.7 1383.8,1468.7 1384.9,1466.1 1386.0,1473.3 1387.1,1469.8 1388.2,1475.1 1389.3,1470.5 1390.4,1481.1 1391.5,1475.8 1392.6,1478.4 1393.7,1474.0 1394.8,1483.9 1395.9,1482.3 1397.0,1485.1 1398.1,1475.1 1399.2,1481.4 1400.3,1478.8 1401.4,1478.0 1402.5,1481.1 1403.6,1477.9 1404.7,1484.9 1405.8,1475.7 1406.9,1477.5 1408.0,1478.4 1409.1,1485.1 1410.2,1479.4 1411.3,1477.5 1412.4,1486.2 1413.5,1490.5 1414.6,1484.2 1415.7,1488.9 1416.8,1486.7 1417.9,1490.2 1419.0,1491.7 1420.1,1483.4 1421.2,1497.6 1422.3,1491.1 1423.4,1495.8 1424.5,1495.9 1425.6,1489.2 1426.7,1499.5 1427.8,1492.5 1428.9,1491.0 1430.0,1496.9 1431.1,1503.7 1432.2,1501.8 1433.3,1488.2 1434.4,1496.0 1435.5,1498.3 1436.6,1496.6 1437.7,1495.5 1438.8,1497.0 1439.9,1495.6 1441.0,1505.1 1442.1,1500.6 1443.2,1496.5 1444.3,1501.0 1445.4,1505.7 1446.5,1499.5 1447.6,1504.9 1448.7,1496.9 1449.8,1500.2 1450.9,1510.7 1452.0,1502.4 1453.1,1498.2 1454.2,1508.0 1455.3,1502.8 1456.4,1507.6 1457.5,1504.4 1458.6,1500.0 1459.7,1511.2 1460.8,1505.8 1461.9,1501.3 1463.0,1510.7 1464.1,1507.5 1465.2,1514.9 1466.3,1511.7 1467.4,1509.3 1468.5,1503.4 1469.6,1503.7 1470.7,1508.7 1471.8,1504.7 1472.9,1510.2 1474.0,1513.5 1475.1,1512.2 1476.2,1515.7 1477.3,1514.8 1478.4,1513.9 1479.5,1511.9 1480.6,1511.1 1481.7,1512.6 1482.8,1513.5 1483.9,1517.0 1485.0,1512.3 1486.1,1510.2 1487.2,1509.9 1488.3,1509.8 1489.4,1510.5 1490.5,1519.0 1491.6,1517.1 1492.7,1514.9 1493.8,1516.2 1494.9,1514.1 1496.0,1512.2 1497.1,1511.2 1498.2,1515.3 1499.3,1516.9 1500.4,1518.0 1501.5,1513.4 1502.6,1516.7 1503.7,1512.2 1504.8,1516.2 1505.9,1514.7 1507.0,1516.7 1508.1,1511.5 1509.2,1515.9 1510.3,1515.4 1511.4,1514.5 1512.5,1518.4 1513.6,1517.1 1514.7,1517.6 1515.8,1519.6 1516.9,1513.1 1518.0,1517.5 1519.1,1510.5 1520.2,1514.4 1521.3,1511.5 1522.4,1512.3 1523.5,1515.4 1524.6,1516.8 1525.7,1515.8 1526.8,1516.9 1527.9,1516.7 1529.0,1514.3 1530.1,1516.1 1531.2,1514.1 1532.3,1512.2 1533.4,1517.2 1534.5,1513.8 1535.6,1510.6 1536.7,1511.1 1537.8,1516.0 1538.9,1515.3 1540.0,1515.1 1541.1,1517.0 1542.2,1515.7 1543.3,1515.9 1544.4,1514.4 1545.5,1518.1 1546.6,1520.2 1547.7,1514.7 1548.8,1514.6 1549.9,1517.5 1551.0,1517.3 1552.1,1517.4 1553.2,1514.2 1554.3,1516.0 1555.4,1514.5 1556.5,1516.7 1557.6,1513.6 1558.7,1517.3 1559.8,1513.7 1560.9,1521.5 1562.0,1513.8 1563.1,1517.4 1564.2,1519.9 1565.3,1516.6 1566.4,1518.2 1567.5,1514.4 1568.6,1518.8 1569.7,1519.6 1570.8,1519.5 1571.9,1516.2 1573.0,1520.2 1574.1,1518.0 1575.2,1517.4 1576.3,1515.7 1577.4,1518.6 1578.5,1517.9 1579.6,1515.4 1580.7,1514.7 1581.8,1516.2 1582.9,1512.9 1584.0,1517.9 1585.1,1517.7 1586.2,1518.2 1587.3,1515.2 1588.4,1522.2 1589.5,1517.3 1590.6,1519.6 1591.7,1518.3 1592.8,1519.1 1593.9,1515.5 1595.0,1520.0 1596.1,1516.4 1597.2,1514.3 1598.3,1517.2 1599.4,1520.6 1600.5,1519.2 1601.6,1518.3 1602.7,1515.4 1603.8,1519.9 1604.9,1518.1 1606.0,1515.7 1607.1,1518.5 1608.2,1515.8 1609.3,1514.6 1610.4,1516.6 1611.5,1516.6 1612.6,1513.5 1613.7,1519.2 1614.8,1514.3 1615.9,1516.5 1617.0,1514.6 1618.1,1514.5 1619.2,1515.2 1620.3,1514.4 1621.4,1515.7 1622.5,1516.7 1623.6,1513.6 1624.7,1517.3 1625.8,1517.6 1626.9,1515.7 1628.0,1517.5 1629.1,1517.4 1630.2,1518.3 1631.3,1516.9 1632.4,1515.7 1633.5,1515.3 1634.6,1516.1 1635.7,1516.4 1636.8,1518.1 1637.9,1515.3 1639.0,1515.7 1640.1,1516.0 1641.2,1519.7 1642.3,1522.2 1643.4,1514.5 1644.5,1513.6 1645.6,1513.0 1646.7,1515.7 1647.8,1515.9 1648.9,1515.7 1650.0,1514.5 1651.1,1515.1 1652.2,1515.6 1653.3,1520.2 1654.4,1514.6 1655.5,1515.8 1656.6,1513.5 1657.7,1514.6 1658.8,1514.7 1659.9,1519.1 1661.0,1512.3 1662.1,1513.4 1663.2,1512.3 1664.3,1514.7 1665.4,1514.3 1666.5,1512.1 1667.6,1515.0 1668.7,1515.3 1669.8,1515.2 1670.9,1514.8 1672.0,1517.2 1673.1,1516.3 1674.2,1516.4 1675.3,1516.5 1676.4,1515.2 1677.5,1516.1 1678.6,1516.4 1679.7,1515.1 1680.8,1517.8 1681.9,1514.1 1683.0,1517.7 1684.1,1515.3 1685.2,1514.8 1686.3,1516.3 1687.4,1516.0 1688.5,1518.1 1689.6,1514.8 1690.7,1514.7 1691.8,1517.2 1692.9,1520.4 1694.0,1514.8 1695.1,1519.3 1696.2,1521.2 1697.3,1515.7 1698.4,1518.9 1699.5,1516.0 1700.6,1515.0 1701.7,1515.2 1702.8,1515.2 1703.9,1514.0 1705.0,1516.0 1706.1,1515.1 1707.2,1520.4 1708.3,1519.6 1709.4,1517.0 1710.5,1517.2 1711.6,1519.3 1712.7,1522.8 1713.8,1520.8 1714.9,1519.0 1716.0,1520.8 1717.1,1514.0 1718.2,1513.9 1719.3,1517.6 1720.4,1515.0 1721.5,1516.5 1722.6,1515.7 1723.7,1516.3 1724.8,1516.4 1725.9,1514.8 1727.0,1514.6 1728.1,1517.0 1729.2,1515.0 1730.3,1514.6 1731.4,1514.5 1732.5,1513.7 1733.6,1513.2 1734.7,1518.4 1735.8,1513.1 1736.9,1516.2 1738.0,1516.1 1739.1,1516.1 1740.2,1517.6 1741.3,1522.3 1742.4,1520.8 1743.5,1516.9 1744.6,1514.3 1745.7,1517.9 1746.8,1517.0 1747.9,1515.3 1749.0,1518.4 1750.1,1516.0 1751.2,1515.4 1752.3,1519.6 1753.4,1517.8 1754.5,1515.2 1755.6,1518.5 1756.7,1515.8 1757.8,1514.2 1758.9,1514.1 1760.0,1514.4 1761.1,1514.6 1762.2,1513.6 1763.3,1514.6 1764.4,1513.0 1765.5,1513.1 1766.6,1516.9 1767.7,1517.6 1768.8,1516.3 1769.9,1514.4 1771.0,1516.1 1772.1,1513.9 1773.2,1513.9 1774.3,1515.0 1775.4,1517.0 1776.5,1520.0 1777.6,1517.1 1778.7,1514.9 1779.8,1513.8 1780.9,1516.9 1782.0,1517.7 1783.1,1515.2 1784.2,1518.0 1785.3,1518.4 1786.4,1516.2 1787.5,1516.5 1788.6,1514.9 1789.7,1513.8 1790.8,1516.2 1791.9,1516.6 1793.0,1515.2 1794.1,1515.2 1795.2,1517.9 1796.3,1515.8 1797.4,1520.9 1798.5,1517.0 1799.6,1518.2 1800.7,1515.5 1801.8,1515.4 1802.9,1514.7 1804.0,1513.8 1805.1,1518.1 1806.2,1517.1 1807.3,1514.3 1808.4,1515.9 1809.5,1516.0 1810.6,1514.5 1811.7,1516.1 1812.8,1514.4 1813.9,1516.4 1815.0,1517.7 1816.1,1516.0 1817.2,1518.7 1818.3,1517.5 1819.4,1513.2 1820.5,1516.4 1821.6,1515.4 1822.7,1515.0 1823.8,1513.1 1824.9,1517.4 1826.0,1514.1 1827.1,1517.5 1828.2,1517.2 1829.3,1518.3 1830.4,1514.9 1831.5,1517.7 1832.6,1513.6 1833.7,1518.0 1834.8,1515.5 1835.9,1514.5 1837.0,1514.8 1838.1,1516.1 1839.2,1512.8 1840.3,1514.5 1841.4,1513.2 1842.5,1514.3 1843.6,1512.7 1844.7,1514.3 1845.8,1516.0 1846.9,1512.7 1848.0,1514.4 1849.1,1516.7 1850.2,1515.6 1851.3,1517.2 1852.4,1512.6 1853.5,1513.4 1854.6,1515.2 1855.7,1517.1 1856.8,1513.7 1857.9,1516.5 1859.0,1512.7 1860.1,1517.2 1861.2,1512.4 1862.3,1517.4 1863.4,1513.5 1864.5,1514.0 1865.6,1513.2 1866.7,1514.7 1867.8,1519.6 1868.9,1516.5 1870.0,1515.2 1871.1,1514.9 1872.2,1517.5 1873.3,1513.6 1874.4,1517.3 1875.5,1517.3 1876.6,1515.7 1877.7,1516.5 1878.8,1515.6 1879.9,1516.6 1881.0,1515.3 1882.1,1516.6 1883.2,1513.9 1884.3,1515.2 1885.4,1514.5 1886.5,1512.9 1887.6,1512.4 1888.7,1516.5 1889.8,1510.0 1890.9,1509.5 1892.0,1515.9 1893.1,1516.5 1894.2,1516.4 1895.3,1517.9 1896.4,1516.0 1897.5,1516.6 1898.6,1515.1 1899.7,1516.1 1900.8,1518.5 1901.9,1516.0 1903.0,1513.5 1904.1,1513.0 1905.2,1517.3 1906.3,1513.3 1907.4,1514.7 1908.5,1514.5 1909.6,1520.3 1910.7,1515.3 1911.8,1514.9 1912.9,1517.2 1914.0,1516.1 1915.1,1511.9 1916.2,1514.9 1917.3,1511.3 1918.4,1516.4 1919.5,1517.7 1920.6,1516.2 1921.7,1520.1 1922.8,1511.8 1923.9,1519.3 1925.0,1515.7 1926.1,1516.4 1927.2,1514.8 1928.3,1515.8 1929.4,1516.6 1930.5,1513.3 1931.6,1514.8 1932.7,1514.3 1933.8,1514.4 1934.9,1517.5 1936.0,1516.6 1937.1,1518.4 1938.2,1517.0 1939.3,1517.6 1940.4,1521.4 1941.5,1518.8 1942.6,1514.5 1943.7,1514.6 1944.8,1516.6 1945.9,1517.4 1947.0,1514.5 1948.1,1513.4 1949.2,1515.6 1950.3,1518.9 1951.4,1517.0 1952.5,1515.4 1953.6,1515.9 1954.7,1514.6 1955.8,1517.0 1956.9,1512.7 1958.0,1514.7 1959.1,1516.2 1960.2,1514.2 1961.3,1516.4 1962.4,1516.5 1963.5,1518.1 1964.6,1514.8 1965.7,1513.0 1966.8,1512.7 1967.9,1515.5 1969.0,1512.4 1970.1,1518.3 1971.2,1514.7 1972.3,1514.9 1973.4,1515.8 1974.5,1517.5 1975.6,1516.0 1976.7,1517.6 1977.8,1516.3 1978.9,1518.1 1980.0,1519.7 1981.1,1515.4 1982.2,1516.9 1983.3,1513.8 1984.4,1516.7 1985.5,1520.0 1986.6,1518.7 1987.7,1520.6 1988.8,1517.3 1989.9,1515.0 1991.0,1518.8 1992.1,1520.8 1993.2,1516.6 1994.3,1515.1 1995.4,1513.9 1996.5,1516.9 1997.6,1519.1 1998.7,1514.1 1999.8,1515.6 2000.9,1515.1 2002.0,1517.9 2003.1,1515.7 2004.2,1518.9 2005.3,1514.7 2006.4,1516.0 2007.5,1516.3 2008.6,1515.9 2009.7,1516.8 2010.8,1516.7 2011.9,1518.3 2013.0,1516.7 2014.1,1517.1 2015.2,1516.2 2016.3,1518.9 2017.4,1518.4 2018.5,1513.7 2019.6,1518.2 2020.7,1519.1 2021.8,1514.0 2022.9,1515.2 2024.0,1517.1 2025.1,1516.3 2026.2,1515.0 2027.3,1518.5 2028.4,1515.3 2029.5,1516.7 2030.6,1519.1 2031.7,1515.6 2032.8,1518.0 2033.9,1515.0 2035.0,1516.0 2036.1,1517.5 2037.2,1516.4 2038.3,1516.8 2039.4,1517.1 2040.5,1516.4 2041.6,1518.9 2042.7,1521.2 2043.8,1517.3 2044.9,1514.5 2046.0,1517.0 2047.1,1516.7 2048.2,1518.9 2049.3,1517.9 2050.4,1514.2 2051.5,1516.7 2052.6,1513.0 2053.7,1516.7 2054.8,1518.2 2055.9,1513.2 2057.0,1516.4 2058.1,1514.6 2059.2,1514.4 2060.3,1516.1 2061.4,1516.7 2062.5,1515.2 2063.6,1515.0 2064.7,1515.4 2065.8,1517.5 2066.9,1520.6 2068.0,1518.2 2069.1,1512.1 2070.2,1516.7 2071.3,1512.2 2072.4,1518.5 2073.5,1517.4 2074.6,1518.2 2075.7,1518.3 2076.8,1516.6 2077.9,1516.1 2079.0,1519.0 2080.1,1515.9 2081.2,1517.6 2082.3,1514.9 2083.4,1515.0 2084.5,1517.5 2085.6,1515.8 2086.7,1515.5 2087.8,1517.5 2088.9,1511.9 2090.0,1513.8 2091.1,1515.9 2092.2,1518.9 2093.3,1517.7 2094.4,1516.9 2095.5,1514.6 2096.6,1516.5 2097.7,1515.0 2098.8,1512.6 2099.9,1513.6 2101.0,1519.7 2102.1,1516.3 2103.2,1516.5 2104.3,1518.6 2105.4,1519.1 2106.5,1517.8 2107.6,1517.8 2108.7,1516.4 2109.8,1522.4 2110.9,1519.9 2112.0,1518.4 2113.1,1518.1 2114.2,1515.9 2115.3,1519.6 2116.4,1521.8 2117.5,1515.6 2118.6,1516.9 2119.7,1520.2 2120.8,1516.4 2121.9,1514.3 2123.0,1513.0 2124.1,1518.0 2125.2,1516.4 2126.3,1518.7 2127.4,1515.3 2128.5,1519.0 2129.6,1517.2 2130.7,1514.5 2131.8,1518.5 2132.9,1518.0 2134.0,1515.6 2135.1,1519.0 2136.2,1516.9 2137.3,1516.2 2138.4,1516.6 2139.5,1516.3 2140.6,1517.6 2141.7,1516.2 2142.8,1515.3 2143.9,1515.6 2145.0,1516.8 2146.1,1517.0 2147.2,1515.1 2148.3,1516.3 2149.4,1514.8 2150.5,1512.9 2151.6,1516.5 2152.7,1519.5 2153.8,1516.8 2154.9,1516.9 2156.0,1514.9 2157.1,1516.2 2158.2,1519.3 2159.3,1516.2 2160.4,1517.1 2161.5,1516.5 2162.6,1522.0 2163.7,1520.8 2164.8,1520.1 2165.9,1521.5 2167.0,1519.0 2168.1,1518.4 2169.2,1518.8 2170.3,1519.4 2171.4,1520.3 2172.5,1514.9 2173.6,1514.1 2174.7,1519.6 2175.8,1517.7 2176.9,1519.1 2178.0,1519.5 2179.1,1513.9 2180.2,1518.6 2181.3,1517.4 2182.4,1517.1 2183.5,1517.1 2184.6,1524.1 2185.7,1518.2 2186.8,1515.9 2187.9,1519.4 2189.0,1518.4 2190.1,1519.7 2191.2,1516.2 2192.3,1518.1 2193.4,1514.8 2194.5,1518.3 2195.6,1515.9 2196.7,1517.4 2197.8,1515.9 2198.9,1516.0 2200.0,1517.2 2201.1,1516.5 2202.2,1514.8 2203.3,1520.3 2204.4,1516.8 2205.5,1514.9 2206.6,1513.5 2207.7,1516.8 2208.8,1517.9 2209.9,1513.5 2211.0,1516.2 2212.1,1517.7 2213.2,1516.1 2214.3,1516.3 2215.4,1518.7 2216.5,1513.8 2217.6,1512.7 2218.7,1514.3 2219.8,1514.5 2220.9,1517.3 2222.0,1517.4 2223.1,1513.3 2224.2,1514.9 2225.3,1513.7 2226.4,1514.2 2227.5,1517.5 2228.6,1514.0 2229.7,1517.7 2230.8,1516.0 2231.9,1518.4 2233.0,1515.6 2234.1,1514.2 2235.2,1521.3 2236.3,1523.4 2237.4,1521.8 2238.5,1518.6 2239.6,1518.8 2240.7,1518.7 2241.8,1518.3 2242.9,1522.0 2244.0,1518.9 2245.1,1520.6 2246.2,1517.7 2247.3,1519.5 2248.4,1515.6 2249.5,1515.6 2250.6,1515.1 2251.7,1518.5 2252.8,1519.7 2253.9,1515.9 2255.0,1516.8 2256.1,1514.9 2257.2,1514.9 2258.3,1513.2 2259.4,1518.6 2260.5,1514.4 2261.6,1514.0 2262.7,1515.3 2263.8,1515.1 2264.9,1515.4 2266.0,1514.8 2267.1,1518.9 2268.2,1516.5 2269.3,1517.2 2270.4,1516.7 2271.5,1515.5 2272.6,1517.3 2273.7,1516.9 2274.8,1518.5 2275.9,1518.2 2277.0,1516.5 2278.1,1518.8 2279.2,1516.8 2280.3,1519.0 2281.4,1515.7 2282.5,1516.3 2283.6,1515.8 2284.7,1514.3 2285.8,1515.2 2286.9,1513.9 2288.0,1513.9 2289.1,1517.8 2290.2,1515.5 2291.3,1512.8 2292.4,1515.6 2293.5,1513.9 2294.6,1513.0 2295.7,1514.1 2296.8,1518.0 2297.9,1513.2 2299.0,1515.0 2300.1,1514.9 2301.2,1515.8 2302.3,1518.7 2303.4,1516.9 2304.5,1519.2 2305.6,1516.1 2306.7,1519.2 2307.8,1516.9 2308.9,1518.9 2310.0,1517.0 2311.1,1519.9 2312.2,1520.9 2313.3,1516.2 2314.4,1516.3 2315.5,1518.4 2316.6,1517.6 2317.7,1514.4 2318.8,1516.2 2319.9,1518.0 2321.0,1520.4 2322.1,1515.9 2323.2,1515.3 2324.3,1517.8 2325.4,1516.7 2326.5,1515.8 2327.6,1516.3 2328.7,1515.3 2329.8,1517.8 2330.9,1513.1 2332.0,1516.4 2333.1,1517.8 2334.2,1517.3 2335.3,1512.1 2336.4,1516.3 2337.5,1514.7 2338.6,1520.1 2339.7,1519.7 2340.8,1517.5 2341.9,1516.2 2343.0,1518.4 2344.1,1518.4 2345.2,1513.8 2346.3,1520.3 2347.4,1517.8 2348.5,1515.2 2349.6,1519.8 2350.7,1515.4 2351.8,1518.9 2352.9,1520.7" fill="none" stroke="#8e9bff" stroke-width="6.8" stroke-linejoin="round" stroke-linecap="butt"/>
<polyline points="396.0,1344.1 397.1,1347.9 398.2,1344.9 399.3,1345.7 400.4,1342.1 401.5,1344.2 402.6,1353.7 403.7,1354.0 404.8,1354.4 405.9,1359.5 407.0,1354.3 408.1,1356.7 409.2,1361.6 410.3,1362.4 411.4,1364.6 412.5,1361.4 413.6,1367.0 414.7,1372.0 415.8,1364.0 416.9,1375.5 418.0,1371.0 419.1,1373.2 420.2,1376.8 421.3,1378.1 422.4,1382.2 423.5,1389.6 424.6,1385.7 425.7,1386.5 426.8,1388.8 427.9,1389.6 429.0,1393.1 430.1,1393.6 431.2,1396.6 432.3,1400.5 433.4,1407.9 434.5,1406.8 435.6,1412.1 436.7,1409.0 437.8,1405.3 438.9,1408.6 440.0,1414.5 441.1,1414.2 442.2,1417.0 443.3,1416.2 444.4,1416.4 445.5,1419.4 446.6,1418.3 447.7,1417.4 448.8,1421.7 449.9,1420.0 451.0,1424.1 452.1,1434.5 453.2,1425.5 454.3,1425.1 455.4,1433.3 456.5,1430.3 457.6,1428.4 458.7,1432.1 459.8,1437.3 460.9,1432.7 462.0,1440.8 463.1,1432.7 464.2,1436.4 465.3,1437.7 466.4,1436.5 467.5,1440.8 468.6,1439.4 469.7,1446.1 470.8,1439.2 471.9,1447.4 473.0,1448.1 474.1,1442.9 475.2,1447.3 476.3,1450.9 477.4,1447.9 478.5,1442.7 479.6,1445.5 480.7,1450.4 481.8,1446.1 482.9,1442.4 484.0,1448.8 485.1,1443.1 486.2,1444.8 487.3,1451.3 488.4,1450.7 489.5,1448.4 490.6,1451.2 491.7,1454.1 492.8,1450.0 493.9,1456.4 495.0,1456.4 496.1,1455.5 497.2,1453.8 498.3,1461.3 499.4,1449.6 500.5,1460.4 501.6,1455.2 502.7,1460.6 503.8,1456.0 504.9,1458.1 506.0,1465.4 507.1,1455.3 508.2,1460.1 509.3,1466.5 510.4,1465.5 511.5,1460.4 512.6,1464.5 513.7,1466.4 514.8,1470.8 515.9,1469.8 517.0,1464.2 518.1,1474.5 519.2,1471.2 520.3,1470.0 521.4,1467.5 522.5,1470.5 523.6,1469.2 524.7,1468.9 525.8,1469.7 526.9,1475.3 528.0,1471.7 529.1,1478.2 530.2,1475.9 531.3,1469.3 532.4,1476.9 533.5,1472.9 534.6,1477.4 535.7,1478.8 536.8,1471.7 537.9,1477.8 539.0,1476.8 540.1,1474.2 541.2,1475.5 542.3,1481.5 543.4,1476.2 544.5,1481.0 545.6,1480.5 546.7,1479.0 547.8,1473.5 548.9,1480.6 550.0,1481.5 551.1,1481.2 552.2,1477.9 553.3,1477.9 554.4,1477.4 555.5,1478.1 556.6,1478.6 557.7,1477.9 558.8,1477.2 559.9,1482.3 561.0,1479.8 562.1,1484.5 563.2,1476.6 564.3,1480.3 565.4,1479.6 566.5,1478.2 567.6,1479.1 568.7,1477.4 569.8,1480.9 570.9,1477.5 572.0,1483.4 573.1,1482.9 574.2,1484.5 575.3,1477.1 576.4,1485.7 577.5,1479.2 578.6,1484.5 579.7,1481.9 580.8,1480.7 581.9,1479.8 583.0,1487.1 584.1,1484.3 585.2,1488.4 586.3,1484.6 587.4,1484.7 588.5,1489.5 589.6,1485.0 590.7,1488.9 591.8,1491.1 592.9,1485.2 594.0,1483.6 595.1,1482.8 596.2,1483.6 597.3,1485.5 598.4,1485.8 599.5,1488.4 600.6,1488.1 601.7,1481.6 602.8,1486.5 603.9,1488.1 605.0,1494.9 606.1,1493.4 607.2,1492.7 608.3,1495.7 609.4,1500.2 610.5,1492.2 611.6,1489.1 612.7,1495.5 613.8,1497.0 614.9,1493.5 616.0,1495.8 617.1,1496.0 618.2,1494.3 619.3,1493.3 620.4,1493.6 621.5,1499.4 622.6,1497.3 623.7,1492.8 624.8,1497.5 625.9,1494.9 627.0,1499.3 628.1,1493.4 629.2,1497.6 630.3,1496.0 631.4,1497.8 632.5,1495.0 633.6,1503.1 634.7,1494.4 635.8,1496.3 636.9,1496.2 638.0,1500.9 639.1,1494.9 640.2,1497.5 641.3,1500.0 642.4,1498.7 643.5,1495.7 644.6,1495.4 645.7,1494.7 646.8,1496.9 647.9,1501.9 649.0,1493.4 650.1,1500.2 651.2,1499.3 652.3,1497.2 653.4,1494.5 654.5,1495.3 655.6,1495.7 656.7,1496.7 657.8,1496.0 658.9,1497.8 660.0,1496.5 661.1,1496.2 662.2,1496.3 663.3,1498.1 664.4,1500.1 665.5,1496.9 666.6,1500.6 667.7,1500.9 668.8,1497.2 669.9,1496.8 671.0,1505.5 672.1,1500.5 673.2,1498.0 674.3,1501.2 675.4,1504.4 676.5,1500.9 677.6,1495.6 678.7,1496.8 679.8,1492.7 680.9,1496.3 682.0,1493.8 683.1,1497.2 684.2,1497.0 685.3,1495.8 686.4,1496.1 687.5,1496.6 688.6,1496.7 689.7,1496.2 690.8,1495.5 691.9,1496.6 693.0,1499.3 694.1,1493.0 695.2,1496.6 696.3,1500.6 697.4,1497.3 698.5,1499.9 699.6,1499.1 700.7,1501.5 701.8,1500.2 702.9,1498.7 704.0,1499.0 705.1,1497.5 706.2,1499.5 707.3,1499.9 708.4,1499.8 709.5,1494.3 710.6,1496.3 711.7,1488.4 712.8,1495.7 713.9,1497.2 715.0,1493.0 716.1,1492.5 717.2,1494.3 718.3,1498.9 719.4,1494.3 720.5,1493.4 721.6,1501.8 722.7,1500.4 723.8,1501.6 724.9,1502.0 726.0,1500.2 727.1,1500.9 728.2,1497.8 729.3,1498.9 730.4,1496.0 731.5,1497.9 732.6,1497.8 733.7,1499.7 734.8,1498.0 735.9,1503.3 737.0,1495.1 738.1,1498.6 739.2,1497.6 740.3,1491.2 741.4,1500.9 742.5,1496.7 743.6,1497.2 744.7,1497.6 745.8,1496.0 746.9,1496.3 748.0,1497.0 749.1,1494.6 750.2,1495.8 751.3,1493.0 752.4,1495.3 753.5,1496.3 754.6,1491.5 755.7,1498.0 756.8,1496.2 757.9,1499.5 759.0,1498.3 760.1,1495.7 761.2,1491.2 762.3,1496.9 763.4,1496.3 764.5,1499.1 765.6,1496.9 766.7,1494.0 767.8,1496.8 768.9,1490.9 770.0,1495.4 771.1,1500.8 772.2,1498.2 773.3,1498.4 774.4,1492.0 775.5,1493.9 776.6,1494.4 777.7,1496.1 778.8,1500.0 779.9,1497.7 781.0,1494.2 782.1,1499.3 783.2,1496.7 784.3,1499.5 785.4,1490.5 786.5,1493.6 787.6,1495.4 788.7,1496.6 789.8,1493.6 790.9,1495.1 792.0,1491.3 793.1,1495.3 794.2,1493.9 795.3,1491.0 796.4,1496.3 797.5,1492.1 798.6,1491.7 799.7,1489.8 800.8,1491.7 801.9,1490.7 803.0,1493.2 804.1,1492.1 805.2,1489.9 806.3,1483.9 807.4,1494.2 808.5,1485.0 809.6,1489.7 810.7,1493.9 811.8,1489.5 812.9,1496.5 814.0,1489.9 815.1,1485.0 816.2,1489.7 817.3,1490.8 818.4,1492.9 819.5,1494.0 820.6,1490.7 821.7,1487.1 822.8,1487.6 823.9,1487.4 825.0,1486.7 826.1,1482.9 827.2,1479.7 828.3,1486.1 829.4,1489.4 830.5,1482.9 831.6,1481.6 832.7,1479.8 833.8,1479.6 834.9,1475.7 836.0,1476.9 837.1,1477.5 838.2,1472.2 839.3,1467.9 840.4,1473.8 841.5,1467.7 842.6,1466.9 843.7,1470.9 844.8,1463.4 845.9,1459.3 847.0,1463.8 848.1,1453.1 849.2,1456.3 850.3,1459.4 851.4,1454.1 852.5,1449.0 853.6,1450.0 854.7,1452.0 855.8,1450.0 856.9,1439.3 858.0,1444.6 859.1,1440.7 860.2,1440.4 861.3,1437.7 862.4,1434.2 863.5,1437.9 864.6,1435.0 865.7,1435.9 866.8,1430.5 867.9,1437.1 869.0,1424.4 870.1,1429.5 871.2,1416.9 872.3,1424.1 873.4,1429.3 874.5,1409.5 875.6,1415.2 876.7,1408.5 877.8,1408.1 878.9,1409.4 880.0,1397.2 881.1,1399.2 882.2,1399.4 883.3,1400.6 884.4,1396.0 885.5,1389.6 886.6,1379.9 887.7,1380.9 888.8,1387.7 889.9,1376.5 891.0,1377.0 892.1,1369.4 893.2,1371.1 894.3,1376.4 895.4,1367.7 896.5,1367.4 897.6,1360.8 898.7,1353.6 899.8,1350.8 900.9,1338.0 902.0,1337.3 903.1,1329.6 904.2,1331.2 905.3,1330.6 906.4,1332.8 907.5,1320.0 908.6,1312.5 909.7,1310.9 910.8,1305.4 911.9,1311.3 913.0,1297.7 914.1,1299.4 915.2,1300.1 916.3,1286.7 917.4,1291.4 918.5,1285.3 919.6,1284.5 920.7,1273.3 921.8,1273.9 922.9,1277.0 924.0,1272.6 925.1,1266.1 926.2,1252.5 927.3,1248.5 928.4,1248.1 929.5,1221.7 930.6,1224.2 931.7,1223.1 932.8,1229.0 933.9,1213.6 935.0,1195.9 936.1,1210.2 937.2,1182.5 938.3,1189.1 939.4,1174.7 940.5,1189.0 941.6,1177.6 942.7,1166.9 943.8,1156.6 944.9,1143.1 946.0,1153.0 947.1,1144.9 948.2,1129.4 949.3,1122.7 950.4,1111.2 951.5,1111.9 952.6,1105.9 953.7,1086.5 954.8,1069.4 955.9,1081.6 957.0,1068.1 958.1,1065.4 959.2,1078.9 960.3,1057.9 961.4,1027.5 962.5,1025.4 963.6,1014.3 964.7,1036.8 965.8,1012.7 966.9,980.6 968.0,1003.3 969.1,988.4 970.2,966.5 971.3,968.1 972.4,966.4 973.5,975.1 974.6,972.5 975.7,936.0 976.8,948.1 977.9,918.4 979.0,914.2 980.1,927.4 981.2,889.2 982.3,879.5 983.4,896.2 984.5,872.0 985.6,881.9 986.7,863.6 987.8,851.9 988.9,849.8 990.0,846.1 991.1,830.1 992.2,822.4 993.3,839.3 994.4,811.1 995.5,795.8 996.6,806.7 997.7,811.4 998.8,800.3 999.9,784.4 1001.0,767.0 1002.1,790.9 1003.2,754.1 1004.3,761.2 1005.4,742.5 1006.5,746.2 1007.6,736.6 1008.7,727.6 1009.8,732.1 1010.9,736.6 1012.0,722.5 1013.1,729.0 1014.2,718.7 1015.3,710.9 1016.4,722.4 1017.5,694.8 1018.6,682.2 1019.7,690.6 1020.8,683.8 1021.9,670.4 1023.0,660.4 1024.1,651.3 1025.2,640.3 1026.3,645.6 1027.4,626.9 1028.5,625.2 1029.6,635.2 1030.7,605.7 1031.8,599.3 1032.9,628.6 1034.0,606.8 1035.1,595.2 1036.2,606.6 1037.3,574.4 1038.4,588.0 1039.5,562.9 1040.6,583.7 1041.7,561.8 1042.8,563.0 1043.9,543.4 1045.0,533.5 1046.1,533.7 1047.2,552.3 1048.3,513.7 1049.4,530.1 1050.5,526.9 1051.6,496.4 1052.7,494.6 1053.8,494.3 1054.9,479.7 1056.0,481.9 1057.1,476.2 1058.2,460.6 1059.3,432.5 1060.4,475.8 1061.5,456.2 1062.6,445.2 1063.7,457.1 1064.8,483.8 1065.9,449.4 1067.0,421.3 1068.1,426.4 1069.2,458.4 1070.3,422.5 1071.4,444.6 1072.5,458.3 1073.6,440.6 1074.7,440.8 1075.8,415.0 1076.9,418.0 1078.0,417.3 1079.1,374.2 1080.2,382.3 1081.3,440.3 1082.4,421.2 1083.5,393.0 1084.6,420.1 1085.7,372.7 1086.8,423.9 1087.9,405.1 1089.0,386.7 1090.1,405.7 1091.2,383.0 1092.3,381.9 1093.4,355.9 1094.5,342.1 1095.6,349.5 1096.7,348.6 1097.8,360.1 1098.9,319.0 1100.0,338.6 1101.1,289.5 1102.2,332.5 1103.3,304.7 1104.4,290.9 1105.5,299.2 1106.6,264.5 1107.7,329.3 1108.8,328.7 1109.9,300.9 1111.0,286.3 1112.1,295.2 1113.2,270.1 1114.3,279.7 1115.4,307.3 1116.5,255.6 1117.6,286.1 1118.7,271.9 1119.8,256.0 1120.9,293.2 1122.0,260.8 1123.1,208.2 1124.2,236.6 1125.3,248.9 1126.4,232.7 1127.5,221.7 1128.6,247.7 1129.7,207.5 1130.8,246.8 1131.9,221.3 1133.0,215.7 1134.1,239.8 1135.2,214.7 1136.3,244.2 1137.4,189.4 1138.5,234.2 1139.6,234.9 1140.7,205.4 1141.8,225.3 1142.9,189.6 1144.0,191.1 1145.1,220.8 1146.2,178.5 1147.3,177.5 1148.4,204.1 1149.5,186.0 1150.6,240.1 1151.7,213.7 1152.8,224.0 1153.9,214.8 1155.0,223.4 1156.1,181.6 1157.2,194.1 1158.3,184.1 1159.4,197.6 1160.5,161.2 1161.6,183.0 1162.7,182.6 1163.8,182.0 1164.9,178.2 1166.0,168.3 1167.1,167.0 1168.2,180.1 1169.3,146.8 1170.4,190.9 1171.5,184.1 1172.6,189.7 1173.7,152.8 1174.8,157.0 1175.9,169.4 1177.0,170.2 1178.1,153.1 1179.2,193.8 1180.3,189.1 1181.4,200.6 1182.5,218.0 1183.6,180.8 1184.7,172.6 1185.8,202.8 1186.9,179.8 1188.0,168.5 1189.1,181.9 1190.2,163.4 1191.3,180.0 1192.4,178.6 1193.5,158.1 1194.6,195.4 1195.7,177.1 1196.8,183.8 1197.9,171.9 1199.0,195.5 1200.1,195.0 1201.2,176.6 1202.3,196.2 1203.4,161.8 1204.5,189.2 1205.6,201.9 1206.7,220.2 1207.8,202.2 1208.9,245.6 1210.0,226.5 1211.1,218.5 1212.2,263.8 1213.3,246.6 1214.4,179.1 1215.5,237.5 1216.6,267.7 1217.7,208.7 1218.8,216.3 1219.9,253.5 1221.0,233.2 1222.1,208.2 1223.2,244.8 1224.3,262.1 1225.4,222.1 1226.5,233.1 1227.6,242.9 1228.7,265.5 1229.8,247.4 1230.9,259.0 1232.0,258.0 1233.1,245.7 1234.2,269.2 1235.3,268.0 1236.4,252.1 1237.5,283.2 1238.6,281.9 1239.7,275.0 1240.8,305.7 1241.9,319.2 1243.0,276.3 1244.1,307.2 1245.2,285.5 1246.3,333.9 1247.4,292.5 1248.5,315.3 1249.6,294.4 1250.7,328.3 1251.8,336.9 1252.9,339.4 1254.0,315.8 1255.1,324.2 1256.2,358.6 1257.3,323.8 1258.4,356.1 1259.5,352.7 1260.6,361.5 1261.7,340.8 1262.8,362.4 1263.9,353.4 1265.0,357.1 1266.1,386.8 1267.2,367.3 1268.3,361.0 1269.4,377.1 1270.5,404.2 1271.6,407.2 1272.7,440.3 1273.8,418.7 1274.9,419.4 1276.0,412.5 1277.1,427.7 1278.2,444.2 1279.3,446.6 1280.4,450.2 1281.5,485.3 1282.6,466.1 1283.7,488.7 1284.8,494.8 1285.9,494.8 1287.0,512.5 1288.1,531.4 1289.2,539.3 1290.3,535.2 1291.4,543.8 1292.5,564.8 1293.6,552.7 1294.7,570.5 1295.8,582.7 1296.9,566.2 1298.0,578.7 1299.1,574.9 1300.2,584.9 1301.3,610.8 1302.4,602.5 1303.5,625.2 1304.6,628.7 1305.7,630.4 1306.8,652.4 1307.9,651.1 1309.0,664.1 1310.1,667.9 1311.2,682.1 1312.3,689.7 1313.4,684.0 1314.5,696.4 1315.6,706.7 1316.7,705.1 1317.8,721.4 1318.9,718.7 1320.0,734.8 1321.1,725.6 1322.2,754.9 1323.3,756.5 1324.4,776.0 1325.5,774.3 1326.6,777.5 1327.7,793.2 1328.8,808.4 1329.9,811.3 1331.0,831.3 1332.1,848.6 1333.2,840.5 1334.3,860.5 1335.4,859.4 1336.5,865.0 1337.6,880.0 1338.7,894.5 1339.8,892.7 1340.9,914.0 1342.0,906.5 1343.1,928.2 1344.2,938.7 1345.3,941.4 1346.4,946.9 1347.5,951.9 1348.6,964.4 1349.7,969.6 1350.8,982.0 1351.9,996.7 1353.0,994.7 1354.1,1002.9 1355.2,1008.0 1356.3,1027.0 1357.4,1032.2 1358.5,1032.5 1359.6,1042.6 1360.7,1045.0 1361.8,1058.6 1362.9,1068.6 1364.0,1081.5 1365.1,1077.3 1366.2,1084.4 1367.3,1098.8 1368.4,1096.5 1369.5,1110.5 1370.6,1110.4 1371.7,1118.5 1372.8,1128.5 1373.9,1147.4 1375.0,1149.0 1376.1,1162.1 1377.2,1168.3 1378.3,1173.0 1379.4,1186.2 1380.5,1187.9 1381.6,1196.9 1382.7,1193.3 1383.8,1221.7 1384.9,1219.3 1386.0,1225.6 1387.1,1244.3 1388.2,1240.5 1389.3,1253.7 1390.4,1259.8 1391.5,1276.4 1392.6,1275.0 1393.7,1275.0 1394.8,1293.7 1395.9,1282.5 1397.0,1289.7 1398.1,1295.4 1399.2,1294.6 1400.3,1308.5 1401.4,1305.0 1402.5,1312.5 1403.6,1307.2 1404.7,1313.5 1405.8,1324.0 1406.9,1329.7 1408.0,1332.6 1409.1,1337.9 1410.2,1342.5 1411.3,1353.5 1412.4,1357.0 1413.5,1352.0 1414.6,1354.8 1415.7,1365.8 1416.8,1370.4 1417.9,1370.0 1419.0,1381.4 1420.1,1377.6 1421.2,1385.3 1422.3,1389.4 1423.4,1398.4 1424.5,1385.8 1425.6,1403.5 1426.7,1398.9 1427.8,1416.4 1428.9,1407.1 1430.0,1423.0 1431.1,1424.3 1432.2,1426.4 1433.3,1428.1 1434.4,1433.9 1435.5,1436.5 1436.6,1430.1 1437.7,1439.0 1438.8,1439.9 1439.9,1438.1 1441.0,1438.4 1442.1,1445.0 1443.2,1448.2 1444.3,1449.3 1445.4,1454.5 1446.5,1450.2 1447.6,1456.6 1448.7,1455.1 1449.8,1458.6 1450.9,1462.6 1452.0,1461.3 1453.1,1468.9 1454.2,1465.9 1455.3,1465.7 1456.4,1476.6 1457.5,1475.9 1458.6,1472.0 1459.7,1475.2 1460.8,1474.0 1461.9,1482.8 1463.0,1481.0 1464.1,1487.6 1465.2,1480.1 1466.3,1480.4 1467.4,1481.0 1468.5,1483.3 1469.6,1482.1 1470.7,1479.2 1471.8,1491.5 1472.9,1490.2 1474.0,1493.8 1475.1,1490.1 1476.2,1493.2 1477.3,1494.0 1478.4,1494.0 1479.5,1500.2 1480.6,1499.4 1481.7,1498.4 1482.8,1494.8 1483.9,1498.8 1485.0,1502.3 1486.1,1501.1 1487.2,1500.5 1488.3,1497.6 1489.4,1499.6 1490.5,1501.4 1491.6,1502.4 1492.7,1504.6 1493.8,1507.7 1494.9,1501.9 1496.0,1504.5 1497.1,1504.4 1498.2,1509.8 1499.3,1507.4 1500.4,1506.9 1501.5,1505.1 1502.6,1509.5 1503.7,1508.7 1504.8,1515.5 1505.9,1508.6 1507.0,1509.5 1508.1,1511.4 1509.2,1513.1 1510.3,1513.9 1511.4,1516.8 1512.5,1515.9 1513.6,1515.4 1514.7,1516.9 1515.8,1509.4 1516.9,1512.4 1518.0,1512.9 1519.1,1512.0 1520.2,1513.5 1521.3,1514.5 1522.4,1508.3 1523.5,1514.3 1524.6,1511.3 1525.7,1514.4 1526.8,1506.4 1527.9,1505.4 1529.0,1506.3 1530.1,1513.1 1531.2,1507.8 1532.3,1505.4 1533.4,1509.5 1534.5,1513.1 1535.6,1511.5 1536.7,1505.0 1537.8,1509.2 1538.9,1510.5 1540.0,1510.1 1541.1,1516.9 1542.2,1514.6 1543.3,1513.5 1544.4,1514.7 1545.5,1516.7 1546.6,1515.6 1547.7,1510.7 1548.8,1510.7 1549.9,1516.6 1551.0,1513.3 1552.1,1512.4 1553.2,1514.2 1554.3,1516.2 1555.4,1512.6 1556.5,1520.7 1557.6,1509.2 1558.7,1517.0 1559.8,1517.5 1560.9,1511.2 1562.0,1514.1 1563.1,1516.7 1564.2,1511.2 1565.3,1515.4 1566.4,1508.9 1567.5,1514.8 1568.6,1518.8 1569.7,1512.9 1570.8,1514.3 1571.9,1510.7 1573.0,1509.0 1574.1,1517.8 1575.2,1514.5 1576.3,1513.8 1577.4,1511.7 1578.5,1511.0 1579.6,1515.8 1580.7,1514.3 1581.8,1507.6 1582.9,1511.4 1584.0,1512.8 1585.1,1513.5 1586.2,1512.0 1587.3,1512.5 1588.4,1510.5 1589.5,1510.1 1590.6,1513.8 1591.7,1511.2 1592.8,1512.2 1593.9,1513.8 1595.0,1512.3 1596.1,1515.4 1597.2,1512.1 1598.3,1515.0 1599.4,1516.6 1600.5,1515.2 1601.6,1513.2 1602.7,1511.9 1603.8,1515.9 1604.9,1510.5 1606.0,1511.8 1607.1,1513.7 1608.2,1513.6 1609.3,1511.2 1610.4,1511.7 1611.5,1511.7 1612.6,1516.7 1613.7,1511.0 1614.8,1510.4 1615.9,1517.4 1617.0,1513.3 1618.1,1511.3 1619.2,1515.4 1620.3,1513.2 1621.4,1516.3 1622.5,1509.7 1623.6,1513.9 1624.7,1509.9 1625.8,1511.3 1626.9,1511.4 1628.0,1513.3 1629.1,1511.2 1630.2,1513.1 1631.3,1513.1 1632.4,1516.4 1633.5,1513.8 1634.6,1512.2 1635.7,1515.1 1636.8,1515.5 1637.9,1509.9 1639.0,1513.8 1640.1,1513.4 1641.2,1516.3 1642.3,1514.4 1643.4,1509.2 1644.5,1511.7 1645.6,1516.1 1646.7,1514.8 1647.8,1514.3 1648.9,1519.7 1650.0,1518.5 1651.1,1515.0 1652.2,1519.3 1653.3,1515.7 1654.4,1516.0 1655.5,1515.1 1656.6,1514.4 1657.7,1515.0 1658.8,1514.5 1659.9,1515.6 1661.0,1513.8 1662.1,1514.3 1663.2,1511.3 1664.3,1516.6 1665.4,1516.8 1666.5,1519.1 1667.6,1515.3 1668.7,1516.8 1669.8,1509.6 1670.9,1512.3 1672.0,1512.2 1673.1,1515.1 1674.2,1514.4 1675.3,1510.1 1676.4,1513.1 1677.5,1512.4 1678.6,1510.2 1679.7,1515.7 1680.8,1511.5 1681.9,1513.3 1683.0,1514.4 1684.1,1515.0 1685.2,1513.3 1686.3,1517.3 1687.4,1512.7 1688.5,1512.6 1689.6,1515.8 1690.7,1516.0 1691.8,1513.9 1692.9,1516.4 1694.0,1515.4 1695.1,1516.5 1696.2,1515.8 1697.3,1513.6 1698.4,1515.2 1699.5,1515.5 1700.6,1514.1 1701.7,1513.7 1702.8,1512.6 1703.9,1513.9 1705.0,1515.7 1706.1,1514.5 1707.2,1516.4 1708.3,1512.3 1709.4,1514.6 1710.5,1510.4 1711.6,1515.6 1712.7,1510.7 1713.8,1514.9 1714.9,1513.8 1716.0,1513.7 1717.1,1513.3 1718.2,1515.1 1719.3,1517.5 1720.4,1516.4 1721.5,1515.5 1722.6,1516.9 1723.7,1516.7 1724.8,1511.6 1725.9,1518.4 1727.0,1515.1 1728.1,1516.6 1729.2,1515.6 1730.3,1515.5 1731.4,1514.9 1732.5,1515.8 1733.6,1513.9 1734.7,1514.5 1735.8,1515.7 1736.9,1515.9 1738.0,1515.8 1739.1,1515.1 1740.2,1512.0 1741.3,1513.4 1742.4,1515.1 1743.5,1515.8 1744.6,1511.3 1745.7,1514.8 1746.8,1514.9 1747.9,1509.4 1749.0,1510.3 1750.1,1508.5 1751.2,1508.9 1752.3,1512.8 1753.4,1512.6 1754.5,1512.3 1755.6,1507.8 1756.7,1512.1 1757.8,1510.1 1758.9,1510.0 1760.0,1511.7 1761.1,1507.9 1762.2,1513.3 1763.3,1512.5 1764.4,1512.7 1765.5,1510.1 1766.6,1512.1 1767.7,1511.4 1768.8,1513.5 1769.9,1509.7 1771.0,1517.6 1772.1,1509.3 1773.2,1515.0 1774.3,1514.8 1775.4,1516.3 1776.5,1511.4 1777.6,1511.4 1778.7,1510.6 1779.8,1511.0 1780.9,1517.3 1782.0,1512.9 1783.1,1514.1 1784.2,1512.3 1785.3,1518.2 1786.4,1512.3 1787.5,1513.2 1788.6,1515.4 1789.7,1516.9 1790.8,1513.8 1791.9,1513.6 1793.0,1514.3 1794.1,1518.1 1795.2,1516.9 1796.3,1512.4 1797.4,1512.8 1798.5,1511.5 1799.6,1514.0 1800.7,1513.4 1801.8,1515.2 1802.9,1515.1 1804.0,1516.4 1805.1,1515.2 1806.2,1514.0 1807.3,1514.4 1808.4,1512.2 1809.5,1513.7 1810.6,1513.9 1811.7,1515.4 1812.8,1513.8 1813.9,1513.8 1815.0,1516.3 1816.1,1514.9 1817.2,1514.0 1818.3,1518.7 1819.4,1512.8 1820.5,1513.8 1821.6,1517.5 1822.7,1514.1 1823.8,1510.7 1824.9,1517.3 1826.0,1515.3 1827.1,1515.8 1828.2,1512.3 1829.3,1513.3 1830.4,1514.3 1831.5,1515.0 1832.6,1514.8 1833.7,1515.2 1834.8,1514.1 1835.9,1514.4 1837.0,1512.4 1838.1,1514.1 1839.2,1512.6 1840.3,1514.6 1841.4,1516.2 1842.5,1518.6 1843.6,1514.3 1844.7,1511.0 1845.8,1511.6 1846.9,1513.3 1848.0,1514.8 1849.1,1513.0 1850.2,1511.9 1851.3,1513.5 1852.4,1515.2 1853.5,1515.4 1854.6,1516.9 1855.7,1516.2 1856.8,1509.1 1857.9,1512.9 1859.0,1516.4 1860.1,1513.6 1861.2,1515.0 1862.3,1515.1 1863.4,1515.4 1864.5,1515.9 1865.6,1514.6 1866.7,1516.2 1867.8,1513.4 1868.9,1515.6 1870.0,1517.3 1871.1,1512.6 1872.2,1514.9 1873.3,1516.2 1874.4,1514.3 1875.5,1515.6 1876.6,1516.6 1877.7,1518.4 1878.8,1519.6 1879.9,1515.1 1881.0,1519.8 1882.1,1517.0 1883.2,1513.2 1884.3,1515.1 1885.4,1511.7 1886.5,1514.6 1887.6,1513.7 1888.7,1510.7 1889.8,1516.9 1890.9,1514.8 1892.0,1517.8 1893.1,1515.8 1894.2,1519.8 1895.3,1518.2 1896.4,1515.8 1897.5,1519.2 1898.6,1513.3 1899.7,1518.5 1900.8,1516.1 1901.9,1510.8 1903.0,1516.8 1904.1,1513.2 1905.2,1516.5 1906.3,1511.8 1907.4,1515.1 1908.5,1512.8 1909.6,1512.5 1910.7,1516.1 1911.8,1513.6 1912.9,1515.4 1914.0,1511.0 1915.1,1513.3 1916.2,1513.5 1917.3,1511.6 1918.4,1515.2 1919.5,1514.5 1920.6,1514.4 1921.7,1513.9 1922.8,1513.2 1923.9,1510.5 1925.0,1517.0 1926.1,1510.7 1927.2,1514.7 1928.3,1513.6 1929.4,1514.7 1930.5,1516.4 1931.6,1509.5 1932.7,1514.3 1933.8,1512.9 1934.9,1510.8 1936.0,1509.9 1937.1,1511.2 1938.2,1513.3 1939.3,1516.8 1940.4,1516.4 1941.5,1515.7 1942.6,1513.6 1943.7,1516.8 1944.8,1514.7 1945.9,1516.3 1947.0,1512.7 1948.1,1515.1 1949.2,1510.9 1950.3,1515.6 1951.4,1509.4 1952.5,1515.2 1953.6,1515.1 1954.7,1516.0 1955.8,1513.2 1956.9,1511.7 1958.0,1517.0 1959.1,1516.0 1960.2,1512.2 1961.3,1515.5 1962.4,1512.9 1963.5,1513.1 1964.6,1512.4 1965.7,1518.4 1966.8,1514.5 1967.9,1516.2 1969.0,1513.3 1970.1,1514.9 1971.2,1516.2 1972.3,1516.6 1973.4,1516.7 1974.5,1515.3 1975.6,1514.4 1976.7,1511.7 1977.8,1517.8 1978.9,1512.3 1980.0,1510.1 1981.1,1514.5 1982.2,1511.8 1983.3,1514.5 1984.4,1515.1 1985.5,1516.4 1986.6,1515.3 1987.7,1517.5 1988.8,1512.6 1989.9,1511.0 1991.0,1519.3 1992.1,1513.2 1993.2,1512.6 1994.3,1519.5 1995.4,1515.8 1996.5,1514.9 1997.6,1516.1 1998.7,1515.6 1999.8,1513.1 2000.9,1518.7 2002.0,1518.6 2003.1,1516.9 2004.2,1513.5 2005.3,1517.3 2006.4,1516.4 2007.5,1517.4 2008.6,1518.2 2009.7,1512.2 2010.8,1513.5 2011.9,1509.2 2013.0,1514.3 2014.1,1511.8 2015.2,1515.3 2016.3,1512.2 2017.4,1511.9 2018.5,1514.4 2019.6,1514.5 2020.7,1509.3 2021.8,1514.2 2022.9,1517.2 2024.0,1509.6 2025.1,1510.1 2026.2,1515.1 2027.3,1513.8 2028.4,1513.4 2029.5,1512.7 2030.6,1511.5 2031.7,1512.5 2032.8,1511.8 2033.9,1510.1 2035.0,1513.9 2036.1,1512.6 2037.2,1515.2 2038.3,1513.7 2039.4,1514.5 2040.5,1512.7 2041.6,1516.0 2042.7,1515.1 2043.8,1512.4 2044.9,1510.4 2046.0,1513.3 2047.1,1518.2 2048.2,1516.1 2049.3,1519.1 2050.4,1515.0 2051.5,1513.5 2052.6,1514.6 2053.7,1518.5 2054.8,1516.6 2055.9,1513.8 2057.0,1517.7 2058.1,1516.7 2059.2,1515.1 2060.3,1519.8 2061.4,1515.8 2062.5,1518.6 2063.6,1515.1 2064.7,1515.3 2065.8,1516.2 2066.9,1513.3 2068.0,1511.6 2069.1,1516.0 2070.2,1513.7 2071.3,1512.8 2072.4,1513.0 2073.5,1510.7 2074.6,1514.8 2075.7,1516.0 2076.8,1513.4 2077.9,1514.7 2079.0,1512.9 2080.1,1515.0 2081.2,1514.0 2082.3,1513.4 2083.4,1516.2 2084.5,1512.3 2085.6,1514.1 2086.7,1516.7 2087.8,1514.1 2088.9,1516.2 2090.0,1515.8 2091.1,1514.1 2092.2,1511.4 2093.3,1511.4 2094.4,1513.4 2095.5,1513.6 2096.6,1520.4 2097.7,1512.6 2098.8,1516.8 2099.9,1514.5 2101.0,1514.9 2102.1,1516.5 2103.2,1516.0 2104.3,1513.1 2105.4,1513.9 2106.5,1514.6 2107.6,1514.9 2108.7,1514.1 2109.8,1516.4 2110.9,1509.8 2112.0,1517.3 2113.1,1513.8 2114.2,1512.9 2115.3,1517.8 2116.4,1513.9 2117.5,1514.8 2118.6,1516.2 2119.7,1516.7 2120.8,1516.1 2121.9,1513.8 2123.0,1513.6 2124.1,1517.1 2125.2,1517.3 2126.3,1515.5 2127.4,1519.1 2128.5,1513.1 2129.6,1515.5 2130.7,1514.8 2131.8,1515.3 2132.9,1517.2 2134.0,1514.3 2135.1,1510.9 2136.2,1515.7 2137.3,1511.2 2138.4,1514.7 2139.5,1515.2 2140.6,1511.9 2141.7,1516.7 2142.8,1517.9 2143.9,1513.6 2145.0,1513.9 2146.1,1513.9 2147.2,1508.9 2148.3,1509.7 2149.4,1510.3 2150.5,1511.0 2151.6,1513.9 2152.7,1510.2 2153.8,1511.5 2154.9,1513.4 2156.0,1516.4 2157.1,1516.0 2158.2,1515.9 2159.3,1512.5 2160.4,1515.7 2161.5,1516.3 2162.6,1514.7 2163.7,1516.2 2164.8,1514.7 2165.9,1516.5 2167.0,1515.1 2168.1,1515.3 2169.2,1519.1 2170.3,1513.9 2171.4,1516.9 2172.5,1514.1 2173.6,1514.3 2174.7,1515.8 2175.8,1516.4 2176.9,1516.7 2178.0,1515.6 2179.1,1514.4 2180.2,1515.7 2181.3,1521.5 2182.4,1511.6 2183.5,1511.8 2184.6,1516.4 2185.7,1516.0 2186.8,1514.6 2187.9,1511.5 2189.0,1513.4 2190.1,1514.1 2191.2,1514.4 2192.3,1516.0 2193.4,1513.5 2194.5,1515.8 2195.6,1515.8 2196.7,1516.0 2197.8,1514.4 2198.9,1514.4 2200.0,1514.6 2201.1,1515.8 2202.2,1516.6 2203.3,1515.4 2204.4,1513.2 2205.5,1514.6 2206.6,1517.2 2207.7,1513.4 2208.8,1517.8 2209.9,1514.4 2211.0,1517.8 2212.1,1514.8 2213.2,1516.1 2214.3,1516.5 2215.4,1512.1 2216.5,1512.7 2217.6,1513.6 2218.7,1511.0 2219.8,1516.8 2220.9,1516.3 2222.0,1510.0 2223.1,1517.9 2224.2,1513.3 2225.3,1513.3 2226.4,1516.9 2227.5,1515.2 2228.6,1516.4 2229.7,1514.2 2230.8,1520.0 2231.9,1513.6 2233.0,1519.0 2234.1,1517.6 2235.2,1518.0 2236.3,1514.0 2237.4,1511.7 2238.5,1515.8 2239.6,1514.2 2240.7,1519.6 2241.8,1513.3 2242.9,1515.0 2244.0,1511.9 2245.1,1511.2 2246.2,1511.6 2247.3,1511.8 2248.4,1517.8 2249.5,1516.4 2250.6,1512.1 2251.7,1516.1 2252.8,1513.5 2253.9,1516.0 2255.0,1513.2 2256.1,1518.3 2257.2,1515.2 2258.3,1515.5 2259.4,1515.2 2260.5,1513.7 2261.6,1518.6 2262.7,1515.2 2263.8,1519.5 2264.9,1514.5 2266.0,1519.2 2267.1,1512.7 2268.2,1517.8 2269.3,1517.6 2270.4,1520.1 2271.5,1519.7 2272.6,1516.8 2273.7,1517.6 2274.8,1521.0 2275.9,1519.3 2277.0,1517.3 2278.1,1518.2 2279.2,1515.0 2280.3,1513.0 2281.4,1512.9 2282.5,1512.5 2283.6,1515.1 2284.7,1516.0 2285.8,1516.5 2286.9,1517.5 2288.0,1521.3 2289.1,1516.7 2290.2,1517.4 2291.3,1517.8 2292.4,1518.5 2293.5,1517.2 2294.6,1515.1 2295.7,1517.4 2296.8,1519.0 2297.9,1516.8 2299.0,1517.9 2300.1,1519.7 2301.2,1515.4 2302.3,1512.6 2303.4,1515.8 2304.5,1513.9 2305.6,1514.7 2306.7,1512.8 2307.8,1513.2 2308.9,1512.2 2310.0,1513.9 2311.1,1511.8 2312.2,1513.5 2313.3,1513.3 2314.4,1513.6 2315.5,1516.6 2316.6,1514.7 2317.7,1516.8 2318.8,1510.5 2319.9,1518.4 2321.0,1513.2 2322.1,1514.9 2323.2,1513.0 2324.3,1514.9 2325.4,1512.8 2326.5,1513.9 2327.6,1514.9 2328.7,1516.7 2329.8,1513.2 2330.9,1515.7 2332.0,1515.4 2333.1,1516.3 2334.2,1516.8 2335.3,1516.4 2336.4,1515.0 2337.5,1516.9 2338.6,1513.7 2339.7,1517.2 2340.8,1516.2 2341.9,1515.4 2343.0,1514.2 2344.1,1519.0 2345.2,1517.4 2346.3,1517.2 2347.4,1516.1 2348.5,1517.7 2349.6,1514.1 2350.7,1516.0 2351.8,1513.7 2352.9,1516.3" fill="none" stroke="#8e9bff" stroke-width="6.8" stroke-linejoin="round" stroke-linecap="butt"/>
</g>
<line x1="1182.4" y1="1264.8" x2="1424.2" y2="930.8" stroke="#8e9bff" stroke-width="8.8"/><polygon points="1457.9,884.2 1435.0,941.0 1411.1,923.7" fill="#8e9bff"/>
<line x1="1207.3" y1="1364.6" x2="1430.6" y2="1125.1" stroke="#8e9bff" stroke-width="8.8"/><polygon points="1469.8,1083.0 1440.0,1136.6 1418.4,1116.5" fill="#8e9bff"/>
<line x1="1260.5" y1="1493.5" x2="1524.0" y2="1350.0" stroke="#000" stroke-width="8.8"/><polygon points="1574.5,1322.5 1529.3,1363.9 1515.2,1338.0" fill="#000"/>
<g shape-rendering="crispEdges" fill="#000">
<rect x="389" y="18" width="1971" height="7"/>
<rect x="389" y="1602" width="1971" height="7"/>
<rect x="389" y="18" width="7" height="1591"/>
<rect x="2353" y="18" width="7" height="1591"/>
<rect x="361" y="427" width="28" height="7"/>
<rect x="361" y="974" width="28" height="7"/>
<rect x="361" y="1520" width="28" height="7"/>
<rect x="377" y="154" width="12" height="7"/>
<rect x="377" y="700" width="12" height="7"/>
<rect x="377" y="1247" width="12" height="7"/>
<rect x="782" y="1609" width="7" height="28"/>
<rect x="1231" y="1609" width="7" height="28"/>
<rect x="1680" y="1609" width="7" height="28"/>
<rect x="2129" y="1609" width="7" height="28"/>
<rect x="557" y="1609" width="7" height="12"/>
<rect x="1006" y="1609" width="7" height="12"/>
<rect x="1455" y="1609" width="7" height="12"/>
<rect x="1904" y="1609" width="7" height="12"/>
<rect x="2353" y="1609" width="7" height="12"/>
</g>
<text class="t" transform="translate(785.0,1711.0) scale(1,1.040)" text-anchor="middle">200</text>
<text class="t" transform="translate(1234.0,1711.0) scale(1,1.040)" text-anchor="middle">400</text>
<text class="t" transform="translate(1683.0,1711.0) scale(1,1.040)" text-anchor="middle">600</text>
<text class="t" transform="translate(2132.0,1711.0) scale(1,1.040)" text-anchor="middle">800</text>
<text class="t" transform="translate(340.3,1543.5) scale(1,1.040)" text-anchor="end">0</text>
<text class="t" transform="translate(110.6,1002.0) scale(1,1.040)">1×10<tspan class="s" dy="-26">−11</tspan></text>
<text class="t" transform="translate(110.6,456.0) scale(1,1.040)">2×10<tspan class="s" dy="-26">−11</tspan></text>
<text class="b" transform="translate(1373.5,1840.0) scale(1,1.030)" text-anchor="middle" letter-spacing="-1.20">T / ºC</text>
<text class="b" transform="translate(77.8,813.5) rotate(-90) scale(1,1.030)" text-anchor="middle" letter-spacing="-0.20">Ion current / A</text>
<text class="b" transform="translate(1255.5,228.0) scale(1,1.030)" fill="#8e9bff" letter-spacing="-0.52">m/e = 86 (TEA_2.2)</text>
<text class="b" transform="translate(1470.0,890.5) scale(1,1.030)" fill="#8e9bff" letter-spacing="-0.40">m/e = 101 (TEA_2.2)</text>
<text class="b" transform="translate(1467.0,1068.0) scale(1,1.030)" fill="#8e9bff" letter-spacing="-0.41">m/e = 72 (TEA_2.2)</text>
<text class="b" transform="translate(1599.5,1323.2) scale(1,1.030)" letter-spacing="-0.55">m/e = 72, 86, 101</text>
<text class="b" transform="translate(1537.0,1427.0) scale(1,1.030)" letter-spacing="-0.58">(Conventional ZIF-8)</text>
</svg></body></html>
